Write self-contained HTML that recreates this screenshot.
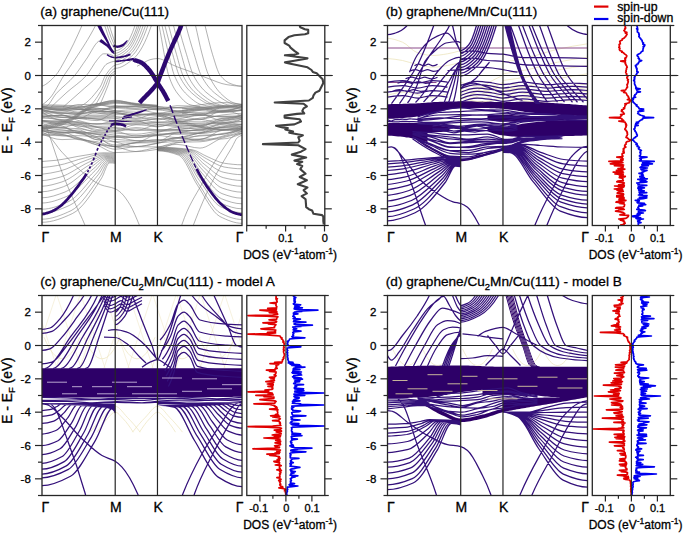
<!DOCTYPE html>
<html><head><meta charset="utf-8"><style>
html,body{margin:0;padding:0;background:#fff;width:685px;height:533px;overflow:hidden;}
svg{display:block;}
text{font-family:"Liberation Sans", sans-serif;fill:#000;stroke:#000;stroke-width:0.3px;}
</style></head><body>
<svg width="685" height="533" viewBox="0 0 685 533">
<g id="bands-a"><clipPath id="clipa"><rect x="42.0" y="25.5" width="200.0" height="200.0"/></clipPath><g clip-path="url(#clipa)"><path d="M42.0,86.2C46.5,84.7 51.0,80.3 55.5,75.5C58.8,72.0 62.0,65.6 65.3,59.8C70.9,49.9 76.4,38.3 82.0,25.5C84.0,20.9 86.0,15.7 88.0,10.5M42.0,104.8C44.7,103.3 47.3,100.9 50.0,98.0C54.6,93.0 59.3,82.6 63.9,75.5C67.5,70.0 71.1,65.4 74.7,59.8C81.6,49.2 88.6,39.1 95.5,25.5C97.0,22.6 98.5,19.0 100.0,15.5M42.0,107.2C43.3,107.2 44.7,106.9 46.0,106.5C49.3,105.6 52.7,97.6 56.0,93.8C62.2,86.9 68.5,82.8 74.7,75.5C78.4,71.1 82.2,64.9 85.9,59.8C90.8,53.2 95.8,40.5 100.7,40.5C103.1,40.5 105.6,44.4 108.0,46.3C110.4,48.3 112.8,50.2 115.2,52.2M51.0,107.2C56.3,102.0 61.7,97.0 67.0,92.2C73.5,86.4 79.9,82.7 86.4,75.5C90.0,71.5 93.6,63.9 97.2,59.8C99.3,57.4 101.5,53.8 103.6,53.8C107.5,53.8 111.3,53.8 115.2,57.8M63.0,107.2C68.7,102.3 74.3,97.3 80.0,92.2C86.0,86.7 92.1,82.2 98.1,75.5C101.1,72.2 104.0,65.3 107.0,63.8C109.7,62.5 112.5,61.3 115.2,61.3M77.5,106.3C85.0,106.3 92.5,97.2 100.0,87.2C101.8,84.8 103.6,78.1 105.4,75.5C108.7,70.7 111.9,66.3 115.2,65.2M90.0,105.5C94.0,102.5 98.0,96.0 102.0,88.8C103.9,85.4 105.8,78.1 107.7,75.5C110.2,72.1 112.7,68.8 115.2,68.5M95.0,105.5C98.3,100.5 101.7,94.1 105.0,87.2C106.7,83.7 108.3,77.5 110.0,75.5C111.7,73.4 113.5,71.4 115.2,71.3M100.0,104.7C102.7,98.7 105.3,92.2 108.0,85.5C109.3,82.3 110.5,76.5 111.8,75.5C112.9,74.6 114.1,73.8 115.2,73.8M100.0,12.2C101.6,16.6 103.1,21.1 104.7,25.5C106.5,30.5 108.2,36.7 110.0,40.5C111.7,44.3 113.5,47.5 115.2,49.7M102.0,12.2C103.7,16.4 105.3,20.8 107.0,25.5C108.3,29.2 109.7,33.8 111.0,37.2C112.4,40.7 113.8,43.8 115.2,46.3M104.0,12.2C105.8,15.9 107.5,20.5 109.3,25.5C110.2,28.0 111.1,31.2 112.0,33.8C113.1,37.0 114.1,40.1 115.2,43.0M115.2,50.8C118.5,50.8 121.8,48.2 125.1,45.3C128.4,42.4 131.7,35.2 135.0,25.5C136.7,20.6 138.3,11.4 140.0,2.2M115.2,53.2C118.9,53.2 122.6,50.2 126.3,47.1C130.0,43.9 133.7,36.2 137.4,25.5C139.1,20.7 140.7,11.4 142.4,2.2M115.2,55.5C119.2,55.5 123.2,52.3 127.2,48.9C131.1,45.5 135.1,37.1 139.1,25.5C140.8,20.6 142.4,11.3 144.1,2.2M115.2,57.8C119.5,57.8 123.8,54.4 128.1,50.7C132.3,47.0 136.6,38.1 140.9,25.5C142.6,20.6 144.2,11.2 145.9,2.2M115.2,60.2C119.9,60.2 124.5,56.5 129.2,52.5C133.9,48.6 138.5,39.1 143.2,25.5C144.9,20.6 146.5,11.1 148.2,2.2M115.2,62.3C120.2,62.3 125.3,58.4 130.3,54.2C135.4,50.0 140.4,40.2 145.5,25.5C147.2,20.7 148.8,11.1 150.5,2.2M115.2,64.8C120.7,64.8 126.1,60.7 131.6,56.2C137.0,51.7 142.4,41.3 147.9,25.5C149.6,20.7 151.2,11.0 152.9,2.2M115.2,68.3C121.2,68.3 127.3,63.8 133.3,58.9C139.3,54.0 145.4,42.9 151.4,25.5C153.1,20.7 154.7,11.0 156.4,2.2M137.0,66.3C139.5,64.9 141.9,63.6 144.4,62.3C146.3,61.4 148.1,60.1 150.0,59.7C152.5,59.1 155.0,58.5 157.5,58.5C159.7,58.5 161.8,59.4 164.0,60.2C166.8,61.1 169.6,63.5 172.4,64.8C178.9,67.8 185.5,69.7 192.0,72.2C197.0,74.1 202.0,76.2 207.0,78.0C213.7,80.4 220.3,83.7 227.0,84.7C232.0,85.4 237.0,86.2 242.0,86.2M200.0,5.5C201.7,12.3 203.3,19.0 205.0,25.5C207.5,35.4 210.1,46.6 212.6,54.7C215.2,62.8 217.7,72.3 220.3,75.5C223.9,79.9 227.4,82.6 231.0,83.8C234.7,85.1 238.3,86.2 242.0,86.2M190.5,5.5C192.2,11.9 193.8,18.6 195.5,25.5C197.7,34.5 199.8,45.8 202.0,53.8C204.3,62.2 206.5,70.8 208.8,75.5C213.2,84.6 217.6,90.6 222.0,94.7C226.0,98.4 230.0,101.7 234.0,103.0C236.7,103.9 239.3,104.7 242.0,104.8M181.9,8.8C183.2,14.7 184.6,20.4 185.9,25.5C188.7,36.2 191.5,45.6 194.3,54.7C196.6,62.1 198.9,71.1 201.2,75.5C205.7,84.0 210.2,89.3 214.7,93.0C221.4,98.5 228.1,103.0 234.9,104.7C238.2,105.5 241.5,106.2 244.9,106.3M174.2,8.8C175.5,14.7 176.9,20.4 178.2,25.5C181.0,36.2 183.8,45.6 186.6,54.7C188.9,62.1 191.2,71.1 193.5,75.5C198.0,84.0 202.5,89.3 207.0,93.0C213.7,98.5 220.4,103.0 227.2,104.7C230.5,105.5 233.8,106.2 237.2,106.3M169.5,8.8C170.8,14.6 172.2,20.2 173.5,25.5C176.1,35.9 178.7,45.6 181.4,54.7C183.5,62.1 185.7,71.1 187.8,75.5C192.0,84.0 196.2,89.3 200.4,93.0C206.7,98.5 213.0,103.1 219.3,104.7C222.6,105.5 225.9,106.3 229.3,106.3M164.7,8.8C166.0,14.6 167.4,20.2 168.7,25.5C171.3,35.9 173.9,45.6 176.6,54.7C178.7,62.1 180.9,71.1 183.0,75.5C187.2,84.0 191.4,89.3 195.6,93.0C201.9,98.5 208.2,103.1 214.5,104.7C217.8,105.5 221.1,106.3 224.5,106.3M160.9,8.8C162.2,14.6 163.6,20.2 164.9,25.5C167.5,35.9 170.1,45.6 172.8,54.7C174.9,62.1 177.1,71.1 179.2,75.5C183.4,84.0 187.6,89.3 191.8,93.0C198.1,98.5 204.4,103.1 210.7,104.7C214.0,105.5 217.3,106.3 220.7,106.3M158.0,8.8C159.3,14.3 160.7,19.9 162.0,25.5C164.3,35.1 166.5,45.6 168.8,54.7C170.7,62.1 172.5,71.1 174.4,75.5C178.0,84.0 181.7,89.3 185.3,93.0C190.8,98.5 196.2,103.3 201.7,104.7C205.0,105.5 208.3,106.3 211.7,106.3M155.0,8.8C156.3,13.6 157.7,19.2 159.0,25.5C160.8,33.9 162.6,45.6 164.3,54.7C165.8,62.1 167.2,71.1 168.7,75.5C171.5,84.0 174.4,89.3 177.2,93.0C181.5,98.5 185.8,103.5 190.0,104.7C193.4,105.6 196.7,106.3 200.0,106.3M42.0,106.4C48.7,108.4 55.3,109.5 62.0,109.5C67.3,109.5 72.7,108.4 78.0,107.7C84.3,106.8 90.7,105.2 97.0,103.9C103.1,102.7 109.1,100.2 115.2,100.2C122.1,100.2 129.1,103.4 136.0,104.4C143.2,105.4 150.3,106.1 157.5,106.6C164.0,107.0 170.5,107.6 177.0,107.6C184.7,107.6 192.3,105.7 200.0,104.8C207.3,104.0 214.7,102.6 222.0,102.6C228.7,102.6 235.3,103.1 242.0,104.3M42.0,107.8C48.7,109.2 55.3,109.2 62.0,109.2C67.3,109.2 72.7,104.5 78.0,104.5C84.3,104.5 90.7,104.7 97.0,105.0C103.1,105.2 109.1,106.7 115.2,106.7C122.1,106.7 129.1,105.5 136.0,105.5C143.2,105.5 150.3,108.5 157.5,108.5C164.0,108.5 170.5,107.9 177.0,107.9C184.7,107.9 192.3,107.9 200.0,107.9C207.3,107.8 214.7,107.8 222.0,107.8C228.7,107.8 235.3,105.9 242.0,104.2M42.0,106.0C48.7,107.9 55.3,109.0 62.0,109.0C67.3,109.0 72.7,108.1 78.0,107.4C84.3,106.7 90.7,104.5 97.0,104.5C103.1,104.5 109.1,107.3 115.2,107.3C122.1,107.3 129.1,106.6 136.0,106.6C143.2,106.6 150.3,108.8 157.5,108.8C164.0,108.8 170.5,107.6 177.0,107.6C184.7,107.6 192.3,110.1 200.0,110.1C207.3,110.1 214.7,107.4 222.0,106.9C228.7,106.4 235.3,105.9 242.0,105.9M42.0,107.0C48.7,109.0 55.3,110.5 62.0,110.5C67.3,110.5 72.7,109.9 78.0,109.7C84.3,109.4 90.7,109.3 97.0,109.1C103.1,108.8 109.1,108.1 115.2,107.7C122.1,107.2 129.1,106.4 136.0,106.4C143.2,106.4 150.3,109.8 157.5,109.8C164.0,109.8 170.5,105.7 177.0,105.7C184.7,105.7 192.3,106.1 200.0,106.7C207.3,107.3 214.7,111.5 222.0,111.5C228.7,111.5 235.3,109.3 242.0,105.8M42.0,109.2C48.7,108.9 55.3,108.9 62.0,108.9C67.3,108.9 72.7,109.2 78.0,109.4C84.3,109.7 90.7,111.6 97.0,111.6C103.1,111.6 109.1,106.3 115.2,106.3C122.1,106.3 129.1,108.3 136.0,108.3C143.2,108.3 150.3,106.5 157.5,106.5C164.0,106.5 170.5,111.1 177.0,111.1C184.7,111.1 192.3,107.4 200.0,107.4C207.3,107.4 214.7,110.3 222.0,110.3C228.7,110.3 235.3,109.3 242.0,107.5M42.0,109.2C48.7,107.4 55.3,106.7 62.0,106.7C67.3,106.7 72.7,109.0 78.0,109.0C84.3,109.0 90.7,103.6 97.0,103.6C103.1,103.6 109.1,105.0 115.2,105.5C122.1,106.1 129.1,106.7 136.0,106.9C143.2,107.2 150.3,107.2 157.5,107.5C164.0,107.8 170.5,110.7 177.0,110.7C184.7,110.7 192.3,110.2 200.0,109.7C207.3,109.1 214.7,106.1 222.0,106.1C228.7,106.1 235.3,106.6 242.0,108.2M42.0,107.8C48.7,109.2 55.3,110.2 62.0,110.2C67.3,110.2 72.7,109.6 78.0,109.6C84.3,109.6 90.7,110.0 97.0,110.0C103.1,110.0 109.1,108.0 115.2,108.0C122.1,108.0 129.1,108.7 136.0,109.0C143.2,109.3 150.3,109.4 157.5,109.8C164.0,110.2 170.5,112.0 177.0,112.0C184.7,112.0 192.3,108.4 200.0,108.4C207.3,108.4 214.7,112.0 222.0,112.0C228.7,112.0 235.3,111.7 242.0,110.4M42.0,111.4C48.7,109.3 55.3,108.9 62.0,108.9C67.3,108.9 72.7,112.2 78.0,112.2C84.3,112.2 90.7,112.2 97.0,112.1C103.1,112.0 109.1,111.4 115.2,111.0C122.1,110.5 129.1,109.6 136.0,109.6C143.2,109.6 150.3,112.6 157.5,113.0C164.0,113.3 170.5,113.6 177.0,113.6C184.7,113.6 192.3,109.7 200.0,109.7C207.3,109.7 214.7,112.5 222.0,112.5C228.7,112.5 235.3,111.2 242.0,109.2M42.0,109.4C48.7,111.0 55.3,112.3 62.0,112.3C67.3,112.3 72.7,112.3 78.0,112.3C84.3,112.2 90.7,108.3 97.0,108.3C103.1,108.3 109.1,109.9 115.2,110.7C122.1,111.7 129.1,113.2 136.0,113.9C143.2,114.6 150.3,115.4 157.5,115.4C164.0,115.4 170.5,112.3 177.0,112.3C184.7,112.3 192.3,112.4 200.0,112.4C207.3,112.4 214.7,110.3 222.0,110.2C228.7,110.1 235.3,110.1 242.0,110.1M42.0,111.0C48.7,112.2 55.3,113.3 62.0,113.5C67.3,113.7 72.7,113.9 78.0,113.9C84.3,113.9 90.7,111.6 97.0,111.5C103.1,111.5 109.1,111.4 115.2,111.4C122.1,111.4 129.1,112.1 136.0,112.1C143.2,112.1 150.3,108.8 157.5,108.8C164.0,108.8 170.5,110.7 177.0,111.7C184.7,112.9 192.3,115.6 200.0,115.6C207.3,115.6 214.7,107.9 222.0,107.9C228.7,107.9 235.3,107.9 242.0,109.1M42.0,112.6C48.7,111.1 55.3,110.9 62.0,110.9C67.3,110.9 72.7,113.3 78.0,113.5C84.3,113.8 90.7,114.0 97.0,114.0C103.1,114.0 109.1,112.9 115.2,112.9C122.1,112.9 129.1,115.2 136.0,115.2C143.2,115.2 150.3,114.0 157.5,113.4C164.0,112.8 170.5,111.3 177.0,111.3C184.7,111.3 192.3,113.8 200.0,113.8C207.3,113.8 214.7,112.4 222.0,111.2C228.7,110.2 235.3,108.5 242.0,106.6M42.0,113.8C48.7,112.9 55.3,112.9 62.0,112.9C67.3,112.9 72.7,114.5 78.0,114.9C84.3,115.3 90.7,115.7 97.0,115.7C103.1,115.7 109.1,115.0 115.2,114.7C122.1,114.5 129.1,114.4 136.0,114.2C143.2,114.0 150.3,113.5 157.5,113.5C164.0,113.5 170.5,115.4 177.0,115.4C184.7,115.4 192.3,114.5 200.0,113.8C207.3,113.2 214.7,111.8 222.0,111.3C228.7,110.9 235.3,110.5 242.0,110.4M42.0,110.3C48.7,111.6 55.3,112.6 62.0,113.1C67.3,113.5 72.7,114.0 78.0,114.0C84.3,114.0 90.7,110.9 97.0,110.9C103.1,110.9 109.1,111.9 115.2,112.5C122.1,113.2 129.1,114.9 136.0,114.9C143.2,114.9 150.3,113.8 157.5,113.8C164.0,113.8 170.5,117.0 177.0,117.0C184.7,117.0 192.3,116.1 200.0,115.4C207.3,114.7 214.7,112.6 222.0,111.9C228.7,111.2 235.3,110.6 242.0,110.3M42.0,109.6C48.7,111.3 55.3,113.0 62.0,114.7C67.3,116.0 72.7,118.6 78.0,118.6C84.3,118.6 90.7,111.5 97.0,111.5C103.1,111.5 109.1,112.0 115.2,112.6C122.1,113.2 129.1,118.2 136.0,118.2C143.2,118.2 150.3,113.4 157.5,113.4C164.0,113.4 170.5,115.0 177.0,115.9C184.7,116.9 192.3,119.1 200.0,119.1C207.3,119.1 214.7,115.8 222.0,115.0C228.7,114.2 235.3,113.5 242.0,113.3M42.0,110.1C48.7,113.7 55.3,117.0 62.0,117.0C67.3,117.0 72.7,116.9 78.0,116.9C84.3,116.9 90.7,116.9 97.0,116.9C103.1,116.8 109.1,116.5 115.2,116.5C122.1,116.5 129.1,118.9 136.0,118.9C143.2,118.9 150.3,117.3 157.5,116.6C164.0,115.9 170.5,114.7 177.0,114.7C184.7,114.7 192.3,114.8 200.0,115.0C207.3,115.2 214.7,116.7 222.0,116.7C228.7,116.7 235.3,116.2 242.0,115.2M42.0,113.8C48.7,115.5 55.3,116.9 62.0,117.5C67.3,117.9 72.7,118.0 78.0,118.4C84.3,118.9 90.7,120.6 97.0,120.6C103.1,120.6 109.1,112.9 115.2,112.9C122.1,112.9 129.1,115.1 136.0,116.2C143.2,117.4 150.3,119.9 157.5,119.9C164.0,119.9 170.5,116.5 177.0,115.8C184.7,115.1 192.3,114.4 200.0,114.4C207.3,114.4 214.7,120.3 222.0,120.3C228.7,120.3 235.3,118.3 242.0,114.6M42.0,115.4C48.7,115.4 55.3,115.4 62.0,115.5C67.3,115.5 72.7,117.8 78.0,118.1C84.3,118.4 90.7,118.6 97.0,118.6C103.1,118.6 109.1,118.3 115.2,118.0C122.1,117.7 129.1,115.8 136.0,115.4C143.2,114.9 150.3,114.5 157.5,114.5C164.0,114.5 170.5,119.5 177.0,119.6C184.7,119.6 192.3,119.7 200.0,119.7C207.3,119.7 214.7,110.9 222.0,110.9C228.7,110.9 235.3,112.3 242.0,116.1M42.0,116.5C48.7,116.9 55.3,117.2 62.0,117.4C67.3,117.5 72.7,117.6 78.0,117.6C84.3,117.6 90.7,117.0 97.0,117.0C103.1,117.0 109.1,117.6 115.2,118.2C122.1,118.8 129.1,121.8 136.0,121.8C143.2,121.8 150.3,118.8 157.5,118.8C164.0,118.8 170.5,118.9 177.0,118.9C184.7,118.9 192.3,114.9 200.0,114.9C207.3,114.9 214.7,116.8 222.0,117.0C228.7,117.2 235.3,117.4 242.0,117.4M42.0,118.1C48.7,115.4 55.3,115.2 62.0,115.2C67.3,115.2 72.7,119.1 78.0,120.4C84.3,122.0 90.7,124.2 97.0,124.2C103.1,124.2 109.1,121.2 115.2,121.2C122.1,121.1 129.1,121.1 136.0,121.1C143.2,121.0 150.3,118.3 157.5,118.3C164.0,118.3 170.5,122.3 177.0,122.3C184.7,122.3 192.3,119.0 200.0,118.1C207.3,117.2 214.7,116.1 222.0,116.1C228.7,116.1 235.3,116.2 242.0,116.8M42.0,117.1C48.7,115.8 55.3,115.3 62.0,115.3C67.3,115.3 72.7,116.1 78.0,116.6C84.3,117.3 90.7,118.6 97.0,119.2C103.1,119.8 109.1,120.4 115.2,120.4C122.1,120.4 129.1,119.8 136.0,119.8C143.2,119.8 150.3,121.9 157.5,121.9C164.0,121.9 170.5,121.3 177.0,121.3C184.7,121.3 192.3,121.9 200.0,121.9C207.3,121.9 214.7,119.4 222.0,118.4C228.7,117.6 235.3,116.8 242.0,116.2M42.0,111.9C48.7,116.4 55.3,119.9 62.0,119.9C67.3,119.9 72.7,118.3 78.0,118.3C84.3,118.3 90.7,118.7 97.0,119.2C103.1,119.7 109.1,122.5 115.2,122.5C122.1,122.5 129.1,120.8 136.0,120.8C143.2,120.8 150.3,126.9 157.5,126.9C164.0,126.9 170.5,122.8 177.0,121.8C184.7,120.6 192.3,119.3 200.0,119.3C207.3,119.3 214.7,123.9 222.0,123.9C228.7,123.9 235.3,122.1 242.0,119.0M42.0,116.0C48.7,117.7 55.3,119.3 62.0,120.7C67.3,121.9 72.7,123.8 78.0,123.8C84.3,123.8 90.7,123.6 97.0,123.6C103.1,123.6 109.1,124.3 115.2,124.3C122.1,124.3 129.1,122.7 136.0,122.7C143.2,122.6 150.3,122.6 157.5,122.6C164.0,122.6 170.5,123.4 177.0,123.4C184.7,123.4 192.3,123.3 200.0,123.2C207.3,123.0 214.7,121.4 222.0,120.0C228.7,118.7 235.3,116.9 242.0,114.7M42.0,118.1C48.7,118.2 55.3,118.9 62.0,119.6C67.3,120.2 72.7,121.6 78.0,122.6C84.3,123.8 90.7,126.3 97.0,126.3C103.1,126.3 109.1,126.0 115.2,125.8C122.1,125.4 129.1,123.8 136.0,123.8C143.2,123.8 150.3,124.0 157.5,124.3C164.0,124.5 170.5,125.4 177.0,125.6C184.7,125.7 192.3,125.9 200.0,125.9C207.3,125.9 214.7,121.3 222.0,120.4C228.7,119.6 235.3,118.8 242.0,118.7M42.0,120.2C48.7,121.2 55.3,122.1 62.0,122.3C67.3,122.4 72.7,122.4 78.0,122.5C84.3,122.7 90.7,124.1 97.0,124.1C103.1,124.1 109.1,123.5 115.2,123.5C122.1,123.5 129.1,124.3 136.0,124.3C143.2,124.3 150.3,122.7 157.5,122.7C164.0,122.7 170.5,122.9 177.0,123.0C184.7,123.2 192.3,124.1 200.0,124.1C207.3,124.1 214.7,122.6 222.0,121.5C228.7,120.5 235.3,119.2 242.0,117.7M42.0,120.8C48.7,121.0 55.3,121.1 62.0,121.2C67.3,121.3 72.7,121.4 78.0,121.6C84.3,121.8 90.7,126.0 97.0,127.3C103.1,128.5 109.1,130.1 115.2,130.1C122.1,130.1 129.1,124.8 136.0,124.8C143.2,124.8 150.3,126.3 157.5,126.3C164.0,126.3 170.5,124.1 177.0,124.1C184.7,124.1 192.3,126.9 200.0,126.9C207.3,126.9 214.7,119.1 222.0,118.6C228.7,118.2 235.3,117.9 242.0,117.9M42.0,121.1C48.7,122.4 55.3,123.4 62.0,123.8C67.3,124.1 72.7,124.1 78.0,124.4C84.3,124.8 90.7,126.4 97.0,127.0C103.1,127.5 109.1,127.7 115.2,128.2C122.1,128.8 129.1,130.5 136.0,130.5C143.2,130.5 150.3,124.8 157.5,124.8C164.0,124.8 170.5,126.5 177.0,126.5C184.7,126.5 192.3,125.6 200.0,125.0C207.3,124.3 214.7,122.7 222.0,122.7C228.7,122.7 235.3,123.4 242.0,124.7M42.0,120.6C48.7,122.2 55.3,123.6 62.0,124.4C67.3,125.1 72.7,125.5 78.0,126.0C84.3,126.5 90.7,126.8 97.0,127.4C103.1,128.1 109.1,130.7 115.2,130.7C122.1,130.7 129.1,127.6 136.0,127.6C143.2,127.6 150.3,129.7 157.5,129.7C164.0,129.7 170.5,129.4 177.0,129.2C184.7,128.9 192.3,128.4 200.0,127.7C207.3,126.9 214.7,124.8 222.0,123.3C228.7,121.9 235.3,120.6 242.0,119.2M42.0,123.5C48.7,126.4 55.3,127.5 62.0,127.5C67.3,127.5 72.7,124.0 78.0,124.0C84.3,124.0 90.7,130.7 97.0,130.7C103.1,130.7 109.1,127.5 115.2,127.5C122.1,127.5 129.1,130.3 136.0,130.4C143.2,130.6 150.3,130.7 157.5,130.7C164.0,130.7 170.5,130.1 177.0,129.5C184.7,128.9 192.3,127.0 200.0,125.8C207.3,124.7 214.7,123.0 222.0,122.6C228.7,122.1 235.3,121.8 242.0,121.8M42.0,121.1C48.7,121.0 55.3,121.0 62.0,121.0C67.3,121.0 72.7,125.8 78.0,127.4C84.3,129.2 90.7,131.1 97.0,131.8C103.1,132.5 109.1,132.7 115.2,133.1C122.1,133.5 129.1,134.2 136.0,134.2C143.2,134.2 150.3,132.0 157.5,131.5C164.0,131.1 170.5,130.8 177.0,130.6C184.7,130.4 192.3,130.5 200.0,130.2C207.3,130.0 214.7,124.0 222.0,124.0C228.7,124.0 235.3,124.8 242.0,127.3M42.0,126.4C48.7,123.2 55.3,121.9 62.0,121.9C67.3,121.9 72.7,124.5 78.0,125.6C84.3,127.0 90.7,128.6 97.0,129.5C103.1,130.2 109.1,131.2 115.2,131.2C122.1,131.2 129.1,128.9 136.0,128.9C143.2,128.9 150.3,130.1 157.5,130.1C164.0,130.1 170.5,129.9 177.0,129.9C184.7,129.9 192.3,130.9 200.0,130.9C207.3,130.9 214.7,126.9 222.0,126.0C228.7,125.2 235.3,124.4 242.0,124.2M42.0,125.9C48.7,126.9 55.3,127.8 62.0,128.1C67.3,128.3 72.7,128.3 78.0,128.6C84.3,128.9 90.7,132.1 97.0,132.1C103.1,132.1 109.1,131.5 115.2,131.5C122.1,131.5 129.1,136.1 136.0,136.1C143.2,136.1 150.3,134.0 157.5,132.5C164.0,131.2 170.5,127.3 177.0,127.3C184.7,127.3 192.3,129.2 200.0,129.2C207.3,129.2 214.7,125.6 222.0,124.2C228.7,123.0 235.3,121.9 242.0,121.1M42.0,122.6C48.7,122.9 55.3,124.3 62.0,125.9C67.3,127.2 72.7,131.6 78.0,132.1C84.3,132.6 90.7,132.5 97.0,133.0C103.1,133.4 109.1,134.4 115.2,135.1C122.1,135.9 129.1,137.6 136.0,137.6C143.2,137.6 150.3,134.1 157.5,134.1C164.0,134.1 170.5,134.4 177.0,134.4C184.7,134.4 192.3,134.0 200.0,133.4C207.3,132.9 214.7,128.3 222.0,127.0C228.7,125.7 235.3,124.6 242.0,124.2M42.0,127.3C48.7,128.4 55.3,129.4 62.0,130.0C67.3,130.5 72.7,130.6 78.0,131.2C84.3,131.8 90.7,133.4 97.0,134.2C103.1,135.0 109.1,136.3 115.2,136.3C122.1,136.3 129.1,135.9 136.0,135.7C143.2,135.5 150.3,135.4 157.5,135.0C164.0,134.7 170.5,132.8 177.0,132.0C184.7,131.2 192.3,130.7 200.0,129.9C207.3,129.2 214.7,128.0 222.0,127.4C228.7,126.9 235.3,126.4 242.0,126.1M42.0,127.9C48.7,127.9 55.3,127.9 62.0,128.0C67.3,128.0 72.7,130.3 78.0,131.3C84.3,132.4 90.7,133.0 97.0,134.5C103.1,136.0 109.1,141.3 115.2,141.6C122.1,141.9 129.1,142.1 136.0,142.1C143.2,142.1 150.3,135.3 157.5,134.4C164.0,133.7 170.5,133.7 177.0,133.1C184.7,132.3 192.3,129.8 200.0,129.0C207.3,128.3 214.7,128.1 222.0,127.5C228.7,126.9 235.3,126.0 242.0,125.0M42.0,127.3C48.7,130.6 55.3,132.4 62.0,132.4C67.3,132.4 72.7,129.9 78.0,129.9C84.3,129.9 90.7,136.5 97.0,136.6C103.1,136.7 109.1,136.7 115.2,136.8C122.1,136.8 129.1,137.4 136.0,137.4C143.2,137.4 150.3,136.3 157.5,135.6C164.0,134.9 170.5,132.9 177.0,132.9C184.7,132.9 192.3,133.6 200.0,133.6C207.3,133.6 214.7,131.5 222.0,130.5C228.7,129.5 235.3,128.7 242.0,127.9M42.0,128.8C48.7,127.0 55.3,127.0 62.0,127.0C67.3,127.0 72.7,132.7 78.0,133.2C84.3,133.7 90.7,133.6 97.0,134.0C103.1,134.5 109.1,137.2 115.2,137.3C122.1,137.3 129.1,137.4 136.0,137.4C143.2,137.4 150.3,135.5 157.5,135.5C164.0,135.5 170.5,137.6 177.0,137.6C184.7,137.6 192.3,134.5 200.0,132.8C207.3,131.1 214.7,127.3 222.0,127.3C228.7,127.3 235.3,127.3 242.0,128.2M42.0,128.9C48.7,130.7 55.3,132.3 62.0,132.4C67.3,132.5 72.7,132.5 78.0,132.6C84.3,132.7 90.7,139.6 97.0,139.6C103.1,139.6 109.1,136.8 115.2,136.8C122.1,136.8 129.1,140.4 136.0,140.7C143.2,141.0 150.3,141.2 157.5,141.2C164.0,141.2 170.5,133.2 177.0,132.9C184.7,132.6 192.3,132.7 200.0,132.4C207.3,132.2 214.7,131.2 222.0,130.2C228.7,129.3 235.3,128.0 242.0,126.5M42.0,130.3C48.7,131.2 55.3,132.0 62.0,132.3C67.3,132.4 72.7,132.4 78.0,132.6C84.3,132.8 90.7,135.5 97.0,136.6C103.1,137.6 109.1,138.8 115.2,139.3C122.1,139.9 129.1,140.6 136.0,140.6C143.2,140.6 150.3,140.3 157.5,140.0C164.0,139.8 170.5,138.8 177.0,137.8C184.7,136.7 192.3,134.5 200.0,133.0C207.3,131.6 214.7,129.3 222.0,129.1C228.7,129.0 235.3,128.9 242.0,128.9M42.0,131.3C48.7,130.1 55.3,130.1 62.0,130.1C67.3,130.1 72.7,132.2 78.0,133.4C84.3,134.8 90.7,136.1 97.0,138.0C103.1,139.8 109.1,145.0 115.2,145.0C122.1,145.0 129.1,143.4 136.0,142.8C143.2,142.2 150.3,141.9 157.5,141.1C164.0,140.4 170.5,138.0 177.0,138.0C184.7,138.0 192.3,139.5 200.0,139.5C207.3,139.5 214.7,131.4 222.0,130.2C228.7,129.2 235.3,128.3 242.0,128.3M42.0,130.2C48.7,133.0 55.3,135.6 62.0,135.7C67.3,135.7 72.7,135.7 78.0,135.7C84.3,135.7 90.7,136.6 97.0,137.7C103.1,138.8 109.1,146.6 115.2,146.6C122.1,146.6 129.1,143.6 136.0,142.5C143.2,141.4 150.3,139.7 157.5,139.7C164.0,139.7 170.5,140.7 177.0,140.7C184.7,140.7 192.3,135.9 200.0,135.3C207.3,134.7 214.7,134.9 222.0,134.2C228.7,133.6 235.3,130.5 242.0,127.2M42.0,130.7C48.7,132.5 55.3,133.6 62.0,133.6C67.3,133.6 72.7,132.4 78.0,132.4C84.3,132.4 90.7,138.6 97.0,139.8C103.1,140.9 109.1,141.1 115.2,142.0C122.1,143.2 129.1,146.6 136.0,146.6C143.2,146.6 150.3,144.7 157.5,143.4C164.0,142.2 170.5,139.6 177.0,138.6C184.7,137.4 192.3,136.7 200.0,136.0C207.3,135.4 214.7,135.3 222.0,134.4C228.7,133.7 235.3,131.3 242.0,128.7M42.0,134.6C48.7,134.4 55.3,134.4 62.0,134.4C67.3,134.4 72.7,138.6 78.0,139.6C84.3,140.6 90.7,140.7 97.0,141.7C103.1,142.7 109.1,146.8 115.2,146.8C122.1,146.8 129.1,146.7 136.0,146.6C143.2,146.5 150.3,144.5 157.5,143.0C164.0,141.6 170.5,137.6 177.0,137.6C184.7,137.6 192.3,140.7 200.0,140.7C207.3,140.7 214.7,138.2 222.0,136.3C228.7,134.6 235.3,131.9 242.0,128.9M42.0,134.1C48.7,132.0 55.3,132.0 62.0,132.0C67.3,132.0 72.7,135.9 78.0,137.6C84.3,139.7 90.7,141.9 97.0,143.3C103.1,144.5 109.1,146.3 115.2,146.3C122.1,146.3 129.1,143.0 136.0,142.9C143.2,142.9 150.3,142.9 157.5,142.8C164.0,142.7 170.5,141.7 177.0,141.1C184.7,140.4 192.3,139.1 200.0,139.0C207.3,139.0 214.7,139.0 222.0,139.0C228.7,139.0 235.3,136.2 242.0,133.5M42.0,131.0C48.7,132.2 55.3,133.4 62.0,134.7C67.3,135.7 72.7,136.6 78.0,137.9C84.3,139.3 90.7,141.3 97.0,143.2C103.1,145.0 109.1,149.2 115.2,149.2C122.1,149.2 129.1,146.8 136.0,146.8C143.2,146.8 150.3,146.9 157.5,146.9C164.0,146.9 170.5,142.6 177.0,142.3C184.7,142.0 192.3,142.1 200.0,141.8C207.3,141.6 214.7,138.9 222.0,137.1C228.7,135.5 235.3,133.6 242.0,131.5M42.0,135.4C48.7,135.4 55.3,135.5 62.0,135.8C67.3,135.9 72.7,137.5 78.0,138.8C84.3,140.3 90.7,143.8 97.0,144.8C103.1,145.7 109.1,145.8 115.2,146.7C122.1,147.7 129.1,151.6 136.0,151.6C143.2,151.6 150.3,150.5 157.5,149.3C164.0,148.3 170.5,144.2 177.0,142.8C184.7,141.2 192.3,140.9 200.0,139.4C207.3,138.0 214.7,134.5 222.0,133.5C228.7,132.5 235.3,131.7 242.0,131.6M42.0,133.8C48.7,136.9 55.3,139.6 62.0,139.6C67.3,139.6 72.7,139.0 78.0,139.0C84.3,139.0 90.7,142.9 97.0,145.1C103.1,147.3 109.1,152.6 115.2,152.6C122.1,152.6 129.1,152.1 136.0,151.5C143.2,150.9 150.3,148.6 157.5,147.4C164.0,146.3 170.5,144.4 177.0,144.4C184.7,144.4 192.3,148.1 200.0,148.1C207.3,148.1 214.7,140.4 222.0,138.1C228.7,136.1 235.3,134.3 242.0,133.4M42.0,104.8C52.0,104.8 62.0,105.1 72.0,105.5C82.0,105.9 92.0,107.6 102.0,108.8C106.4,109.4 110.8,109.9 115.2,110.5M182.0,108.8C192.0,107.8 202.0,107.0 212.0,106.3C222.0,105.7 232.0,105.2 242.0,104.8M42.0,105.7C52.0,105.7 62.0,106.0 72.0,106.3C82.0,106.7 92.0,109.2 102.0,110.5C106.4,111.1 110.8,111.6 115.2,112.2M182.0,110.5C192.0,109.1 202.0,107.9 212.0,107.2C222.0,106.5 232.0,105.9 242.0,105.7M42.0,106.5C52.0,106.5 62.0,106.8 72.0,107.2C82.0,107.6 92.0,110.8 102.0,112.2C106.4,112.8 110.8,113.3 115.2,113.8M182.0,112.2C192.0,110.3 202.0,108.7 212.0,108.0C222.0,107.3 232.0,106.6 242.0,106.5M42.0,107.3C52.0,107.3 62.0,107.6 72.0,108.0C82.0,108.4 92.0,112.3 102.0,113.8C106.4,114.5 110.8,115.0 115.2,115.5M182.0,113.8C192.0,111.6 202.0,109.6 212.0,108.8C222.0,108.1 232.0,107.3 242.0,107.3M42.0,129.7C50.3,128.8 58.7,126.1 67.0,123.0C75.5,119.9 84.1,110.2 92.6,107.7C100.1,105.4 107.7,103.2 115.2,103.2C122.5,103.2 129.7,104.5 137.0,105.2C143.8,105.8 150.7,106.3 157.5,106.8M42.0,129.0C50.3,128.1 58.7,125.4 67.0,122.3C75.5,119.2 84.1,109.7 92.6,107.2C100.1,104.9 107.7,102.7 115.2,102.7C122.5,102.7 129.7,104.2 137.0,104.8C143.8,105.4 150.7,106.0 157.5,106.5M42.0,128.3C50.3,127.4 58.7,124.7 67.0,121.7C75.5,118.5 84.1,109.2 92.6,106.7C100.1,104.5 107.7,102.2 115.2,102.2C122.5,102.2 129.7,103.8 137.0,104.5C143.8,105.1 150.7,105.7 157.5,106.2M42.0,127.7C50.3,126.7 58.7,124.0 67.0,121.0C75.5,117.9 84.1,108.7 92.6,106.2C100.1,104.0 107.7,101.7 115.2,101.7C122.5,101.7 129.7,103.5 137.0,104.2C143.8,104.8 150.7,105.4 157.5,105.8M42.0,127.0C50.3,126.0 58.7,123.4 67.0,120.3C75.5,117.2 84.1,108.2 92.6,105.7C100.1,103.5 107.7,101.2 115.2,101.2C122.5,101.2 129.7,103.1 137.0,103.8C143.8,104.5 150.7,105.1 157.5,105.5M42.0,126.3C50.3,125.3 58.7,122.7 67.0,119.7C75.5,116.6 84.1,107.7 92.6,105.2C100.1,103.0 107.7,100.7 115.2,100.7C122.5,100.7 129.7,102.8 137.0,103.5C143.8,104.2 150.7,104.8 157.5,105.2M157.5,113.8C169.0,117.8 180.5,121.1 192.0,123.8C200.3,125.8 208.7,128.4 217.0,128.8C225.3,129.3 233.7,129.7 242.0,129.7M157.5,114.7C169.0,118.7 180.5,122.1 192.0,124.7C200.3,126.5 208.7,128.8 217.0,129.3C225.3,129.9 233.7,130.3 242.0,130.3M157.5,115.5C169.0,119.6 180.5,123.0 192.0,125.5C200.3,127.3 208.7,129.2 217.0,129.8C225.3,130.4 233.7,131.0 242.0,131.0M42.0,161.5C46.7,161.2 51.3,160.8 56.0,160.3C65.3,159.2 74.7,156.7 84.0,155.4C90.7,154.4 97.3,152.8 104.0,152.8C107.7,152.8 111.5,152.9 115.2,153.3M42.0,167.5C47.2,167.1 52.3,166.4 57.5,165.5C66.9,163.9 76.2,159.7 85.6,157.6C91.9,156.1 98.2,153.7 104.5,153.7C108.1,153.7 111.6,153.8 115.2,154.2M42.0,174.2C47.7,173.7 53.3,172.6 59.0,171.3C68.4,169.2 77.8,163.1 87.2,159.9C93.1,157.9 99.1,154.7 105.0,154.7C108.4,154.7 111.8,154.7 115.2,155.2M42.0,180.7C48.2,180.2 54.3,178.7 60.5,177.0C69.9,174.3 79.4,166.4 88.8,162.2C94.4,159.7 99.9,155.6 105.5,155.6C108.7,155.6 112.0,155.6 115.2,156.1M42.0,186.3C48.7,186.0 55.3,184.0 62.0,181.9C71.5,178.9 80.9,169.5 90.4,164.3C95.6,161.5 100.8,156.5 106.0,156.5C109.1,156.5 112.1,156.5 115.2,157.0M42.0,191.8C49.2,191.6 56.3,189.2 63.5,186.7C73.0,183.4 82.5,172.6 92.0,166.4C96.8,163.2 101.7,157.4 106.5,157.4C109.4,157.4 112.3,157.4 115.2,157.9M42.0,197.8C49.7,197.8 57.3,194.9 65.0,192.0C74.5,188.4 84.1,176.1 93.6,168.6C98.1,165.1 102.5,158.3 107.0,158.3C109.7,158.3 112.5,158.3 115.2,158.8M42.0,203.0C50.2,203.0 58.3,199.8 66.5,196.5C76.1,192.6 85.6,179.3 95.2,170.6C99.3,166.8 103.4,159.2 107.5,159.2C110.1,159.2 112.6,159.2 115.2,159.8M42.0,209.2C50.7,209.2 59.3,205.7 68.0,201.9C77.6,197.7 87.2,183.1 96.8,172.8C100.5,168.8 104.3,160.2 108.0,160.2C110.4,160.2 112.8,160.2 115.2,160.7M42.0,213.2C51.2,213.2 60.3,209.5 69.5,205.4C79.1,201.2 88.8,186.1 98.4,174.5C101.8,170.4 105.1,161.1 108.5,161.1C110.7,161.1 113.0,161.1 115.2,161.6M42.0,219.2C51.7,219.2 61.3,215.2 71.0,210.7C80.7,206.1 90.3,190.2 100.0,176.7C103.0,172.5 106.0,162.0 109.0,162.0C111.1,162.0 113.1,162.0 115.2,162.5M42.0,222.3C52.2,222.3 62.3,218.3 72.5,213.5C82.2,208.9 91.9,193.3 101.6,178.1C104.2,174.0 106.9,162.9 109.5,162.9C111.4,162.9 113.3,162.9 115.2,163.4M157.5,147.2C169.0,147.2 180.5,148.1 192.0,149.7C197.0,150.4 202.0,154.4 207.0,156.5C212.8,158.9 218.7,162.5 224.5,163.3C230.3,164.1 236.2,164.8 242.0,164.8M157.5,147.5C168.6,147.5 179.7,148.5 190.8,150.2C195.9,151.0 201.0,156.0 206.2,158.6C212.1,161.6 218.1,165.9 224.1,167.0C230.1,168.0 236.0,168.8 242.0,168.8M157.5,147.8C168.2,147.8 178.9,148.8 189.6,150.7C194.8,151.6 200.1,158.1 205.3,161.5C211.4,165.4 217.5,171.0 223.7,172.3C229.8,173.6 235.9,174.7 242.0,174.7M157.5,148.2C167.8,148.2 178.1,149.2 188.4,151.2C193.8,152.2 199.1,160.3 204.5,164.4C210.7,169.1 217.0,176.0 223.2,177.6C229.5,179.2 235.7,180.5 242.0,180.5M157.5,148.5C167.4,148.5 177.3,149.6 187.2,151.7C192.7,152.8 198.2,162.5 203.6,167.3C210.0,172.9 216.4,181.0 222.8,182.9C229.2,184.8 235.6,186.3 242.0,186.3M157.5,148.8C167.0,148.8 176.5,150.0 186.0,152.2C191.6,153.4 197.2,164.6 202.8,170.2C209.3,176.6 215.9,186.0 222.4,188.2C228.9,190.3 235.5,192.2 242.0,192.2M157.5,149.2C166.6,149.2 175.7,150.4 184.8,152.7C190.5,154.1 196.2,166.8 202.0,173.1C208.6,180.5 215.3,191.1 222.0,193.6C228.7,196.1 235.3,198.2 242.0,198.2M157.5,149.5C166.2,149.5 174.9,150.8 183.6,153.2C189.4,154.7 195.3,168.9 201.1,176.0C207.9,184.2 214.7,196.0 221.6,198.8C228.4,201.5 235.2,203.8 242.0,203.8M157.5,149.8C165.8,149.8 174.1,151.3 182.4,153.7C188.4,155.4 194.3,170.8 200.3,178.5C207.2,187.4 214.2,200.3 221.1,203.3C228.1,206.3 235.0,208.8 242.0,208.8M157.5,150.2C165.4,150.2 173.3,151.7 181.2,154.2C187.3,156.1 193.4,172.4 199.4,180.5C206.5,190.0 213.6,203.6 220.7,206.8C227.8,210.0 234.9,212.7 242.0,212.7M157.5,150.5C165.0,150.5 172.5,152.1 180.0,154.7C186.2,156.8 192.4,174.8 198.6,183.8C205.8,194.3 213.1,209.5 220.3,213.0C227.5,216.6 234.8,219.5 242.0,219.5M157.5,150.8C164.6,150.8 171.7,152.6 178.8,155.2C185.1,157.5 191.4,176.4 197.8,185.8C205.1,196.9 212.5,212.8 219.9,216.5C227.3,220.2 234.6,223.3 242.0,223.3M46.0,125.5C47.3,129.4 48.7,133.3 50.0,137.2C54.0,148.8 58.0,161.7 62.0,172.2C66.7,184.4 71.3,194.9 76.0,205.5C78.9,212.0 81.7,217.2 84.6,224.3C85.7,227.2 86.9,230.5 88.0,233.8M42.0,132.2C43.3,132.5 44.7,133.1 46.0,133.8C51.3,136.8 56.7,146.5 62.0,152.2C68.2,158.7 74.3,165.4 80.5,170.5C87.3,176.1 94.0,182.2 100.8,184.8C105.6,186.7 110.4,186.8 115.2,188.8C117.1,189.6 119.1,191.1 121.0,192.8C124.0,195.5 127.0,199.9 130.0,204.8C133.2,210.1 136.3,217.8 139.5,225.5C140.3,227.5 141.2,229.9 142.0,232.2M180.0,232.2C180.7,229.4 181.3,226.3 182.0,224.3C188.7,204.8 195.3,196.0 202.0,183.8C208.7,171.6 215.3,160.3 222.0,150.5C225.2,145.8 228.5,140.1 231.7,137.5C233.8,135.8 235.9,134.5 238.0,133.8C239.3,133.4 240.7,133.1 242.0,133.0M191.0,232.2C191.9,229.5 192.8,226.7 193.7,224.3C199.8,208.2 205.9,194.3 212.0,182.2C218.7,168.9 225.3,158.7 232.0,147.2C233.9,143.9 235.7,138.8 237.6,137.5C239.1,136.5 240.5,135.5 242.0,135.5" fill="none" stroke="#7e7e7e" stroke-width="0.6"/>
<path d="M42.2,215.5 42.9,215.4 43.6,215.3 44.3,215.2 45.1,215.0 45.8,214.8 46.5,214.6 47.2,214.4 47.9,214.2 48.6,214.0 49.3,213.7 50.0,213.5 50.7,213.2 51.4,212.9 52.1,212.7 52.8,212.4 53.5,212.1 54.3,211.7 55.0,211.3 55.7,210.9 56.4,210.5 57.1,210.1 57.8,209.6 58.6,209.1 59.3,208.6 60.0,208.1 60.7,207.6 61.4,207.1 62.1,206.5 62.8,205.9 63.5,205.2 64.2,204.6 64.9,203.9 65.6,203.2 66.3,202.4 67.0,201.7 67.7,200.9 68.4,200.2 69.1,199.4 69.8,198.6 70.5,197.8 71.2,197.0 71.8,196.2 72.5,195.4 73.2,194.6 73.9,193.7 74.6,192.8 75.3,192.0 76.0,191.1 76.7,190.1 77.4,189.2 78.1,188.3 78.8,187.4 79.5,186.4 80.1,185.5 80.8,184.5 81.5,183.6 82.2,182.6 82.9,181.7 83.6,180.7 84.3,179.7 85.0,178.7 85.7,177.7 86.4,176.6 87.1,175.5 87.8,174.4 85.4,173.0 84.8,174.1 84.1,175.2 83.4,176.2 82.7,177.2 82.1,178.2 81.4,179.1 80.7,180.1 80.0,181.0 79.3,182.0 78.6,182.9 78.0,183.9 77.3,184.8 76.6,185.8 75.9,186.7 75.2,187.6 74.5,188.5 73.9,189.4 73.2,190.3 72.5,191.2 71.8,192.0 71.1,192.9 70.5,193.7 69.8,194.5 69.1,195.3 68.4,196.0 67.7,196.8 67.1,197.6 66.4,198.4 65.7,199.1 65.0,199.9 64.3,200.6 63.7,201.3 63.0,202.0 62.3,202.6 61.7,203.2 61.0,203.8 60.3,204.4 59.7,204.9 59.0,205.4 58.4,205.9 57.7,206.4 57.0,206.9 56.3,207.4 55.7,207.8 55.0,208.2 54.4,208.6 53.7,209.0 53.1,209.3 52.4,209.6 51.8,209.9 51.1,210.2 50.4,210.4 49.8,210.7 49.1,210.9 48.4,211.2 47.7,211.4 47.1,211.6 46.4,211.8 45.8,212.0 45.1,212.2 44.4,212.4 43.8,212.5 43.1,212.6 42.5,212.7 41.8,212.8ZM88.2,172.5 88.5,172.1 88.7,171.7 88.9,171.3 89.1,170.9 89.3,170.5 87.8,169.8 87.6,170.1 87.4,170.5 87.2,170.9 87.0,171.3 86.8,171.7ZM90.2,168.9 90.4,168.4 90.6,168.0 90.8,167.6 91.0,167.2 91.2,166.7 89.7,166.0 89.5,166.4 89.3,166.8 89.1,167.3 88.8,167.7 88.6,168.1ZM92.1,164.9 92.3,164.5 92.5,164.0 92.7,163.6 92.9,163.1 93.1,162.6 91.6,161.9 91.4,162.4 91.2,162.8 90.9,163.3 90.7,163.7 90.5,164.2ZM94.0,160.7 94.2,160.2 94.4,159.7 94.6,159.2 94.8,158.6 95.0,158.1 93.5,157.5 93.2,158.0 93.0,158.5 92.8,159.0 92.6,159.5 92.4,160.0ZM95.9,155.9 96.1,155.3 96.3,154.8 96.5,154.2 96.7,153.6 96.9,153.1 95.4,152.5 95.1,153.0 94.9,153.6 94.7,154.2 94.5,154.7 94.3,155.3ZM97.8,150.9 98.0,150.4 98.2,149.8 98.4,149.3 98.6,148.8 98.8,148.3 97.3,147.7 97.1,148.2 96.8,148.7 96.6,149.2 96.4,149.7 96.2,150.3ZM99.7,146.5 99.9,146.1 100.1,145.6 100.3,145.2 100.5,144.8 100.7,144.4 99.2,143.6 99.0,144.0 98.8,144.5 98.6,144.9 98.3,145.3 98.1,145.8ZM101.5,142.8 101.8,142.4 102.0,142.0 102.2,141.6 102.4,141.2 102.6,140.9 101.1,140.0 100.9,140.4 100.7,140.8 100.5,141.2 100.3,141.6 100.1,142.0ZM103.4,139.4 103.6,139.0 103.9,138.6 104.1,138.3 104.3,137.9 104.5,137.6 103.0,136.7 102.8,137.1 102.6,137.4 102.4,137.8 102.2,138.2 102.0,138.5ZM105.3,136.1 105.5,135.8 105.8,135.4 106.0,135.0 106.2,134.6 106.4,134.3 104.9,133.4 104.7,133.8 104.5,134.2 104.3,134.5 104.1,134.9 103.9,135.2ZM107.2,132.7 107.5,132.3 107.7,131.9 107.9,131.5 108.1,131.2 108.3,130.8 106.8,130.0 106.6,130.3 106.4,130.7 106.2,131.1 106.0,131.5 105.8,131.9ZM109.1,129.5 109.3,129.1 109.5,128.9 109.7,128.6 109.9,128.4 110.1,128.1 108.8,127.0 108.6,127.3 108.3,127.6 108.1,127.9 107.9,128.2 107.7,128.5ZM110.9,127.4 111.1,127.2 111.3,127.0 111.5,126.8 111.7,126.7 111.9,126.5 110.8,125.2 110.6,125.4 110.4,125.5 110.2,125.7 110.0,125.9 109.7,126.1ZM111.5,126.2 112.2,125.9 112.9,125.6 113.5,125.4 114.1,125.3 114.7,125.2 115.3,125.1 116.0,125.1 116.6,125.2 117.3,125.2 118.0,125.3 118.7,125.4 119.4,125.5 120.1,125.6 120.8,125.8 121.5,125.9 122.1,126.0 122.7,126.2 123.3,126.5 124.0,126.8 124.7,127.1 125.4,127.5 126.6,125.2 125.9,124.8 125.1,124.4 124.4,124.1 123.6,123.8 122.8,123.5 122.0,123.3 121.2,123.2 120.5,123.1 119.8,122.9 119.0,122.8 118.3,122.7 117.6,122.7 116.8,122.6 116.0,122.5 115.3,122.5 114.4,122.6 113.6,122.7 112.8,122.9 112.0,123.2 111.2,123.5 110.5,123.8ZM109.0,121.5 109.7,121.5 110.4,121.5 111.1,121.5 111.8,121.5 112.5,121.5 113.2,121.5 113.9,121.5 114.6,121.5 115.3,121.5 116.0,121.5 116.7,121.5 117.4,121.6 118.1,121.6 118.8,121.7 119.5,121.8 120.2,121.8 120.9,121.9 121.6,122.0 122.3,122.0 123.0,122.0 123.7,122.1 124.4,122.1 125.1,122.1 125.8,122.1 126.6,122.1 127.3,122.1 128.0,122.1 128.7,122.1 129.4,122.1 130.1,122.1 130.8,122.0 131.5,122.0 131.5,121.6 130.8,121.6 130.1,121.5 129.4,121.4 128.7,121.3 128.0,121.3 127.3,121.2 126.6,121.1 125.9,121.0 125.2,120.9 124.5,120.9 123.8,120.8 123.1,120.7 122.4,120.7 121.7,120.7 121.0,120.6 120.3,120.5 119.6,120.5 118.9,120.4 118.2,120.3 117.5,120.3 116.8,120.2 116.1,120.2 115.3,120.2 114.6,120.2 113.9,120.2 113.2,120.2 112.5,120.2 111.8,120.2 111.1,120.2 110.4,120.2 109.7,120.2 109.0,120.2ZM123.5,117.2 124.2,117.0 125.0,116.9 125.7,116.7 126.4,116.6 127.1,116.5 127.8,116.3 128.5,116.2 129.3,116.0 130.0,115.9 130.7,115.7 131.4,115.5 132.1,115.4 132.8,115.2 133.5,115.0 134.3,114.7 135.0,114.5 135.7,114.3 136.4,114.1 137.1,113.9 137.8,113.7 138.5,113.4 139.2,113.2 139.9,113.0 140.6,112.7 141.3,112.5 142.0,112.2 142.7,111.9 143.4,111.6 144.1,111.3 144.8,111.0 145.5,110.7 146.2,110.4 146.9,110.1 146.5,109.2 145.8,109.4 145.1,109.6 144.4,109.8 143.6,110.0 142.9,110.2 142.2,110.4 141.5,110.6 140.8,110.8 140.1,111.0 139.3,111.2 138.6,111.4 137.9,111.6 137.2,111.9 136.5,112.1 135.8,112.3 135.1,112.5 134.4,112.7 133.7,112.9 133.0,113.1 132.3,113.3 131.6,113.5 130.9,113.7 130.2,114.0 129.5,114.2 128.8,114.4 128.1,114.7 127.4,114.9 126.8,115.1 126.1,115.3 125.4,115.5 124.7,115.8 124.0,116.0 123.3,116.2ZM122.1,119.1 122.8,119.0 123.5,118.9 124.2,118.7 125.0,118.6 125.7,118.5 126.4,118.4 127.1,118.3 127.8,118.1 128.5,118.0 129.2,117.9 130.0,117.8 130.7,117.7 131.4,117.5 132.1,117.4 131.9,116.2 131.2,116.4 130.5,116.5 129.8,116.6 129.0,116.7 128.3,116.8 127.6,117.0 126.9,117.1 126.2,117.2 125.5,117.3 124.8,117.4 124.0,117.6 123.3,117.7 122.6,117.8 121.9,117.9ZM141.2,104.2 141.8,103.4 142.5,102.7 143.2,102.0 143.8,101.3 144.5,100.6 145.2,99.9 145.9,99.2 146.6,98.5 147.3,97.8 148.0,97.1 148.7,96.4 149.4,95.7 150.1,94.9 150.8,94.2 151.5,93.5 152.2,92.7 152.9,92.0 153.6,91.2 154.3,90.4 155.0,89.6 155.7,88.8 156.4,87.9 157.1,87.1 157.8,86.3 158.5,85.4 159.2,84.6 155.8,81.8 155.1,82.6 154.4,83.5 153.7,84.3 153.1,85.1 152.4,85.9 151.7,86.7 151.0,87.5 150.3,88.2 149.6,89.0 149.0,89.7 148.3,90.5 147.6,91.2 146.9,91.9 146.2,92.6 145.5,93.3 144.8,94.1 144.2,94.8 143.5,95.4 142.8,96.1 142.1,96.8 141.4,97.5 140.7,98.2 140.0,98.9 139.3,99.7 138.6,100.5 137.8,101.3ZM155.8,84.5 156.5,85.4 157.1,86.4 157.8,87.3 158.5,88.4 159.2,89.4 159.9,90.5 160.6,91.6 161.3,92.8 162.0,94.0 162.7,95.2 163.4,96.5 164.1,97.8 164.8,99.2 165.5,100.6 166.2,102.0 170.2,100.1 169.5,98.6 168.7,97.2 168.0,95.8 167.3,94.4 166.6,93.1 165.8,91.8 165.1,90.6 164.4,89.3 163.6,88.2 162.9,87.0 162.2,85.9 161.4,84.8 160.7,83.8 160.0,82.8 159.2,81.8ZM169.4,105.4 169.9,106.9 170.5,108.5 171.1,110.1 171.7,111.7 172.3,113.3 173.7,112.8 173.1,111.2 172.5,109.6 171.9,108.0 171.3,106.4 170.6,104.9ZM173.3,116.1 173.9,117.7 174.5,119.4 175.1,121.0 175.7,122.6 176.3,124.1 177.7,123.6 177.1,122.1 176.5,120.5 175.9,118.9 175.3,117.3 174.7,115.6ZM177.4,126.6 178.0,128.1 178.6,129.5 179.2,131.0 179.8,132.4 180.4,133.9 181.6,133.3 181.0,131.9 180.4,130.4 179.8,129.0 179.2,127.5 178.6,126.0ZM181.4,136.3 182.0,137.7 182.6,139.1 183.2,140.5 183.8,141.9 184.4,143.3 185.6,142.7 185.0,141.3 184.4,139.9 183.8,138.5 183.2,137.1 182.6,135.7ZM185.4,145.6 186.0,147.0 186.6,148.4 187.2,149.7 187.8,151.1 188.4,152.5 189.6,152.0 189.0,150.6 188.4,149.2 187.8,147.8 187.2,146.4 186.6,145.0ZM189.4,154.9 190.0,156.2 190.6,157.6 191.2,159.0 191.8,160.3 192.4,161.7 193.6,161.1 193.0,159.8 192.4,158.4 191.8,157.1 191.2,155.7 190.6,154.3ZM193.4,163.8 193.8,164.7 194.2,165.5 194.6,166.4 195.0,167.2 195.4,168.0 196.6,167.4 196.2,166.6 195.8,165.8 195.4,164.9 195.0,164.1 194.6,163.3ZM195.4,169.5 196.1,170.8 196.8,172.0 197.4,173.3 198.1,174.5 198.8,175.7 199.5,176.9 200.2,178.1 200.9,179.3 201.5,180.4 202.2,181.6 202.9,182.7 203.6,183.7 204.3,184.8 205.0,185.9 205.6,186.9 206.3,187.9 207.0,188.9 207.7,189.8 208.4,190.8 209.1,191.7 209.7,192.6 210.4,193.6 211.1,194.5 211.8,195.4 212.5,196.3 213.2,197.2 213.8,198.1 214.5,198.9 215.2,199.7 215.9,200.5 216.6,201.3 217.3,202.1 218.0,202.9 218.7,203.6 219.4,204.3 220.1,204.9 220.8,205.6 221.5,206.2 222.2,206.7 222.8,207.3 223.5,207.9 224.2,208.4 224.9,209.0 225.6,209.5 226.3,210.0 227.0,210.5 227.7,211.0 228.4,211.5 229.1,211.9 229.8,212.4 230.5,212.7 231.2,213.1 232.0,213.4 232.7,213.7 233.4,214.0 234.1,214.2 234.8,214.5 235.5,214.7 236.2,214.9 236.9,215.1 237.6,215.3 238.3,215.5 239.0,215.6 239.7,215.8 240.5,215.9 241.2,216.0 241.9,216.0 242.1,213.3 241.5,213.3 240.8,213.2 240.2,213.1 239.6,213.0 238.9,212.8 238.3,212.7 237.6,212.5 237.0,212.3 236.3,212.1 235.6,211.9 235.0,211.7 234.3,211.5 233.7,211.2 233.1,211.0 232.4,210.7 231.8,210.4 231.1,210.0 230.5,209.6 229.9,209.2 229.2,208.8 228.5,208.3 227.9,207.9 227.2,207.4 226.6,206.9 225.9,206.3 225.2,205.8 224.6,205.2 223.9,204.7 223.2,204.1 222.6,203.5 221.9,202.9 221.3,202.3 220.6,201.7 219.9,201.0 219.3,200.3 218.6,199.5 218.0,198.8 217.3,198.0 216.6,197.2 216.0,196.4 215.3,195.5 214.6,194.7 213.9,193.8 213.3,192.9 212.6,192.0 211.9,191.1 211.2,190.1 210.6,189.2 209.9,188.2 209.2,187.3 208.6,186.3 207.9,185.4 207.2,184.4 206.5,183.3 205.9,182.3 205.2,181.2 204.5,180.1 203.9,179.0 203.2,177.9 202.5,176.8 201.8,175.6 201.2,174.4 200.5,173.2 199.8,172.0 199.1,170.7 198.5,169.5 197.8,168.2ZM132.7,61.4 133.3,61.7 133.9,62.0 134.4,62.4 135.0,62.6 135.6,62.8 136.2,62.9 136.8,63.1 137.5,63.4 138.1,63.6 138.8,63.8 139.5,64.1 140.1,64.4 140.6,64.6 141.1,65.0 141.7,65.4 142.3,65.9 142.9,66.5 143.6,67.1 144.2,67.8 144.9,68.5 145.6,69.2 146.2,69.9 146.9,70.6 147.5,71.4 148.2,72.2 148.8,73.1 149.5,74.0 150.2,74.9 150.8,75.9 151.5,76.9 152.2,78.0 152.8,79.2 153.5,80.4 154.2,81.6 154.9,82.8 155.5,84.2 159.5,82.2 158.8,80.8 158.1,79.5 157.4,78.2 156.6,77.0 155.9,75.8 155.2,74.6 154.5,73.5 153.8,72.4 153.1,71.4 152.4,70.4 151.7,69.5 150.9,68.6 150.2,67.7 149.5,66.9 148.8,66.1 148.0,65.4 147.3,64.7 146.6,64.0 145.9,63.3 145.2,62.6 144.4,62.0 143.6,61.4 142.8,60.8 141.9,60.4 141.1,60.0 140.4,59.8 139.7,59.5 138.9,59.2 138.2,59.0 137.5,58.7 136.7,58.5 135.9,58.3 135.1,58.3 134.3,58.5 133.5,58.7 132.7,58.9ZM159.6,83.9 160.3,82.0 160.9,80.1 161.6,78.2 162.3,76.4 163.0,74.5 163.7,72.7 164.4,70.9 165.1,69.1 165.8,67.3 166.4,65.5 167.1,63.8 167.8,62.0 168.5,60.3 169.2,58.6 169.9,56.9 170.6,55.2 171.2,53.5 171.9,51.9 172.6,50.3 173.3,48.8 174.0,47.3 174.7,45.8 175.3,44.3 176.0,42.9 176.7,41.4 177.4,40.0 178.1,38.5 178.8,37.0 179.5,35.5 180.2,33.9 180.9,32.3 181.6,30.6 182.3,28.9 183.0,27.0 183.7,25.1 184.4,23.2 185.1,21.2 180.9,19.8 180.2,21.7 179.6,23.6 178.9,25.5 178.2,27.3 177.5,28.9 176.8,30.5 176.2,32.1 175.5,33.7 174.8,35.2 174.1,36.6 173.4,38.1 172.7,39.5 172.1,41.0 171.4,42.5 170.7,43.9 170.0,45.5 169.3,47.0 168.6,48.6 167.9,50.2 167.2,51.9 166.5,53.5 165.8,55.2 165.1,56.9 164.4,58.7 163.7,60.4 163.0,62.2 162.3,63.9 161.7,65.7 161.0,67.5 160.3,69.3 159.6,71.1 158.9,73.0 158.2,74.8 157.5,76.7 156.8,78.6 156.1,80.5 155.4,82.4ZM95.2,21.3 95.9,22.9 96.7,24.6 97.5,26.2 98.3,27.7 99.0,29.2 99.8,30.6 100.6,32.0 101.3,33.3 102.1,34.7 102.9,36.0 103.7,37.2 104.4,38.5 105.2,39.8 105.9,41.1 106.7,42.5 107.5,43.8 108.2,45.2 109.0,46.6 109.8,47.9 110.6,49.0 111.3,50.1 112.1,51.0 112.9,51.7 113.7,52.2 114.3,51.4 113.6,50.9 113.0,50.2 112.4,49.3 111.8,48.3 111.1,47.1 110.5,45.8 109.9,44.4 109.2,43.0 108.6,41.5 107.9,40.1 107.2,38.7 106.6,37.3 105.9,36.0 105.3,34.7 104.6,33.3 104.0,32.0 103.3,30.6 102.7,29.2 102.1,27.7 101.4,26.2 100.8,24.7 100.1,23.1 99.5,21.4 98.8,19.7ZM99.3,41.8 100.0,42.2 100.7,42.6 101.4,43.1 102.2,43.5 102.9,44.0 103.6,44.5 104.4,45.0 105.1,45.5 105.8,46.0 106.6,46.6 107.3,47.2 108.0,47.9 108.7,48.8 109.4,49.8 110.2,50.8 111.0,51.8 111.8,52.7 112.7,53.3 113.5,53.7 114.2,54.1 114.8,53.0 114.1,52.6 113.5,52.1 112.9,51.6 112.3,50.8 111.6,49.8 111.0,48.8 110.3,47.7 109.6,46.6 108.9,45.6 108.1,44.9 107.4,44.1 106.7,43.5 106.0,42.9 105.3,42.3 104.6,41.7 103.9,41.1 103.3,40.5 102.5,39.9 101.8,39.4 101.1,38.9ZM106.6,55.2 107.4,55.8 108.2,56.3 109.0,56.7 109.8,57.1 110.6,57.4 111.4,57.7 112.1,57.9 112.9,58.1 113.7,58.3 114.5,58.4 114.7,57.0 114.0,56.9 113.2,56.7 112.5,56.6 111.8,56.3 111.0,56.1 110.3,55.8 109.6,55.5 108.9,55.1 108.1,54.6 107.4,54.1ZM112.9,46.6 113.6,46.9 114.4,47.3 115.2,47.5 116.0,47.7 116.8,47.8 117.6,47.9 118.4,47.8 119.2,47.7 120.0,47.5 120.8,47.2 121.5,47.0 122.3,46.7 123.1,46.3 123.9,45.8 124.6,45.1 125.3,44.3 125.9,43.5 126.6,42.6 127.2,41.6 127.8,40.7 127.0,40.0 126.2,40.9 125.4,41.6 124.7,42.3 123.9,43.0 123.2,43.5 122.5,43.9 121.9,44.2 121.3,44.5 120.7,44.7 120.0,45.0 119.4,45.2 118.8,45.3 118.2,45.4 117.6,45.5 117.0,45.4 116.4,45.4 115.8,45.2 115.2,45.0 114.6,44.8 113.9,44.4ZM115.0,58.6 115.8,58.5 116.5,58.5 117.2,58.4 117.9,58.3 118.6,58.3 119.3,58.2 120.0,58.1 120.7,58.0 121.4,57.8 122.2,57.7 122.9,57.6 123.6,57.4 124.3,57.3 125.0,57.1 125.7,56.9 126.5,56.7 127.2,56.5 127.9,56.2 128.6,56.0 129.3,55.7 130.0,55.4 130.7,55.2 130.1,53.5 129.4,53.8 128.7,54.0 128.0,54.3 127.3,54.5 126.6,54.7 125.9,55.0 125.3,55.2 124.6,55.4 123.9,55.5 123.2,55.7 122.5,55.8 121.8,55.9 121.2,56.1 120.5,56.2 119.8,56.3 119.1,56.4 118.4,56.5 117.7,56.6 117.0,56.6 116.3,56.7 115.6,56.7 115.0,56.8ZM115.0,62.1 115.8,62.1 116.5,62.0 117.2,62.0 117.9,61.9 118.6,61.9 119.3,61.8 120.0,61.7 120.7,61.7 121.4,61.6 122.1,61.5 122.8,61.4 123.5,61.4 124.2,61.3 124.9,61.2 125.6,61.1 126.3,61.0 127.0,60.9 127.8,61.1 128.5,61.0 129.2,60.9 129.9,60.7 130.6,60.6 131.3,60.5 132.0,60.3 132.7,60.2 133.4,60.1 134.1,59.9 133.7,57.8 133.0,57.9 132.3,58.0 131.6,58.2 130.9,58.3 130.2,58.4 129.5,58.6 128.8,58.7 128.1,58.8 127.4,58.9 126.8,59.3 126.1,59.4 125.4,59.5 124.7,59.6 124.0,59.7 123.3,59.8 122.6,59.9 121.9,59.9 121.2,60.0 120.5,60.1 119.8,60.2 119.1,60.2 118.4,60.3 117.7,60.3 117.0,60.4 116.3,60.4 115.6,60.5 115.0,60.5Z" fill="#2d0870"/></g></g>
<clipPath id="dclipa"><rect x="246.8" y="25.5" width="78.0" height="200.0"/></clipPath><g clip-path="url(#dclipa)"><polyline points="299.7,25.6 300.3,27.3 304.9,29.3 308.2,29.9 308.2,33.2 304.9,34.2 294.4,35.2 288.5,37.1 284.6,40.4 284.6,43.0 289.2,45.7 290.5,47.6 294.4,50.9 298.3,53.6 294.4,54.5 284.9,55.3 289.2,55.8 307.5,58.4 294.4,60.8 284.9,62.4 289.2,63.4 307.5,67.3 311.5,70.0 312.8,71.9 316.7,73.3 319.4,75.9 322.6,79.2 323.3,83.1 321.3,87.0 319.4,90.7 315.4,92.6 313.5,95.3 312.8,97.9 308.9,100.5 274.7,102.5 303.6,103.8 306.9,106.4 303.6,108.4 302.3,111.0 304.3,113.4 297.0,113.9 284.6,115.6 284.6,117.6 299.7,119.2 301.0,121.5 294.4,124.4 276.0,125.7 282.6,127.4 287.8,128.1 285.2,129.4 293.1,131.4 289.2,132.7 302.9,135.3 298.3,137.3 299.7,140.6 298.3,142.5 262.9,144.1 298.3,145.2 305.6,149.1 301.0,151.7 291.8,154.6 306.2,157.6 294.4,160.6 302.3,161.9 297.0,164.1 302.3,165.9 300.3,169.1 305.6,173.7 299.7,177.0 306.9,180.3 297.7,184.2 307.5,187.5 303.6,190.2 306.9,193.4 301.6,196.1 305.6,199.3 306.2,207.2 308.9,209.2 312.1,210.5 313.5,213.8 322.0,215.1 323.3,216.4 323.3,221.0 323.8,224.5" fill="none" stroke="#404040" stroke-width="2.1" stroke-linejoin="round"/></g>
<g id="bands-b"><clipPath id="clipb"><rect x="387.5" y="25.5" width="200.0" height="200.0"/></clipPath><g clip-path="url(#clipb)"><path d="M387.5,104.2 389.5,104.2 391.5,104.1 393.6,104.1 395.6,104.1 397.6,104.0 399.6,104.0 401.6,103.9 403.7,103.8 405.7,103.8 407.7,103.7 409.7,103.6 411.7,103.6 413.8,103.5 415.8,103.4 417.8,103.3 419.8,103.2 421.8,103.1 423.9,102.9 425.9,102.8 427.9,102.6 429.9,102.5 431.9,102.3 434.0,102.1 436.0,102.0 438.0,101.9 440.0,101.8 442.0,101.7 444.1,101.7 446.1,101.6 448.1,101.5 450.1,101.5 452.1,101.4 454.2,101.4 456.2,101.4 458.2,101.3 460.2,101.3 462.2,101.3 464.3,101.3 466.3,101.3 468.3,101.3 470.3,101.3 472.3,101.3 474.4,101.3 476.4,101.3 478.4,101.3 480.4,101.3 482.4,101.3 484.5,101.4 486.5,101.4 488.5,101.5 490.5,101.6 492.6,101.7 494.6,101.9 496.6,102.0 498.6,102.1 500.6,102.1 502.7,102.2 504.7,102.2 506.7,102.1 508.7,102.1 510.7,102.0 512.8,101.9 514.8,101.9 516.8,101.8 518.8,101.7 520.8,101.6 522.9,101.6 524.9,101.5 526.9,101.5 528.9,101.5 530.9,101.5 533.0,101.6 535.0,101.7 537.0,101.8 539.0,101.9 541.0,102.1 543.1,102.2 545.1,102.4 547.1,102.5 549.1,102.7 551.1,102.9 553.2,103.0 555.2,103.2 557.2,103.3 559.2,103.4 561.2,103.6 563.3,103.7 565.3,103.9 567.3,104.0 569.3,104.1 571.3,104.3 573.4,104.4 575.4,104.6 577.4,104.7 579.4,104.9 581.4,105.0 583.5,105.2 585.5,105.3 587.5,105.5 587.5,116.3 585.5,116.2 583.5,116.2 581.4,116.1 579.4,116.0 577.4,115.9 575.4,115.8 573.4,115.6 571.3,115.5 569.3,115.4 567.3,115.3 565.3,115.2 563.3,115.0 561.2,114.9 559.2,114.8 557.2,114.6 555.2,114.5 553.2,114.4 551.1,114.2 549.1,114.1 547.1,113.9 545.1,113.8 543.1,113.6 541.0,113.4 539.0,113.3 537.0,113.1 535.0,112.9 533.0,112.7 530.9,112.5 528.9,112.3 526.9,112.1 524.9,111.9 522.9,111.6 520.8,111.3 518.8,111.0 516.8,110.6 514.8,110.3 512.8,110.0 510.7,109.7 508.7,109.4 506.7,109.2 504.7,109.0 502.7,108.8 500.6,108.7 498.6,108.6 496.6,108.5 494.6,108.3 492.6,108.2 490.5,108.2 488.5,108.1 486.5,108.0 484.5,108.0 482.4,108.0 480.4,108.0 478.4,108.0 476.4,108.0 474.4,108.0 472.3,108.0 470.3,108.0 468.3,108.0 466.3,108.0 464.3,108.0 462.2,108.0 460.2,108.0 458.2,108.1 456.2,108.2 454.2,108.5 452.1,108.8 450.1,109.1 448.1,109.5 446.1,109.9 444.1,110.4 442.0,110.9 440.0,111.3 438.0,111.8 436.0,112.3 434.0,112.7 431.9,113.1 429.9,113.5 427.9,114.0 425.9,114.5 423.9,115.0 421.8,115.5 419.8,115.9 417.8,116.3 415.8,116.7 413.8,117.0 411.7,117.2 409.7,117.4 407.7,117.6 405.7,117.8 403.7,118.0 401.6,118.2 399.6,118.3 397.6,118.5 395.6,118.6 393.6,118.7 391.5,118.8 389.5,118.8 387.5,118.8ZM387.5,123.2 389.6,123.1 391.7,123.0 393.8,122.9 395.9,122.9 398.0,122.9 400.1,122.9 402.2,122.8 404.3,122.8 406.4,122.8 408.6,122.8 410.7,122.9 412.8,122.9 414.9,123.0 417.0,123.1 419.1,123.2 421.2,123.4 423.3,123.5 425.4,123.7 427.5,123.8 427.5,142.2 425.4,141.5 423.3,140.9 421.2,140.3 419.1,139.8 417.0,139.3 414.9,138.8 412.8,138.4 410.7,138.0 408.6,137.6 406.4,137.4 404.3,137.1 402.2,136.8 400.1,136.6 398.0,136.4 395.9,136.2 393.8,136.0 391.7,135.8 389.6,135.7 387.5,135.7ZM402.5,123.0 404.6,123.1 406.8,123.2 408.9,123.3 411.0,123.4 413.2,123.6 415.3,123.7 417.5,123.9 419.6,124.0 421.7,124.2 423.9,124.4 426.0,124.5 428.1,124.7 430.3,124.9 432.4,125.1 434.5,125.3 436.7,125.6 438.8,125.8 441.0,126.1 443.1,126.3 445.2,126.6 447.4,126.9 449.5,127.2 449.5,131.3 447.4,131.5 445.2,131.7 443.1,131.8 441.0,131.9 438.8,132.0 436.7,132.0 434.5,132.1 432.4,132.1 430.3,132.2 428.1,132.2 426.0,132.2 423.9,132.1 421.7,132.1 419.6,132.0 417.5,131.9 415.3,131.7 413.2,131.6 411.0,131.4 408.9,131.2 406.8,131.0 404.6,130.8 402.5,130.5ZM487.5,127.5 489.5,127.5 491.6,127.5 493.6,127.4 495.7,127.4 497.7,127.3 499.7,127.3 501.8,127.2 503.8,127.1 505.9,127.0 507.9,126.7 509.9,126.4 512.0,126.0 514.0,125.6 516.1,125.1 518.1,124.7 520.2,124.3 522.2,123.8 524.2,123.5 526.3,123.2 528.3,122.9 530.4,122.7 532.4,122.5 534.4,122.2 536.5,122.0 538.5,121.8 540.6,121.7 542.6,121.5 544.6,121.3 546.7,121.1 548.7,121.0 550.8,120.9 552.8,120.7 554.8,120.6 556.9,120.5 558.9,120.4 561.0,120.4 563.0,120.3 565.1,120.2 567.1,120.1 569.1,120.0 571.2,120.0 573.2,119.9 575.3,119.8 577.3,119.8 579.3,119.8 581.4,119.7 583.4,119.7 585.5,119.7 587.5,119.7 587.5,135.5 585.5,135.6 583.4,135.6 581.4,135.7 579.3,135.7 577.3,135.8 575.3,135.8 573.2,135.9 571.2,136.0 569.1,136.0 567.1,136.1 565.1,136.1 563.0,136.2 561.0,136.2 558.9,136.3 556.9,136.4 554.8,136.4 552.8,136.5 550.8,136.6 548.7,136.6 546.7,136.7 544.6,136.8 542.6,136.9 540.6,136.9 538.5,137.0 536.5,137.0 534.4,137.1 532.4,137.1 530.4,137.2 528.3,137.2 526.3,137.2 524.2,137.1 522.2,137.1 520.2,137.0 518.1,136.9 516.1,136.7 514.0,136.6 512.0,136.4 509.9,136.2 507.9,136.0 505.9,135.8 503.8,135.6 501.8,135.3 499.7,135.0 497.7,134.5 495.7,134.0 493.6,133.4 491.6,132.7 489.5,132.0 487.5,131.3ZM487.5,115.5 489.5,115.3 491.6,115.1 493.6,115.0 495.7,114.9 497.7,114.8 499.7,114.7 501.8,114.7 503.8,114.7 505.9,114.7 507.9,114.8 509.9,115.0 512.0,115.1 514.0,115.3 516.1,115.5 518.1,115.7 520.2,115.9 522.2,116.0 524.2,116.2 526.3,116.3 528.3,116.4 530.4,116.4 532.4,116.5 534.4,116.5 536.5,116.5 538.5,116.6 540.6,116.6 542.6,116.7 544.6,116.7 546.7,116.8 548.7,116.8 550.8,116.8 552.8,116.9 554.8,116.9 556.9,116.9 558.9,117.0 561.0,117.0 563.0,117.0 565.1,117.0 567.1,117.1 569.1,117.1 571.2,117.1 573.2,117.1 575.3,117.1 577.3,117.1 579.3,117.1 581.4,117.2 583.4,117.2 585.5,117.2 587.5,117.2 587.5,118.5 585.5,118.6 583.4,118.8 581.4,118.9 579.3,119.0 577.3,119.1 575.3,119.3 573.2,119.4 571.2,119.5 569.1,119.6 567.1,119.7 565.1,119.8 563.0,119.9 561.0,120.0 558.9,120.1 556.9,120.2 554.8,120.3 552.8,120.4 550.8,120.5 548.7,120.6 546.7,120.7 544.6,120.8 542.6,120.8 540.6,120.9 538.5,121.0 536.5,121.1 534.4,121.1 532.4,121.2 530.4,121.3 528.3,121.3 526.3,121.4 524.2,121.4 522.2,121.5 520.2,121.5 518.1,121.6 516.1,121.6 514.0,121.7 512.0,121.7 509.9,121.8 507.9,121.8 505.9,121.8 503.8,121.8 501.8,121.8 499.7,121.7 497.7,121.5 495.7,121.2 493.6,120.9 491.6,120.5 489.5,120.1 487.5,119.7ZM417.5,139.7 419.5,140.9 421.6,142.2 423.6,143.4 425.6,144.5 427.6,145.6 429.7,146.6 431.7,147.7 433.7,148.8 435.8,149.9 437.8,151.0 439.8,152.0 441.8,153.1 443.9,154.1 445.9,155.0 447.9,155.9 450.0,156.7 452.0,157.4 454.0,158.0 456.1,158.4 458.1,158.7 460.1,158.8 462.1,158.8 464.2,158.6 466.2,158.3 468.2,158.0 470.3,157.5 472.3,157.0 474.3,156.4 476.3,155.9 478.4,155.3 480.4,154.7 482.4,154.2 484.5,153.7 486.5,153.1 488.5,152.6 490.5,152.0 492.6,151.4 494.6,150.8 496.6,150.2 498.7,149.5 500.7,148.9 502.7,148.3 504.7,147.6 506.8,146.8 508.8,146.0 510.8,145.2 512.9,144.4 514.9,143.5 516.9,142.7 518.9,141.9 521.0,141.2 523.0,140.6 525.0,140.1 527.1,139.7 529.1,139.5 531.1,139.2 533.2,138.9 535.2,138.7 537.2,138.4 539.2,138.2 541.3,138.0 543.3,137.8 545.3,137.7 547.4,137.5 549.4,137.4 551.4,137.3 553.4,137.2 555.5,137.2 557.5,137.2 557.5,138.5 555.5,138.7 553.4,138.9 551.4,139.0 549.4,139.2 547.4,139.3 545.3,139.5 543.3,139.6 541.3,139.8 539.2,140.0 537.2,140.2 535.2,140.4 533.2,140.6 531.1,140.8 529.1,141.1 527.1,141.4 525.0,141.8 523.0,142.4 521.0,143.0 518.9,143.7 516.9,144.5 514.9,145.4 512.9,146.2 510.8,147.1 508.8,148.0 506.8,148.8 504.7,149.6 502.7,150.3 500.7,150.9 498.7,151.6 496.6,152.2 494.6,152.9 492.6,153.5 490.5,154.1 488.5,154.7 486.5,155.3 484.5,155.8 482.4,156.4 480.4,156.9 478.4,157.5 476.3,158.1 474.3,158.8 472.3,159.4 470.3,159.9 468.2,160.4 466.2,160.8 464.2,161.1 462.1,161.3 460.1,161.3 458.1,161.2 456.1,160.9 454.0,160.4 452.0,159.8 450.0,159.1 447.9,158.3 445.9,157.3 443.9,156.4 441.8,155.3 439.8,154.2 437.8,153.1 435.8,151.9 433.7,150.8 431.7,149.7 429.7,148.6 427.6,147.6 425.6,146.5 423.6,145.1 421.6,143.7 419.5,142.3 417.5,141.0Z" fill="#2d0068"/>
<path d="M503.0,73.8C511.2,72.7 519.3,71.3 527.5,69.7C537.5,67.7 547.5,64.2 557.5,62.2C567.5,60.2 577.5,58.4 587.5,57.2M503.0,80.5C511.2,79.5 519.3,78.2 527.5,76.8C537.5,74.9 547.5,71.8 557.5,70.0C567.5,68.2 577.5,66.6 587.5,65.5M503.0,62.2C511.2,61.0 519.3,59.4 527.5,57.6C537.5,55.4 547.5,51.5 557.5,49.3C567.5,47.1 577.5,45.2 587.5,43.8M503.0,90.5C511.2,89.4 519.3,88.0 527.5,86.3C537.5,84.3 547.5,80.8 557.5,78.8C567.5,76.8 577.5,75.1 587.5,73.8M460.7,82.2C468.0,85.3 475.2,87.2 482.5,87.2C489.3,87.2 496.2,83.8 503.0,83.8C514.5,83.8 526.0,87.2 537.5,87.2C554.2,87.2 570.8,86.6 587.5,83.8M460.7,85.8C468.0,89.0 475.2,90.8 482.5,90.8C489.3,90.8 496.2,87.5 503.0,87.5C514.5,87.5 526.0,90.8 537.5,90.8C554.2,90.8 570.8,90.2 587.5,87.5M460.7,89.5C468.0,92.6 475.2,94.5 482.5,94.5C489.3,94.5 496.2,91.2 503.0,91.2C514.5,91.2 526.0,94.5 537.5,94.5C554.2,94.5 570.8,93.9 587.5,91.2M460.7,93.2C468.0,96.3 475.2,98.2 482.5,98.2C489.3,98.2 496.2,94.8 503.0,94.8C514.5,94.8 526.0,98.2 537.5,98.2C554.2,98.2 570.8,97.6 587.5,94.8M460.7,96.8C468.0,100.0 475.2,101.8 482.5,101.8C489.3,101.8 496.2,98.5 503.0,98.5C514.5,98.5 526.0,101.8 537.5,101.8C554.2,101.8 570.8,101.2 587.5,98.5M387.5,38.3C392.5,38.4 397.5,40.3 402.5,42.2C407.3,44.0 412.2,51.0 417.0,52.5C422.2,54.1 427.3,55.5 432.5,55.5C437.5,55.5 442.5,54.6 447.5,53.8C451.9,53.1 456.3,51.9 460.7,50.5M387.5,58.5C392.5,58.8 397.5,59.6 402.5,60.5C407.3,61.4 412.2,63.5 417.0,64.5C422.2,65.6 427.3,67.2 432.5,67.2C437.5,67.2 442.5,66.3 447.5,65.5C451.9,64.8 456.3,63.6 460.7,62.2M462.5,98.8C467.5,96.3 472.5,93.5 477.5,90.5C482.5,87.5 487.5,83.3 492.5,80.5C496.0,78.6 499.5,76.9 503.0,75.5M467.5,100.5C472.5,98.6 477.5,96.3 482.5,93.8C487.5,91.4 492.5,88.4 497.5,85.5C499.3,84.4 501.2,83.3 503.0,82.2M387.5,95.5C394.2,93.0 400.8,92.2 407.5,92.2C414.2,92.2 420.8,97.2 427.5,97.2C434.2,97.2 440.8,96.3 447.5,93.8" fill="none" stroke="#ece4bc" stroke-width="0.8"/>
<path d="M387.5,48.0C420.8,48.0 454.2,48.0 487.5,48.0C520.8,48.0 554.2,48.0 587.5,48.0M387.5,82.5C397.5,82.5 407.5,82.5 417.5,82.5C423.8,82.5 430.2,82.5 436.5,82.5" fill="none" stroke="#8c4c8c" stroke-width="1.1"/>
<path d="M417.5,116.8C424.6,114.5 431.7,112.5 438.8,111.1C445.8,109.7 452.9,107.9 460.0,107.9C467.1,107.9 474.2,109.4 481.2,109.6C488.3,109.9 495.4,109.8 502.5,110.1C509.6,110.4 516.7,112.5 523.8,112.9C530.8,113.3 537.9,113.3 545.0,113.6C552.1,114.0 559.2,115.4 566.2,115.6C573.3,115.7 580.4,115.8 587.5,115.8M417.5,119.5C424.6,116.2 431.7,113.1 438.8,112.5C445.8,112.0 452.9,111.9 460.0,111.6C467.1,111.3 474.2,110.7 481.2,110.7C488.3,110.7 495.4,111.5 502.5,112.0C509.6,112.5 516.7,113.8 523.8,114.1C530.8,114.3 537.9,114.4 545.0,114.5C552.1,114.7 559.2,114.9 566.2,115.2C573.3,115.6 580.4,116.3 587.5,117.1M417.5,118.7C424.6,116.9 431.7,115.2 438.8,115.0C445.8,114.8 452.9,114.7 460.0,114.7C467.1,114.7 474.2,115.1 481.2,115.1C488.3,115.1 495.4,113.5 502.5,113.5C509.6,113.5 516.7,115.0 523.8,115.7C530.8,116.4 537.9,117.8 545.0,117.8C552.1,117.8 559.2,117.4 566.2,117.4C573.3,117.4 580.4,117.5 587.5,117.7M417.5,120.6C424.6,120.2 431.7,119.6 438.8,118.8C445.8,118.1 452.9,116.6 460.0,116.1C467.1,115.5 474.2,114.9 481.2,114.9C488.3,114.9 495.4,115.8 502.5,116.2C509.6,116.5 516.7,117.1 523.8,117.1C530.8,117.1 537.9,116.3 545.0,116.3C552.1,116.3 559.2,116.3 566.2,116.4C573.3,116.5 580.4,117.2 587.5,117.9M417.5,119.7C424.6,118.7 431.7,117.9 438.8,117.9C445.8,117.9 452.9,118.5 460.0,118.6C467.1,118.7 474.2,118.8 481.2,118.8C488.3,118.8 495.4,117.8 502.5,117.7C509.6,117.5 516.7,117.5 523.8,117.4C530.8,117.2 537.9,116.4 545.0,116.4C552.1,116.4 559.2,119.0 566.2,119.0C573.3,119.0 580.4,119.0 587.5,118.7M417.5,122.0C424.6,122.3 431.7,122.3 438.8,122.3C445.8,122.3 452.9,121.0 460.0,120.6C467.1,120.2 474.2,119.7 481.2,119.7C488.3,119.7 495.4,120.8 502.5,120.8C509.6,120.8 516.7,117.6 523.8,117.5C530.8,117.5 537.9,117.5 545.0,117.5C552.1,117.5 559.2,117.6 566.2,117.6C573.3,117.6 580.4,117.8 587.5,118.0M417.5,121.0C424.6,122.5 431.7,123.6 438.8,123.6C445.8,123.6 452.9,122.7 460.0,122.4C467.1,122.2 474.2,121.9 481.2,121.9C488.3,121.9 495.4,123.9 502.5,123.9C509.6,123.9 516.7,120.2 523.8,119.9C530.8,119.6 537.9,119.7 545.0,119.4C552.1,119.2 559.2,118.0 566.2,118.0C573.3,118.0 580.4,118.3 587.5,119.2M417.5,122.9C424.6,122.9 431.7,123.2 438.8,123.5C445.8,123.9 452.9,126.2 460.0,126.2C467.1,126.2 474.2,124.1 481.2,124.1C488.3,124.1 495.4,124.2 502.5,124.2C509.6,124.2 516.7,121.4 523.8,121.1C530.8,120.8 537.9,120.8 545.0,120.5C552.1,120.3 559.2,118.2 566.2,118.2C573.3,118.2 580.4,118.2 587.5,118.5M417.5,123.9C424.6,124.1 431.7,124.4 438.8,124.8C445.8,125.2 452.9,126.4 460.0,126.4C467.1,126.4 474.2,125.1 481.2,125.1C488.3,125.1 495.4,127.7 502.5,127.7C509.6,127.7 516.7,122.8 523.8,122.0C530.8,121.2 537.9,120.6 545.0,120.4C552.1,120.2 559.2,120.0 566.2,120.0C573.3,120.0 580.4,120.2 587.5,120.5M432.5,124.0C436.0,124.9 439.6,125.7 443.1,126.1C446.7,126.6 450.2,126.8 453.8,127.2C457.3,127.5 460.8,128.2 464.4,128.2C467.9,128.2 471.5,126.9 475.0,126.4C478.5,126.0 482.1,125.3 485.6,125.3C489.2,125.3 492.7,125.8 496.2,125.8C499.8,125.8 503.3,125.2 506.9,124.9C510.4,124.6 514.0,124.2 517.5,123.8M432.5,126.4C436.0,125.3 439.6,125.1 443.1,125.1C446.7,125.1 450.2,128.2 453.8,128.2C457.3,128.2 460.8,127.8 464.4,127.5C467.9,127.2 471.5,125.8 475.0,125.8C478.5,125.8 482.1,127.5 485.6,127.5C489.2,127.5 492.7,127.1 496.2,127.0C499.8,126.9 503.3,127.0 506.9,126.9C510.4,126.8 514.0,126.2 517.5,125.6M432.5,128.6C436.0,128.8 439.6,128.8 443.1,128.8C446.7,128.8 450.2,128.0 453.8,128.0C457.3,128.0 460.8,129.0 464.4,129.1C467.9,129.1 471.5,129.2 475.0,129.2C478.5,129.2 482.1,128.7 485.6,128.5C489.2,128.3 492.7,128.2 496.2,128.1C499.8,128.0 503.3,127.9 506.9,127.7C510.4,127.5 514.0,127.2 517.5,126.8M432.5,129.6C436.0,129.4 439.6,129.4 443.1,129.4C446.7,129.4 450.2,131.0 453.8,131.0C457.3,131.0 460.8,130.2 464.4,130.2C467.9,130.2 471.5,130.3 475.0,130.4C478.5,130.5 482.1,130.7 485.6,130.7C489.2,130.7 492.7,129.7 496.2,129.7C499.8,129.7 503.3,129.8 506.9,129.8C510.4,129.8 514.0,128.8 517.5,127.8M432.5,129.9C436.0,129.9 439.6,130.3 443.1,130.7C446.7,131.1 450.2,132.8 453.8,132.8C457.3,132.8 460.8,131.1 464.4,131.1C467.9,131.1 471.5,132.0 475.0,132.0C478.5,132.0 482.1,130.5 485.6,130.5C489.2,130.4 492.7,130.4 496.2,130.4C499.8,130.4 503.3,131.1 506.9,131.1C510.4,131.1 514.0,130.5 517.5,129.6M412.5,131.7C418.8,131.9 425.0,132.3 431.2,132.7C437.5,133.2 443.8,134.6 450.0,134.7C456.2,134.8 462.5,134.9 468.8,134.9C475.0,134.9 481.2,134.0 487.5,134.0C493.8,134.0 500.0,139.4 506.2,139.4C512.5,139.4 518.8,138.0 525.0,138.0C531.2,137.9 537.5,138.0 543.8,137.9C550.0,137.9 556.2,137.1 562.5,136.4M412.5,131.5C418.8,132.9 425.0,134.2 431.2,135.0C437.5,135.8 443.8,136.3 450.0,137.0C456.2,137.7 462.5,139.2 468.8,139.2C475.0,139.2 481.2,136.9 487.5,136.9C493.8,136.9 500.0,140.1 506.2,140.1C512.5,140.1 518.8,136.4 525.0,136.3C531.2,136.3 537.5,136.3 543.8,136.3C550.0,136.3 556.2,136.0 562.5,135.6M412.5,133.0C418.8,133.9 425.0,134.9 431.2,135.8C437.5,136.8 443.8,138.4 450.0,138.9C456.2,139.5 462.5,140.1 468.8,140.1C475.0,140.1 481.2,139.1 487.5,139.1C493.8,139.1 500.0,140.4 506.2,140.4C512.5,140.4 518.8,139.1 525.0,138.7C531.2,138.3 537.5,138.1 543.8,137.8C550.0,137.5 556.2,137.2 562.5,136.8M412.5,134.2C418.8,134.7 425.0,135.8 431.2,137.1C437.5,138.4 443.8,142.9 450.0,142.9C456.2,142.9 462.5,141.4 468.8,141.3C475.0,141.1 481.2,141.0 487.5,141.0C493.8,141.0 500.0,141.6 506.2,141.6C512.5,141.6 518.8,140.4 525.0,139.7C531.2,139.1 537.5,138.0 543.8,137.7C550.0,137.3 556.2,137.0 562.5,136.9M412.5,134.0C418.8,136.1 425.0,138.0 431.2,139.6C437.5,141.1 443.8,143.5 450.0,143.5C456.2,143.5 462.5,142.9 468.8,142.6C475.0,142.3 481.2,141.8 487.5,141.8C493.8,141.8 500.0,142.6 506.2,142.6C512.5,142.6 518.8,138.3 525.0,138.2C531.2,138.0 537.5,138.1 543.8,137.9C550.0,137.7 556.2,137.1 562.5,136.4M412.5,134.3C418.8,136.5 425.0,138.7 431.2,140.8C437.5,143.0 443.8,147.3 450.0,147.3C456.2,147.3 462.5,146.9 468.8,146.6C475.0,146.2 481.2,143.4 487.5,143.4C493.8,143.4 500.0,143.4 506.2,143.3C512.5,143.3 518.8,139.8 525.0,139.0C531.2,138.1 537.5,137.2 543.8,137.2C550.0,137.2 556.2,137.2 562.5,137.5M412.5,134.4C418.8,136.4 425.0,138.4 431.2,140.5C437.5,142.6 443.8,146.5 450.0,146.8C456.2,147.2 462.5,147.5 468.8,147.5C475.0,147.5 481.2,145.5 487.5,144.7C493.8,143.8 500.0,142.9 506.2,142.1C512.5,141.2 518.8,140.1 525.0,139.6C531.2,139.0 537.5,138.8 543.8,138.3C550.0,137.8 556.2,137.3 562.5,136.7M412.5,136.8C418.8,139.7 425.0,142.3 431.2,144.5C437.5,146.8 443.8,150.5 450.0,150.5C456.2,150.5 462.5,150.4 468.8,150.3C475.0,150.1 481.2,147.3 487.5,146.9C493.8,146.5 500.0,146.6 506.2,146.1C512.5,145.7 518.8,142.8 525.0,141.7C531.2,140.5 537.5,139.4 543.8,138.8C550.0,138.2 556.2,137.7 562.5,137.5M412.5,136.7C418.8,139.3 425.0,141.7 431.2,144.1C437.5,146.4 443.8,149.9 450.0,150.8C456.2,151.8 462.5,152.5 468.8,152.5C475.0,152.5 481.2,149.3 487.5,148.5C493.8,147.6 500.0,147.6 506.2,146.7C512.5,145.8 518.8,142.7 525.0,141.5C531.2,140.2 537.5,139.3 543.8,138.6C550.0,137.9 556.2,137.3 562.5,136.9M412.5,136.7C418.8,139.8 425.0,142.8 431.2,145.5C437.5,148.3 443.8,152.7 450.0,153.3C456.2,153.8 462.5,154.2 468.8,154.2C475.0,154.2 481.2,153.1 487.5,152.2C493.8,151.2 500.0,149.2 506.2,147.3C512.5,145.4 518.8,141.5 525.0,140.5C531.2,139.5 537.5,138.5 543.8,138.5C550.0,138.5 556.2,138.5 562.5,138.9M412.5,136.9C418.8,140.9 425.0,144.6 431.2,147.7C437.5,150.9 443.8,155.8 450.0,156.2C456.2,156.6 462.5,156.8 468.8,156.8C475.0,156.8 481.2,153.0 487.5,151.8C493.8,150.5 500.0,150.3 506.2,148.8C512.5,147.4 518.8,141.1 525.0,140.4C531.2,139.7 537.5,139.5 543.8,139.2C550.0,138.9 556.2,138.6 562.5,138.4M412.5,138.8C418.8,143.3 425.0,147.4 431.2,150.6C437.5,153.8 443.8,158.3 450.0,158.6C456.2,158.9 462.5,159.1 468.8,159.1C475.0,159.1 481.2,156.4 487.5,154.7C493.8,153.0 500.0,151.0 506.2,148.8C512.5,146.7 518.8,142.9 525.0,141.8C531.2,140.6 537.5,140.2 543.8,139.4C550.0,138.7 556.2,137.9 562.5,137.1M387.5,119.5C388.8,120.5 390.0,121.0 391.2,121.0C392.5,121.0 393.8,119.5 395.0,119.5C396.2,119.5 397.5,119.7 398.8,119.7C400.0,119.7 401.2,119.2 402.5,119.2C403.8,119.2 405.0,119.4 406.2,119.4C407.5,119.4 408.8,118.8 410.0,118.8C411.2,118.8 412.5,119.2 413.8,119.2C415.0,119.3 416.2,119.3 417.5,119.3M387.5,121.7C388.8,121.7 390.0,121.7 391.2,121.7C392.5,121.7 393.8,121.9 395.0,121.9C396.2,121.9 397.5,121.9 398.8,121.8C400.0,121.7 401.2,121.4 402.5,121.4C403.8,121.4 405.0,121.3 406.2,121.3C407.5,121.3 408.8,121.7 410.0,121.7C411.2,121.7 412.5,121.6 413.8,121.6C415.0,121.6 416.2,121.8 417.5,122.0M387.5,34.5C390.2,34.5 392.8,33.7 395.5,33.0C399.2,32.0 402.8,30.0 406.5,26.3C407.8,25.0 409.2,21.8 410.5,18.8M391.5,103.7C396.2,97.4 400.8,90.8 405.5,83.8C409.3,78.1 413.2,73.1 417.0,66.0C419.8,60.8 422.7,54.0 425.5,47.2C428.2,40.8 430.8,33.9 433.5,26.3C434.5,23.5 435.5,20.3 436.5,17.2M399.5,103.7C403.5,98.0 407.5,91.9 411.5,85.5C414.2,81.3 416.8,76.6 419.5,72.2C422.2,67.7 424.8,63.0 427.5,58.8C430.2,54.7 432.8,51.1 435.5,47.2C438.2,43.3 440.8,39.7 443.5,35.5C445.5,32.4 447.5,30.2 449.5,25.5C450.2,23.9 450.8,21.3 451.5,18.8M407.5,103.0C410.7,99.2 413.8,92.8 417.0,85.5C419.6,79.4 422.3,65.7 424.9,61.5C428.9,55.1 433.0,52.2 437.0,49.0C440.0,46.6 443.0,43.7 446.0,43.0C450.0,42.1 454.0,41.5 458.0,41.5C458.9,41.5 459.8,42.4 460.7,43.0M409.5,72.2C412.0,65.7 414.5,59.3 417.0,55.5C422.0,47.9 427.0,41.9 432.0,39.0C437.0,36.1 442.0,33.0 447.0,33.0C449.8,33.0 452.7,38.1 455.5,42.2C457.2,44.6 459.0,48.5 460.7,52.5M415.5,102.5C418.8,99.4 422.2,95.2 425.5,90.5C428.2,86.8 430.8,81.0 433.5,77.2C436.2,73.4 438.8,69.8 441.5,67.2C444.2,64.5 446.8,61.7 449.5,60.5C453.2,58.8 457.0,57.2 460.7,57.2M423.5,102.2C426.8,98.5 430.2,94.6 433.5,90.5C436.5,86.8 439.5,82.4 442.5,78.8C445.5,75.2 448.5,71.7 451.5,68.8C454.6,65.9 457.6,63.4 460.7,61.3M431.5,101.8C434.8,99.5 438.2,96.1 441.5,92.2C444.2,89.0 446.8,84.7 449.5,80.5C451.5,77.4 453.5,72.9 455.5,70.5C457.2,68.4 459.0,66.6 460.7,65.5M450.5,18.8C451.2,20.9 451.8,23.1 452.5,25.5C453.8,30.4 455.2,38.3 456.5,42.2C457.9,46.2 459.3,49.7 460.7,51.3M444.0,103.0C446.2,97.3 448.3,91.4 450.5,85.5C452.5,80.0 454.5,73.4 456.5,68.8C457.9,65.6 459.3,62.8 460.7,60.5M448.5,103.0C450.3,97.3 452.2,90.8 454.0,83.8C455.3,78.7 456.7,72.0 458.0,67.2C458.9,63.9 459.8,61.0 460.7,58.5M453.0,103.0C454.5,99.9 456.0,91.4 457.5,82.2C458.2,78.0 458.8,70.7 459.5,65.5C459.9,62.4 460.3,59.4 460.7,56.5M414.5,65.8C416.0,64.7 417.6,64.2 419.1,64.2C420.6,64.2 422.2,65.8 423.7,65.8C425.2,65.8 426.8,64.2 428.3,64.2C429.8,64.2 431.4,65.8 432.9,65.8C434.4,65.8 436.0,65.3 437.5,64.2M409.5,71.3C411.5,70.2 413.5,69.7 415.5,69.7C417.5,69.7 419.5,71.3 421.5,71.3C423.5,71.3 425.5,69.7 427.5,69.7C429.5,69.7 431.5,71.3 433.5,71.3C435.5,71.3 437.5,70.8 439.5,69.7M405.5,78.8C407.6,77.7 409.8,77.2 411.9,77.2C414.0,77.2 416.2,78.8 418.3,78.8C420.4,78.8 422.6,77.2 424.7,77.2C426.8,77.2 429.0,78.8 431.1,78.8C433.2,78.8 435.4,78.3 437.5,77.2M397.5,83.3C399.8,82.2 402.2,81.7 404.5,81.7C406.8,81.7 409.2,83.3 411.5,83.3C413.8,83.3 416.2,81.7 418.5,81.7C420.8,81.7 423.2,83.3 425.5,83.3C427.8,83.3 430.2,82.8 432.5,81.7M392.5,91.3C394.8,90.2 397.2,89.7 399.5,89.7C401.8,89.7 404.2,91.3 406.5,91.3C408.8,91.3 411.2,89.7 413.5,89.7C415.8,89.7 418.2,91.3 420.5,91.3C422.8,91.3 425.2,90.8 427.5,89.7M460.7,50.5C463.3,50.5 466.0,47.9 468.6,45.0C471.2,42.1 473.9,34.5 476.5,25.5C477.8,20.9 479.2,13.3 480.5,5.5M460.7,53.3C463.7,53.3 466.7,50.4 469.7,47.2C472.7,44.0 475.7,35.7 478.7,25.5C480.0,21.0 481.4,13.2 482.7,5.5M460.7,56.2C464.1,56.2 467.4,52.9 470.8,49.4C474.2,45.9 477.5,36.9 480.9,25.5C482.2,21.0 483.6,13.2 484.9,5.5M460.7,59.0C464.4,59.0 468.2,55.5 471.9,51.6C475.6,47.8 479.4,38.1 483.1,25.5C484.4,21.0 485.8,13.1 487.1,5.5M460.7,61.8C464.8,61.8 468.9,58.0 473.0,53.8C477.1,49.7 481.2,39.3 485.3,25.5C486.6,21.0 488.0,13.0 489.3,5.5M460.7,64.7C465.2,64.7 469.6,60.5 474.1,56.0C478.6,51.6 483.0,40.5 487.5,25.5C488.8,21.0 490.2,13.0 491.5,5.5M460.7,67.5C465.5,67.5 470.4,63.1 475.2,58.3C480.0,53.5 484.9,41.7 489.7,25.5C491.0,21.0 492.4,13.0 493.7,5.5M460.7,70.3C465.9,70.3 471.1,65.6 476.3,60.5C481.5,55.3 486.7,42.9 491.9,25.5C493.2,21.0 494.6,12.9 495.9,5.5M460.7,73.2C466.3,73.2 471.8,68.1 477.4,62.7C483.0,57.2 488.5,44.1 494.1,25.5C495.4,21.0 496.8,12.9 498.1,5.5M460.7,76.0C466.6,76.0 472.6,70.7 478.5,64.9C484.4,59.1 490.4,45.3 496.3,25.5C497.6,21.0 499.0,12.8 500.3,5.5M460.7,52.5C464.6,51.4 468.6,50.8 472.5,50.8C477.5,50.8 482.5,52.9 487.5,53.3C492.7,53.8 497.8,53.8 503.0,54.2C509.5,54.7 516.0,57.4 522.5,57.5C532.5,57.6 542.5,57.6 552.5,57.7C564.2,57.8 575.8,58.1 587.5,58.5M460.7,59.7C464.6,58.6 468.6,58.0 472.5,58.0C477.5,58.0 482.5,60.1 487.5,60.5C492.7,60.9 497.8,60.9 503.0,61.3C509.5,61.9 516.0,64.3 522.5,64.7C532.5,65.2 542.5,65.3 552.5,65.6C564.2,65.9 575.8,66.2 587.5,66.4M460.7,87.7C465.0,84.8 469.2,83.0 473.5,83.0C478.2,83.0 482.8,85.6 487.5,87.2C492.7,88.9 497.8,91.5 503.0,93.5C506.2,94.8 509.3,96.0 512.5,97.2C515.8,98.4 519.2,99.5 522.5,100.5M460.7,84.8C463.0,84.8 465.2,84.4 467.5,83.8C470.2,83.2 472.8,81.0 475.5,78.8C477.8,76.9 480.2,73.3 482.5,70.5C484.8,67.7 487.2,64.9 489.5,62.2M447.5,70.5C451.9,70.4 456.3,70.1 460.7,69.7C466.3,69.2 471.9,67.2 477.5,67.2C482.5,67.2 487.5,67.6 492.5,68.0C496.0,68.3 499.5,69.1 503.0,69.7C507.8,70.5 512.7,71.3 517.5,72.2M502.0,12.2C503.0,16.8 504.0,21.6 505.0,25.5C510.2,45.5 515.3,62.9 520.5,75.5C522.7,80.8 524.8,84.8 527.0,88.8C530.0,94.3 533.0,99.4 536.0,103.7M502.6,12.2C503.6,16.8 504.6,21.6 505.6,25.5C510.7,45.3 515.8,63.1 520.8,75.5C523.0,80.8 525.1,84.9 527.3,88.8C530.4,94.4 533.5,99.6 536.6,103.7M503.3,12.2C504.3,16.8 505.3,21.5 506.3,25.5C511.2,45.0 516.2,63.3 521.1,75.5C523.3,80.9 525.4,85.0 527.6,88.8C530.8,94.5 534.0,99.7 537.2,103.7M503.9,12.2C504.9,16.8 505.9,21.5 506.9,25.5C511.8,44.8 516.6,63.5 521.4,75.5C523.6,80.9 525.7,85.0 527.9,88.8C531.2,94.6 534.5,99.8 537.8,103.7M504.6,12.2C505.6,16.8 506.6,21.5 507.6,25.5C512.3,44.5 517.0,63.7 521.7,75.5C523.9,81.0 526.0,85.1 528.2,88.8C531.6,94.7 535.0,100.0 538.4,103.7M505.2,12.2C506.2,16.8 507.2,21.4 508.2,25.5C512.8,44.2 517.4,63.9 522.0,75.5C524.2,81.0 526.3,85.2 528.5,88.8C532.0,94.8 535.5,100.1 539.0,103.7M505.9,12.2C506.9,16.7 507.9,21.4 508.9,25.5C513.4,44.0 517.8,64.1 522.3,75.5C524.5,81.0 526.6,85.2 528.8,88.8C532.4,94.9 536.0,100.2 539.6,103.7M506.6,12.2C507.6,16.7 508.6,21.3 509.6,25.5C513.9,43.7 518.2,64.3 522.6,75.5C524.8,81.1 526.9,85.3 529.1,88.8C532.8,94.9 536.5,100.4 540.2,103.7M507.5,18.0C508.5,20.4 509.5,22.9 510.5,25.5C513.8,34.2 517.2,44.8 520.5,53.0C523.8,61.2 527.2,69.1 530.5,75.5C533.3,80.9 536.2,85.2 539.0,89.7C541.8,94.1 544.7,98.3 547.5,102.2M515.5,18.0C516.5,20.4 517.5,22.9 518.5,25.5C521.8,34.2 525.2,44.8 528.5,53.0C531.8,61.2 535.2,69.5 538.5,75.5C541.7,81.2 544.8,85.2 548.0,89.7C551.2,94.1 554.3,98.3 557.5,102.2M519.5,18.0C520.5,20.5 521.5,23.0 522.5,25.5C526.2,34.7 529.8,44.8 533.5,53.0C537.2,61.2 540.8,69.4 544.5,75.5C547.8,81.1 551.2,85.2 554.5,89.7C557.8,94.1 561.2,98.3 564.5,102.2M526.0,18.0C527.0,20.5 528.0,23.0 529.0,25.5C532.6,34.5 536.2,44.8 539.8,53.0C543.3,61.2 546.9,69.8 550.5,75.5C554.2,81.4 557.8,85.2 561.5,89.7C565.2,94.1 568.8,98.3 572.5,102.2M529.0,18.0C530.0,20.5 531.0,23.0 532.0,25.5C535.8,34.9 539.7,44.8 543.5,53.0C547.3,61.2 551.2,69.6 555.0,75.5C558.8,81.2 562.5,85.2 566.2,89.7C570.0,94.1 573.8,98.3 577.5,102.2M536.5,18.0C537.5,20.4 538.5,22.9 539.5,25.5C542.8,34.2 546.2,44.8 549.5,53.0C552.8,61.2 556.2,70.3 559.5,75.5C563.5,81.8 567.5,85.2 571.5,89.7C575.5,94.1 579.5,98.3 583.5,102.2M544.5,18.0C545.5,20.4 546.5,22.9 547.5,25.5C550.8,34.2 554.2,44.8 557.5,53.0C560.8,61.2 564.2,70.2 567.5,75.5C571.3,81.6 575.2,85.2 579.0,89.7C582.8,94.1 586.7,98.3 590.5,102.2M563.5,20.5C565.0,22.8 566.5,25.0 568.0,26.3C571.2,29.1 574.3,31.1 577.5,32.2C580.8,33.3 584.2,34.4 587.5,34.5M387.5,161.3C391.5,161.2 395.5,160.9 399.5,160.7C408.8,160.0 418.2,158.8 427.5,158.1C435.5,157.5 443.5,156.5 451.5,156.5C454.6,156.5 457.6,156.6 460.7,156.8M387.5,163.8C391.9,163.6 396.3,163.3 400.7,162.9C410.1,162.1 419.5,160.3 428.9,159.3C436.5,158.5 444.2,157.2 451.8,157.2C454.8,157.2 457.7,157.4 460.7,157.6M387.5,167.2C392.3,166.9 397.1,166.4 401.9,165.8C411.4,164.7 420.8,162.2 430.3,160.8C437.6,159.7 444.8,158.0 452.1,158.0C455.0,158.0 457.8,158.1 460.7,158.3M387.5,170.5C392.7,170.1 397.9,169.5 403.1,168.8C412.6,167.4 422.2,164.1 431.7,162.3C438.6,160.9 445.5,158.8 452.4,158.8C455.2,158.8 457.9,158.8 460.7,159.1M387.5,174.7C393.1,174.3 398.7,173.4 404.3,172.4C413.9,170.7 423.5,166.4 433.1,164.0C439.6,162.3 446.2,159.5 452.7,159.5C455.4,159.5 458.0,159.5 460.7,159.8M387.5,179.7C393.5,179.2 399.5,178.1 405.5,176.8C415.2,174.7 424.8,169.2 434.5,165.9C440.7,163.9 446.8,160.3 453.0,160.3C455.6,160.3 458.1,160.3 460.7,160.6M387.5,184.5C393.9,184.0 400.3,182.6 406.7,181.0C416.4,178.6 426.2,171.9 435.9,167.8C441.7,165.4 447.5,161.0 453.3,161.0C455.8,161.0 458.2,161.0 460.7,161.3M387.5,189.5C394.3,189.0 401.1,187.3 407.9,185.4C417.7,182.6 427.5,174.7 437.3,169.8C442.7,167.0 448.2,161.8 453.6,161.8C456.0,161.8 458.3,161.8 460.7,162.1M387.5,195.3C394.7,194.9 401.9,192.8 409.1,190.5C419.0,187.3 428.8,178.1 438.7,171.9C443.8,168.8 448.8,162.5 453.9,162.5C456.2,162.5 458.4,162.5 460.7,162.8M387.5,201.0C395.1,200.7 402.7,198.1 410.3,195.4C420.2,191.8 430.2,181.4 440.1,174.1C444.8,170.6 449.5,163.2 454.2,163.2C456.4,163.2 458.5,163.2 460.7,163.6M387.5,206.8C395.5,206.6 403.5,203.6 411.5,200.5C421.5,196.5 431.5,185.0 441.5,176.2C445.8,172.4 450.2,164.0 454.5,164.0C456.6,164.0 458.6,164.0 460.7,164.3M387.5,211.8C395.9,211.8 404.3,208.3 412.7,204.8C422.8,200.6 432.8,188.3 442.9,178.2C446.9,174.2 450.8,164.8 454.8,164.8C456.8,164.8 458.7,164.8 460.7,165.1M387.5,216.7C396.3,216.7 405.1,212.9 413.9,209.0C424.0,204.6 434.2,191.7 444.3,180.1C447.9,175.9 451.5,165.5 455.1,165.5C457.0,165.5 458.8,165.5 460.7,165.8M387.5,220.8C396.7,220.8 405.9,216.9 415.1,212.7C425.3,208.1 435.5,194.9 445.7,181.8C448.9,177.6 452.2,166.2 455.4,166.2C457.2,166.2 458.9,166.2 460.7,166.6M503.0,150.2C508.8,146.9 514.7,144.0 520.5,144.0C527.2,144.0 533.9,145.0 540.6,145.5C548.4,146.0 556.2,146.8 564.0,147.0C571.9,147.2 579.7,147.3 587.5,147.3M503.0,150.3C508.6,146.6 514.1,144.6 519.7,144.6C526.5,144.6 533.3,149.8 540.0,152.1C548.0,154.7 555.9,158.6 563.8,159.5C571.7,160.4 579.6,161.2 587.5,161.2M503.0,150.5C508.3,146.9 513.6,145.2 518.9,145.2C525.8,145.2 532.6,151.7 539.5,154.6C547.5,157.9 555.5,162.8 563.5,163.9C571.5,165.1 579.5,166.0 587.5,166.0M503.0,150.7C508.0,147.2 513.1,145.9 518.1,145.9C525.0,145.9 532.0,154.0 538.9,157.6C547.0,161.8 555.1,167.8 563.2,169.2C571.3,170.7 579.4,171.8 587.5,171.8M503.0,150.8C507.8,147.6 512.5,146.5 517.3,146.5C524.3,146.5 531.3,155.9 538.4,160.1C546.5,165.0 554.7,172.0 562.9,173.7C571.1,175.3 579.3,176.7 587.5,176.7M503.0,151.0C507.5,148.0 512.0,147.2 516.5,147.2C523.6,147.2 530.7,157.9 537.8,162.7C546.1,168.3 554.4,176.3 562.6,178.2C570.9,180.1 579.2,181.7 587.5,181.7M503.0,151.2C507.2,148.4 511.5,147.9 515.7,147.9C522.9,147.9 530.1,159.9 537.2,165.2C545.6,171.5 554.0,180.5 562.4,182.6C570.7,184.7 579.1,186.5 587.5,186.5M503.0,151.3C507.0,148.8 510.9,148.5 514.9,148.5C522.2,148.5 529.4,161.9 536.7,167.8C545.1,174.7 553.6,184.7 562.1,187.1C570.6,189.4 579.0,191.3 587.5,191.3M503.0,151.5C506.7,149.3 510.4,149.2 514.1,149.2C521.4,149.2 528.8,163.5 536.1,169.9C544.7,177.3 553.2,188.1 561.8,190.6C570.4,193.1 578.9,195.2 587.5,195.2M503.0,151.7C506.4,149.9 509.9,149.9 513.3,149.9C520.7,149.9 528.1,165.5 535.6,172.5C544.2,180.6 552.9,192.4 561.5,195.1C570.2,197.9 578.8,200.2 587.5,200.2M503.0,151.8C506.2,150.6 509.3,150.6 512.5,150.6C520.0,150.6 527.5,167.2 535.0,174.6C543.8,183.3 552.5,195.7 561.2,198.7C570.0,201.6 578.8,204.0 587.5,204.0M503.0,152.0C505.9,151.2 508.8,151.2 511.7,151.2C519.3,151.2 526.9,168.9 534.4,176.7C543.3,185.9 552.1,199.1 561.0,202.2C569.8,205.3 578.7,207.8 587.5,207.8M503.0,152.2C505.6,151.9 508.3,151.9 510.9,151.9C518.6,151.9 526.2,170.9 533.9,179.3C542.8,189.2 551.8,203.4 560.7,206.7C569.6,210.1 578.6,212.8 587.5,212.8M503.0,152.3C505.4,152.3 507.7,152.4 510.1,152.6C517.8,153.1 525.6,172.8 533.3,181.9C542.4,192.4 551.4,207.6 560.4,211.2C569.4,214.7 578.5,217.7 587.5,217.7M387.5,147.5C388.8,146.9 390.2,146.8 391.5,146.8C395.5,146.8 399.5,153.8 403.5,158.2C409.0,164.1 414.5,174.2 420.0,179.7C425.5,185.1 431.0,189.3 436.5,192.8C442.0,196.4 447.5,200.2 453.0,201.8C455.6,202.6 458.1,202.7 460.7,203.5C463.0,204.2 465.2,205.4 467.5,207.2C471.5,210.2 475.5,218.0 479.5,225.5C480.5,227.4 481.5,229.8 482.5,232.2M393.5,147.2C394.6,147.7 395.8,148.6 396.9,149.8C401.1,154.3 405.3,168.1 409.5,178.8C414.7,192.0 419.8,209.6 425.0,223.8C425.8,226.1 426.7,228.3 427.5,230.5M532.5,232.2C533.5,229.3 534.5,226.3 535.5,223.8C541.2,210.0 546.8,199.3 552.5,188.8C559.2,176.5 565.8,162.5 572.5,155.5C575.8,152.0 579.2,148.3 582.5,147.3C584.2,146.8 585.8,146.3 587.5,146.3M544.5,232.2C545.5,229.3 546.5,226.3 547.5,223.8C552.8,210.4 558.2,199.6 563.5,188.8C568.8,178.1 574.2,166.0 579.5,158.8C581.5,156.1 583.5,153.3 585.5,152.2C586.2,151.8 586.8,151.5 587.5,151.3M460.7,85.5C466.3,83.0 471.9,81.3 477.5,81.3C482.5,81.3 487.5,82.3 492.5,83.0C496.0,83.5 499.5,84.7 503.0,84.7C509.5,84.7 516.0,82.2 522.5,82.2C530.8,82.2 539.2,84.7 547.5,84.7C555.8,84.7 564.2,83.0 572.5,83.0C577.5,83.0 582.5,83.3 587.5,83.8M460.7,88.8C466.3,86.4 471.9,84.7 477.5,84.7C482.5,84.7 487.5,85.7 492.5,86.3C496.0,86.8 499.5,88.0 503.0,88.0C509.5,88.0 516.0,85.5 522.5,85.5C530.8,85.5 539.2,88.0 547.5,88.0C555.8,88.0 564.2,86.3 572.5,86.3C577.5,86.3 582.5,86.7 587.5,87.2M460.7,92.2C466.3,89.7 471.9,88.0 477.5,88.0C482.5,88.0 487.5,89.0 492.5,89.7C496.0,90.1 499.5,91.3 503.0,91.3C509.5,91.3 516.0,88.8 522.5,88.8C530.8,88.8 539.2,91.3 547.5,91.3C555.8,91.3 564.2,89.7 572.5,89.7C577.5,89.7 582.5,90.0 587.5,90.5M460.7,95.5C466.3,93.0 471.9,91.3 477.5,91.3C482.5,91.3 487.5,92.3 492.5,93.0C496.0,93.5 499.5,94.7 503.0,94.7C509.5,94.7 516.0,92.2 522.5,92.2C530.8,92.2 539.2,94.7 547.5,94.7C555.8,94.7 564.2,93.0 572.5,93.0C577.5,93.0 582.5,93.3 587.5,93.8M460.7,98.8C466.3,96.4 471.9,94.7 477.5,94.7C482.5,94.7 487.5,95.7 492.5,96.3C496.0,96.8 499.5,98.0 503.0,98.0C509.5,98.0 516.0,95.5 522.5,95.5C530.8,95.5 539.2,98.0 547.5,98.0C555.8,98.0 564.2,96.3 572.5,96.3C577.5,96.3 582.5,96.7 587.5,97.2M460.7,102.2C466.3,99.7 471.9,98.0 477.5,98.0C482.5,98.0 487.5,99.0 492.5,99.7C496.0,100.1 499.5,101.3 503.0,101.3C509.5,101.3 516.0,98.8 522.5,98.8C530.8,98.8 539.2,101.3 547.5,101.3C555.8,101.3 564.2,99.7 572.5,99.7C577.5,99.7 582.5,100.0 587.5,100.5M387.5,82.2C392.5,80.9 397.5,80.5 402.5,80.5C407.5,80.5 412.5,83.0 417.5,83.0C422.5,83.0 427.5,80.5 432.5,80.5C437.5,80.5 442.5,80.9 447.5,82.2M387.5,87.2C392.5,85.9 397.5,85.5 402.5,85.5C407.5,85.5 412.5,88.0 417.5,88.0C422.5,88.0 427.5,85.5 432.5,85.5C437.5,85.5 442.5,85.9 447.5,87.2M387.5,92.2C392.5,90.9 397.5,90.5 402.5,90.5C407.5,90.5 412.5,93.0 417.5,93.0C422.5,93.0 427.5,90.5 432.5,90.5C437.5,90.5 442.5,90.9 447.5,92.2M387.5,97.2C392.5,95.9 397.5,95.5 402.5,95.5C407.5,95.5 412.5,98.0 417.5,98.0C422.5,98.0 427.5,95.5 432.5,95.5C437.5,95.5 442.5,95.9 447.5,97.2" fill="none" stroke="#33107a" stroke-width="1.25"/></g></g>
<clipPath id="dclipb"><rect x="592.3" y="25.5" width="78.0" height="200.0"/></clipPath><g clip-path="url(#dclipb)"><polyline points="625.8,25.8 625.2,26.4 625.0,27.0 625.6,27.6 625.6,28.2 624.7,28.8 625.0,29.4 624.4,30.0 623.9,30.6 624.8,31.2 624.8,31.8 626.9,32.4 625.3,33.0 626.3,33.6 627.1,34.2 626.6,34.8 626.4,35.4 625.8,36.0 625.8,36.6 624.7,37.2 624.5,37.8 623.7,38.4 622.2,39.0 622.1,39.6 622.1,40.2 620.4,40.8 619.7,41.4 620.0,42.0 620.1,42.6 620.1,43.2 620.4,43.8 619.1,44.4 619.2,45.0 619.4,45.6 619.2,46.2 619.7,46.8 618.8,47.4 619.6,48.0 620.0,48.6 619.4,49.2 619.4,49.8 619.9,50.4 621.2,51.0 622.4,51.6 621.7,52.2 623.7,52.8 623.9,53.4 624.7,54.0 625.6,54.6 626.3,55.2 626.8,55.8 626.7,56.4 626.4,57.0 625.9,57.6 624.8,58.2 625.7,58.8 624.9,59.4 625.3,60.0 625.5,60.6 620.7,61.2 625.2,61.8 625.5,62.4 625.1,63.0 625.2,63.6 626.0,64.2 625.6,64.8 626.4,65.4 626.7,66.0 626.7,66.6 627.3,67.2 626.7,67.8 626.4,68.4 626.6,69.0 626.3,69.6 625.9,70.2 626.2,70.8 626.2,71.4 625.7,72.0 625.8,72.6 626.2,73.2 626.7,73.8 626.4,74.4 627.0,75.0 626.9,75.6 627.8,76.2 627.7,76.8 626.9,77.4 626.9,78.0 627.4,78.6 627.5,79.2 628.4,79.8 627.5,80.4 627.9,81.0 628.3,81.6 628.1,82.2 628.1,82.8 627.6,83.4 627.7,84.0 626.9,84.6 627.1,85.2 627.3,85.8 627.2,86.4 627.6,87.0 626.7,87.6 626.8,88.2 626.3,88.8 625.9,89.4 625.5,90.0 621.3,90.6 624.5,91.2 624.8,91.8 623.6,92.4 626.2,93.0 626.4,93.6 626.8,94.2 626.8,94.8 627.2,95.4 627.9,96.0 628.5,96.6 628.3,97.2 628.8,97.8 629.3,98.4 628.9,99.0 627.4,99.6 630.9,100.2 629.7,100.8 630.1,101.4 629.1,102.0 629.5,102.6 627.3,103.2 624.9,103.8 626.4,104.4 625.1,105.0 625.1,105.6 624.8,106.2 625.0,106.8 624.5,107.4 623.5,108.0 624.6,108.6 623.3,109.2 621.7,109.8 622.3,110.4 621.3,111.0 622.0,111.6 623.4,112.2 623.6,112.8 623.6,113.4 624.3,114.0 620.6,114.6 622.0,115.2 621.4,115.8 620.5,116.4 620.5,117.0 609.5,117.6 620.4,118.2 622.0,118.8 621.8,119.4 623.0,120.0 623.8,120.6 618.9,121.2 623.8,121.8 625.3,122.4 625.3,123.0 626.1,123.6 625.6,124.2 626.5,124.8 626.6,125.4 625.7,126.0 626.3,126.6 625.9,127.2 625.7,127.8 625.2,128.4 624.9,129.0 624.9,129.6 626.1,130.2 626.1,130.8 627.1,131.4 626.8,132.0 627.4,132.6 627.1,133.2 627.5,133.8 627.6,134.4 627.2,135.0 627.1,135.6 626.5,136.2 626.4,136.8 626.0,137.4 627.5,138.0 628.2,138.6 628.6,139.2 630.6,139.8 630.1,140.4 629.7,141.0 627.1,141.6 626.3,142.2 626.0,142.8 626.1,143.4 626.3,144.0 625.1,144.6 625.2,145.2 624.6,145.8 624.7,146.4 625.9,147.0 624.9,147.6 624.1,148.2 623.3,148.8 623.9,149.4 623.2,150.0 623.5,150.6 624.1,151.2 623.0,151.8 624.1,152.4 624.2,153.0 622.2,153.6 622.0,154.2 622.3,154.8 622.1,155.4 623.0,156.0 622.7,156.6 616.8,157.2 622.3,157.8 622.0,158.4 623.3,159.0 620.7,159.6 622.9,160.2 622.0,160.8 608.9,161.4 620.1,162.0 622.9,162.6 614.2,163.2 610.4,163.8 620.2,164.4 623.6,165.0 614.4,165.6 622.9,166.2 623.2,166.8 621.2,167.4 622.9,168.0 618.0,168.6 624.8,169.2 622.0,169.8 616.4,170.4 621.0,171.0 622.9,171.6 613.2,172.2 623.5,172.8 619.8,173.4 614.9,174.0 623.2,174.6 622.7,175.2 619.4,175.8 625.3,176.4 624.3,177.0 619.3,177.6 622.1,178.2 623.0,178.8 622.6,179.4 623.0,180.0 623.3,180.6 617.7,181.2 616.8,181.8 623.2,182.4 624.3,183.0 622.9,183.6 623.8,184.2 618.6,184.8 624.3,185.4 614.6,186.0 624.2,186.6 623.2,187.2 618.4,187.8 622.5,188.4 614.3,189.0 622.6,189.6 617.0,190.2 622.9,190.8 623.3,191.4 619.0,192.0 617.8,192.6 617.2,193.2 623.5,193.8 623.6,194.4 623.3,195.0 616.8,195.6 623.1,196.2 616.7,196.8 623.9,197.4 624.1,198.0 619.3,198.6 624.0,199.2 618.9,199.8 625.9,200.4 624.3,201.0 617.2,201.6 615.9,202.2 624.1,202.8 619.4,203.4 624.0,204.0 624.6,204.6 624.5,205.2 624.4,205.8 624.2,206.4 623.1,207.0 616.3,207.6 615.6,208.2 623.2,208.8 624.3,209.4 618.8,210.0 618.4,210.6 615.6,211.2 620.4,211.8 623.0,212.4 623.6,213.0 624.7,213.6 623.0,214.2 619.9,214.8 628.6,215.4 628.4,216.0 628.2,216.6 627.4,217.2 626.8,217.8 625.6,218.4 618.7,219.0 623.6,219.6 620.3,220.2 624.0,220.8 623.3,221.4 624.7,222.0 624.4,222.6 625.2,223.2 623.8,223.8 624.1,224.4 620.1,225.0" fill="none" stroke="#e00000" stroke-width="1.7" stroke-linejoin="round"/>
<polyline points="636.9,25.8 637.1,26.4 637.3,27.0 637.3,27.6 637.7,28.2 636.6,28.8 637.8,29.4 637.2,30.0 637.6,30.6 637.4,31.2 637.3,31.8 638.0,32.4 638.7,33.0 638.8,33.6 639.3,34.2 638.8,34.8 639.3,35.4 639.1,36.0 638.8,36.6 639.5,37.2 639.7,37.8 640.7,38.4 640.8,39.0 641.3,39.6 641.9,40.2 642.2,40.8 642.2,41.4 642.4,42.0 643.0,42.6 643.6,43.2 642.8,43.8 643.0,44.4 645.0,45.0 644.0,45.6 644.4,46.2 643.1,46.8 643.6,47.4 643.4,48.0 643.1,48.6 643.0,49.2 643.0,49.8 642.9,50.4 642.9,51.0 641.7,51.6 641.0,52.2 640.8,52.8 639.9,53.4 638.8,54.0 637.8,54.6 637.1,55.2 637.2,55.8 637.9,56.4 638.5,57.0 638.6,57.6 638.2,58.2 639.4,58.8 639.1,59.4 639.2,60.0 641.7,60.6 640.1,61.2 639.2,61.8 638.6,62.4 638.3,63.0 638.4,63.6 636.8,64.2 637.1,64.8 635.5,65.4 635.4,66.0 636.0,66.6 636.5,67.2 636.0,67.8 636.9,68.4 637.1,69.0 636.7,69.6 636.9,70.2 637.0,70.8 636.8,71.4 638.2,72.0 637.9,72.6 636.7,73.2 636.9,73.8 636.5,74.4 635.9,75.0 635.4,75.6 635.2,76.2 634.5,76.8 634.2,77.4 634.9,78.0 634.4,78.6 634.1,79.2 634.7,79.8 633.6,80.4 634.1,81.0 634.6,81.6 634.6,82.2 634.6,82.8 634.5,83.4 634.6,84.0 634.9,84.6 635.1,85.2 635.4,85.8 635.8,86.4 635.8,87.0 636.4,87.6 635.7,88.2 640.2,88.8 636.3,89.4 637.4,90.0 636.9,90.6 637.5,91.2 640.4,91.8 637.1,92.4 636.5,93.0 636.4,93.6 635.9,94.2 634.8,94.8 635.0,95.4 634.1,96.0 634.2,96.6 635.7,97.2 633.7,97.8 632.4,98.4 633.5,99.0 632.8,99.6 632.5,100.2 632.8,100.8 633.1,101.4 632.9,102.0 633.9,102.6 634.2,103.2 635.0,103.8 635.9,104.4 637.0,105.0 636.1,105.6 636.8,106.2 637.9,106.8 638.6,107.4 638.9,108.0 639.0,108.6 643.6,109.2 640.5,109.8 639.4,110.4 643.8,111.0 638.0,111.6 638.2,112.2 638.0,112.8 637.7,113.4 638.9,114.0 639.4,114.6 640.9,115.2 642.6,115.8 644.4,116.4 643.2,117.0 653.6,117.6 643.0,118.2 642.3,118.8 642.6,119.4 641.0,120.0 640.2,120.6 639.2,121.2 638.7,121.8 636.3,122.4 638.5,123.0 635.8,123.6 635.6,124.2 635.4,124.8 638.2,125.4 634.9,126.0 635.3,126.6 634.9,127.2 635.0,127.8 634.9,128.4 633.9,129.0 634.2,129.6 634.8,130.2 635.2,130.8 635.0,131.4 635.9,132.0 636.3,132.6 636.3,133.2 636.7,133.8 636.6,134.4 637.3,135.0 637.2,135.6 637.0,136.2 635.4,136.8 635.6,137.4 634.0,138.0 633.8,138.6 633.1,139.2 632.1,139.8 633.0,140.4 633.9,141.0 634.4,141.6 635.0,142.2 635.7,142.8 636.7,143.4 637.2,144.0 636.0,144.6 637.3,145.2 637.9,145.8 637.1,146.4 638.8,147.0 639.5,147.6 638.6,148.2 638.4,148.8 639.4,149.4 640.4,150.0 641.4,150.6 640.4,151.2 640.3,151.8 639.9,152.4 640.9,153.0 640.2,153.6 640.4,154.2 640.7,154.8 640.2,155.4 639.4,156.0 640.5,156.6 647.0,157.2 642.0,157.8 639.6,158.4 641.1,159.0 641.2,159.6 640.5,160.2 639.4,160.8 654.2,161.4 642.8,162.0 642.6,162.6 647.7,163.2 652.4,163.8 641.9,164.4 641.9,165.0 648.4,165.6 641.7,166.2 641.2,166.8 640.0,167.4 647.4,168.0 640.7,168.6 641.0,169.2 641.4,169.8 647.0,170.4 645.2,171.0 643.7,171.6 641.8,172.2 642.8,172.8 639.0,173.4 641.4,174.0 643.0,174.6 641.6,175.2 643.4,175.8 639.9,176.4 639.8,177.0 644.4,177.6 640.5,178.2 647.3,178.8 637.8,179.4 646.0,180.0 644.7,180.6 640.1,181.2 647.0,181.8 643.2,182.4 636.7,183.0 638.8,183.6 639.1,184.2 637.9,184.8 646.8,185.4 640.3,186.0 638.5,186.6 638.1,187.2 644.4,187.8 637.9,188.4 638.7,189.0 641.6,189.6 638.7,190.2 644.2,190.8 639.4,191.4 639.0,192.0 646.7,192.6 639.6,193.2 639.7,193.8 642.4,194.4 638.5,195.0 647.0,195.6 644.0,196.2 646.7,196.8 639.4,197.4 646.8,198.0 643.2,198.6 638.0,199.2 639.4,199.8 635.3,200.4 639.3,201.0 638.7,201.6 637.1,202.2 637.4,202.8 644.4,203.4 641.1,204.0 645.7,204.6 638.9,205.2 642.7,205.8 638.5,206.4 638.4,207.0 637.9,207.6 638.6,208.2 639.0,208.8 636.8,209.4 644.0,210.0 645.4,210.6 638.4,211.2 639.0,211.8 638.3,212.4 643.4,213.0 637.8,213.6 637.1,214.2 640.1,214.8 638.2,215.4 632.3,216.0 632.7,216.6 638.5,217.2 640.7,217.8 636.0,218.4 643.4,219.0 637.4,219.6 639.0,220.2 639.9,220.8 637.7,221.4 638.5,222.0 641.0,222.6 638.1,223.2 638.7,223.8 638.3,224.4 637.9,225.0" fill="none" stroke="#0000f0" stroke-width="1.7" stroke-linejoin="round"/></g>
<g id="bands-c"><clipPath id="clipc"><rect x="42.0" y="295.5" width="200.0" height="200.0"/></clipPath><g clip-path="url(#clipc)"><path d="M42.0,368.2 44.0,368.2 46.0,368.2 48.1,368.2 50.1,368.2 52.1,368.2 54.1,368.2 56.1,368.2 58.2,368.2 60.2,368.2 62.2,368.2 64.2,368.2 66.2,368.2 68.3,368.2 70.3,368.2 72.3,368.2 74.3,368.2 76.3,368.2 78.4,368.2 80.4,368.2 82.4,368.2 84.4,368.2 86.4,368.2 88.5,368.2 90.5,368.2 92.5,368.2 94.5,368.2 96.5,368.2 98.6,368.2 100.6,368.2 102.6,368.2 104.6,368.2 106.6,368.2 108.7,368.2 110.7,368.2 112.7,368.2 114.7,368.2 116.7,368.2 118.8,368.2 120.8,368.2 122.8,368.2 124.8,368.2 126.8,368.2 128.9,368.2 130.9,368.2 132.9,368.2 134.9,368.2 136.9,368.2 139.0,368.2 141.0,368.2 143.0,368.2 145.0,368.2 147.1,368.2 149.1,368.2 151.1,368.2 153.1,368.2 155.1,368.2 157.2,368.2 159.2,368.2 161.2,368.2 163.2,368.2 165.2,368.2 167.3,368.2 169.3,368.2 171.3,368.2 173.3,368.2 175.3,368.2 177.4,368.2 179.4,368.2 181.4,368.2 183.4,368.2 185.4,368.2 187.5,368.2 189.5,368.2 191.5,368.2 193.5,368.2 195.5,368.2 197.6,368.2 199.6,368.2 201.6,368.2 203.6,368.2 205.6,368.2 207.7,368.2 209.7,368.2 211.7,368.2 213.7,368.2 215.7,368.2 217.8,368.2 219.8,368.2 221.8,368.2 223.8,368.2 225.8,368.2 227.9,368.2 229.9,368.2 231.9,368.2 233.9,368.2 235.9,368.2 238.0,368.2 240.0,368.2 242.0,368.2 242.0,396.8 240.0,396.8 238.0,396.8 235.9,396.8 233.9,396.8 231.9,396.9 229.9,396.9 227.9,396.9 225.8,396.9 223.8,396.9 221.8,396.9 219.8,396.9 217.8,396.9 215.7,396.9 213.7,396.9 211.7,396.9 209.7,396.9 207.7,396.9 205.6,396.9 203.6,396.9 201.6,396.9 199.6,397.0 197.6,397.0 195.5,397.0 193.5,397.0 191.5,397.0 189.5,397.0 187.5,397.0 185.4,397.0 183.4,397.0 181.4,397.0 179.4,397.1 177.4,397.1 175.3,397.1 173.3,397.1 171.3,397.1 169.3,397.1 167.3,397.1 165.2,397.1 163.2,397.1 161.2,397.1 159.2,397.2 157.2,397.2 155.1,397.2 153.1,397.2 151.1,397.2 149.1,397.2 147.1,397.2 145.0,397.3 143.0,397.3 141.0,397.3 139.0,397.3 136.9,397.4 134.9,397.4 132.9,397.4 130.9,397.4 128.9,397.4 126.8,397.5 124.8,397.5 122.8,397.5 120.8,397.5 118.8,397.5 116.7,397.5 114.7,397.5 112.7,397.5 110.7,397.5 108.7,397.5 106.6,397.5 104.6,397.5 102.6,397.5 100.6,397.5 98.6,397.5 96.5,397.5 94.5,397.5 92.5,397.5 90.5,397.5 88.5,397.5 86.4,397.5 84.4,397.5 82.4,397.5 80.4,397.5 78.4,397.4 76.3,397.4 74.3,397.4 72.3,397.4 70.3,397.4 68.3,397.4 66.2,397.4 64.2,397.4 62.2,397.4 60.2,397.3 58.2,397.3 56.1,397.3 54.1,397.3 52.1,397.3 50.1,397.3 48.1,397.2 46.0,397.2 44.0,397.2 42.0,397.2Z" fill="#2d0068"/>
<path d="M32.0,368.0L57.0,292.2M32.0,292.2L57.0,368.0M56.0,368.0L81.0,292.2M56.0,292.2L81.0,368.0M80.0,368.0L105.0,292.2M80.0,292.2L105.0,368.0M104.0,368.0L129.0,292.2M104.0,292.2L129.0,368.0M128.0,368.0L153.0,292.2M128.0,292.2L153.0,368.0M152.0,368.0L177.0,292.2M152.0,292.2L177.0,368.0M176.0,368.0L201.0,292.2M176.0,292.2L201.0,368.0M200.0,368.0L225.0,292.2M200.0,292.2L225.0,368.0M224.0,368.0L249.0,292.2M224.0,292.2L249.0,368.0" fill="none" stroke="#f0e8c8" stroke-width="0.6"/>
<path d="M90.2,432.2C94.5,426.6 98.9,421.5 103.2,417.2C107.2,413.1 111.2,406.3 115.2,406.3C119.2,406.3 123.2,413.1 127.2,417.2C131.5,421.5 135.9,426.6 140.2,432.2M97.2,432.2C100.5,426.8 103.9,422.2 107.2,418.8C109.9,416.1 112.5,412.2 115.2,412.2C117.9,412.2 120.5,416.1 123.2,418.8C126.5,422.2 129.9,426.8 133.2,432.2M132.5,432.2C136.8,426.6 141.2,421.5 145.5,417.2C149.5,413.1 153.5,406.3 157.5,406.3C161.5,406.3 165.5,413.1 169.5,417.2C173.8,421.5 178.2,426.6 182.5,432.2M139.5,432.2C142.8,426.8 146.2,422.2 149.5,418.8C152.2,416.1 154.8,412.2 157.5,412.2C160.2,412.2 162.8,416.1 165.5,418.8C168.8,422.2 172.2,426.8 175.5,432.2M44.0,337.2C50.0,351.6 56.0,358.8 62.0,358.8C68.0,358.8 74.0,351.6 80.0,337.2M84.0,337.2C90.0,351.6 96.0,358.8 102.0,358.8C108.0,358.8 114.0,351.6 120.0,337.2M119.0,337.2C125.0,351.6 131.0,358.8 137.0,358.8C143.0,358.8 149.0,351.6 155.0,337.2M164.0,337.2C170.0,351.6 176.0,358.8 182.0,358.8C188.0,358.8 194.0,351.6 200.0,337.2M199.0,337.2C205.0,351.6 211.0,358.8 217.0,358.8C223.0,358.8 229.0,351.6 235.0,337.2" fill="none" stroke="#ece4bc" stroke-width="0.7"/>
<path d="M42.0,397.3C50.3,397.5 58.7,397.8 67.0,398.0C75.3,398.3 83.7,399.1 92.0,399.1C100.3,399.1 108.7,398.4 117.0,398.4C125.3,398.4 133.7,398.4 142.0,398.4C150.3,398.4 158.7,398.3 167.0,398.2C175.3,398.2 183.7,397.6 192.0,397.6C200.3,397.6 208.7,398.8 217.0,398.8C225.3,398.8 233.7,398.2 242.0,397.3M42.0,400.3C50.3,400.3 58.7,400.2 67.0,400.0C75.3,399.9 83.7,399.5 92.0,399.5C100.3,399.5 108.7,399.6 117.0,399.7C125.3,399.8 133.7,400.4 142.0,400.4C150.3,400.4 158.7,398.5 167.0,398.5C175.3,398.5 183.7,399.1 192.0,399.3C200.3,399.6 208.7,400.1 217.0,400.1C225.3,400.1 233.7,399.8 242.0,399.3M42.0,401.5C50.3,401.3 58.7,401.3 67.0,401.3C75.3,401.3 83.7,402.8 92.0,402.8C100.3,402.8 108.7,401.6 117.0,401.6C125.3,401.6 133.7,402.8 142.0,402.8C150.3,402.8 158.7,400.6 167.0,400.6C175.3,400.6 183.7,400.9 192.0,400.9C200.3,400.9 208.7,400.0 217.0,400.0C225.3,400.0 233.7,400.5 242.0,401.3M42.0,403.7C50.3,403.9 58.7,404.1 67.0,404.1C75.3,404.1 83.7,404.0 92.0,403.8C100.3,403.6 108.7,402.4 117.0,402.4C125.3,402.4 133.7,402.9 142.0,402.9C150.3,402.9 158.7,402.0 167.0,402.0C175.3,402.0 183.7,403.2 192.0,403.2C200.3,403.2 208.7,402.9 217.0,402.8C225.3,402.6 233.7,402.5 242.0,402.5M42.0,329.3C44.7,329.3 47.3,328.7 50.0,328.0C53.3,327.1 56.7,322.8 60.0,318.8C64.5,313.5 69.0,305.4 73.5,295.5C74.3,293.7 75.2,291.2 76.0,288.8M42.0,333.3C45.3,333.3 48.7,332.4 52.0,331.3C56.0,330.0 60.0,324.6 64.0,320.5C67.3,317.1 70.7,313.0 74.0,308.8C77.3,304.7 80.7,301.3 84.0,295.5C85.0,293.8 86.0,291.3 87.0,288.8M42.0,350.3C44.7,350.3 47.3,349.6 50.0,348.8C54.0,347.6 58.0,341.6 62.0,337.2C67.0,331.6 72.0,324.2 77.0,317.2C81.8,310.4 86.7,305.4 91.5,295.5C92.3,293.8 93.2,291.2 94.0,288.8M45.0,368.5C46.0,368.2 47.0,367.8 48.0,367.2C55.4,362.8 62.9,347.8 70.3,337.2C79.3,324.2 88.4,316.6 97.5,295.5C98.5,293.2 99.5,289.0 100.5,285.5M53.0,368.5C54.0,368.2 55.0,367.8 56.0,367.2C62.9,363.0 69.8,347.8 76.7,337.2C85.1,324.2 93.6,315.9 102.0,295.5C103.0,293.1 104.0,289.0 105.0,285.5M61.0,368.5C62.0,368.2 63.0,367.8 64.0,367.2C70.2,363.4 76.3,347.8 82.5,337.2C90.0,324.2 97.5,314.8 105.0,295.5C106.0,292.9 107.0,289.0 108.0,285.5M69.0,368.5C70.0,368.3 71.0,367.8 72.0,367.2C77.4,363.8 82.8,347.8 88.2,337.2C94.8,324.2 101.4,313.5 108.0,295.5C109.0,292.8 110.0,289.0 111.0,285.5M77.0,368.5C78.0,368.4 79.0,367.8 80.0,367.2C84.5,364.2 89.0,347.8 93.5,337.2C99.0,324.2 104.5,311.8 110.0,295.5C111.0,292.5 112.0,289.0 113.0,285.5M85.0,368.5C86.0,368.5 87.0,367.8 88.0,367.2C91.7,364.7 95.3,347.8 99.0,337.2C103.5,324.2 108.0,310.0 112.5,295.5C113.5,292.3 114.5,288.9 115.5,285.5M42.0,363.8C45.3,363.8 48.7,363.1 52.0,362.2C57.0,360.8 62.0,351.6 67.0,345.5C72.0,339.4 77.0,332.2 82.0,325.5C87.0,318.8 92.0,312.4 97.0,305.5C99.3,302.3 101.7,298.9 104.0,295.5M104.0,304.7C106.0,308.8 108.0,312.2 110.0,312.2C111.7,312.2 113.5,311.2 115.2,310.5C117.1,309.7 119.1,307.2 121.0,307.2C123.0,307.2 125.0,311.3 127.0,311.3C129.3,311.3 131.7,309.2 134.0,308.0C136.7,306.7 139.3,305.3 142.0,303.8M104.0,301.3C106.0,305.5 108.0,308.8 110.0,308.8C111.7,308.8 113.5,307.9 115.2,307.2C117.1,306.4 119.1,303.8 121.0,303.8C123.0,303.8 125.0,308.0 127.0,308.0C129.3,308.0 131.7,305.8 134.0,304.7C136.7,303.3 139.3,302.0 142.0,300.5M104.0,298.0C106.0,302.2 108.0,305.5 110.0,305.5C111.7,305.5 113.5,304.5 115.2,303.8C117.1,303.0 119.1,300.5 121.0,300.5C123.0,300.5 125.0,304.7 127.0,304.7C129.3,304.7 131.7,302.5 134.0,301.3C136.7,300.0 139.3,298.6 142.0,297.2M104.0,293.8C106.0,298.0 108.0,301.3 110.0,301.3C111.7,301.3 113.5,300.4 115.2,299.7C117.1,298.9 119.1,296.3 121.0,296.3C123.0,296.3 125.0,300.5 127.0,300.5C129.3,300.5 131.7,298.3 134.0,297.2C136.7,295.8 139.3,294.5 142.0,293.0M104.0,290.5C106.0,294.7 108.0,298.0 110.0,298.0C111.7,298.0 113.5,297.0 115.2,296.3C117.1,295.5 119.1,293.0 121.0,293.0C123.0,293.0 125.0,297.2 127.0,297.2C129.3,297.2 131.7,295.0 134.0,293.8C136.7,292.5 139.3,291.1 142.0,289.7M108.0,330.5C110.4,329.9 112.8,329.7 115.2,329.7C119.1,329.7 123.1,330.9 127.0,332.2C132.0,333.7 137.0,338.0 142.0,342.2C145.3,345.0 148.7,349.2 152.0,353.0C153.8,355.1 155.7,357.4 157.5,359.7M104.0,337.2C107.7,337.2 111.5,337.3 115.2,337.5C119.1,337.7 123.1,341.1 127.0,343.8C131.3,346.9 135.7,352.9 140.0,357.2C142.0,359.2 144.0,361.1 146.0,363.0M128.0,288.8C129.3,290.7 130.7,292.9 132.0,295.5C135.3,302.0 138.7,312.2 142.0,320.5C145.3,328.8 148.7,337.0 152.0,345.5C153.8,350.2 155.7,359.7 157.5,359.7C159.0,359.7 160.5,353.8 162.0,350.5C164.7,344.6 167.3,338.0 170.0,330.5C173.6,320.5 177.1,306.3 180.7,295.5C181.5,293.2 182.2,291.0 183.0,288.8M142.0,367.2C144.7,365.1 147.3,363.3 150.0,362.2C152.5,361.1 155.0,359.7 157.5,359.7C159.7,359.7 161.8,361.7 164.0,363.0C166.0,364.2 168.0,365.6 170.0,367.2M115.2,312.2C116.8,312.2 118.4,309.7 120.0,307.2C121.4,305.1 122.7,299.6 124.0,295.5C125.3,291.3 126.7,286.9 128.0,282.2M115.2,316.3C117.4,316.3 119.5,313.2 121.7,310.1C123.5,307.5 125.2,300.9 127.0,295.5C128.3,291.5 129.7,286.9 131.0,282.2M115.2,320.5C117.9,320.5 120.6,316.8 123.3,313.0C125.6,309.9 127.8,302.1 130.0,295.5C131.3,291.5 132.7,287.0 134.0,282.2M115.2,324.7C118.5,324.7 121.7,320.3 125.0,315.9C127.7,312.3 130.3,303.3 133.0,295.5C134.3,291.6 135.7,287.0 137.0,282.2M160.0,340.0C163.3,337.0 166.7,331.4 170.0,325.0C172.7,319.9 175.3,307.0 178.0,304.2C180.0,302.0 182.0,300.0 184.0,300.0C186.0,300.0 188.0,302.9 190.0,305.0C193.3,308.5 196.7,318.9 200.0,320.0C209.0,322.9 218.0,323.5 227.0,324.2C232.0,324.6 237.0,324.9 242.0,325.0M161.2,351.2C164.3,348.1 167.5,342.5 170.6,336.2C173.1,331.2 175.5,318.8 178.0,316.2C180.0,314.0 182.0,312.0 184.0,312.0C186.0,312.0 188.0,314.9 190.0,317.0C193.2,320.4 196.4,331.0 199.6,332.0C208.7,334.9 217.9,335.5 227.0,336.2C232.0,336.6 237.0,336.9 242.0,337.0M162.4,359.3C165.3,356.2 168.3,350.6 171.2,344.3C173.5,339.5 175.7,327.7 178.0,325.2C180.0,323.0 182.0,321.0 184.0,321.0C186.0,321.0 188.0,323.8 190.0,326.0C193.1,329.3 196.1,340.0 199.2,341.0C208.5,344.0 217.7,344.4 227.0,345.2C232.0,345.6 237.0,345.9 242.0,346.0M163.6,365.8C166.3,362.6 169.1,357.1 171.8,350.8C173.9,346.1 175.9,334.8 178.0,332.5C180.0,330.3 182.0,328.3 184.0,328.3C186.0,328.3 188.0,331.1 190.0,333.3C192.9,336.5 195.9,347.4 198.8,348.3C208.2,351.3 217.6,351.8 227.0,352.5C232.0,352.9 237.0,353.2 242.0,353.3M164.8,371.0C167.3,367.7 169.9,362.2 172.4,356.0C174.3,351.4 176.1,340.6 178.0,338.5C180.0,336.2 182.0,334.3 184.0,334.3C186.0,334.3 188.0,337.1 190.0,339.3C192.8,342.5 195.6,353.4 198.4,354.3C207.9,357.4 217.5,357.8 227.0,358.5C232.0,358.9 237.0,359.2 242.0,359.3M166.0,376.2C168.3,372.8 170.7,367.3 173.0,361.2C174.7,356.8 176.3,346.5 178.0,344.5C180.0,342.2 182.0,340.3 184.0,340.3C186.0,340.3 188.0,343.1 190.0,345.3C192.7,348.4 195.3,359.5 198.0,360.3C207.7,363.4 217.3,363.8 227.0,364.5C232.0,364.9 237.0,365.2 242.0,365.3M167.2,381.3C169.3,377.9 171.5,372.5 173.6,366.3C175.1,362.1 176.5,352.3 178.0,350.5C180.0,348.1 182.0,346.3 184.0,346.3C186.0,346.3 188.0,349.0 190.0,351.3C192.5,354.3 195.1,365.5 197.6,366.3C207.4,369.5 217.2,369.8 227.0,370.5C232.0,370.9 237.0,371.2 242.0,371.3M168.4,386.5C170.3,383.1 172.3,377.6 174.2,371.5C175.5,367.5 176.7,358.1 178.0,356.5C180.0,354.0 182.0,352.3 184.0,352.3C186.0,352.3 188.0,355.0 190.0,357.3C192.4,360.2 194.8,371.6 197.2,372.3C207.1,375.5 217.1,375.7 227.0,376.5C232.0,376.9 237.0,377.2 242.0,377.3M189.0,288.8C190.0,291.2 191.0,294.1 192.0,295.5C200.3,307.2 208.7,311.0 217.0,317.2C222.0,320.9 227.0,325.9 232.0,327.2C235.3,328.0 238.7,328.8 242.0,328.8M199.0,288.8C200.0,291.2 201.0,293.8 202.0,295.5C208.7,306.8 215.3,312.3 222.0,319.7C226.0,324.1 230.0,330.8 234.0,332.2C236.7,333.1 239.3,333.8 242.0,333.8M211.0,288.8C212.0,291.1 213.0,293.3 214.0,295.5C218.7,305.8 223.3,315.9 228.0,326.3C230.8,332.6 233.6,344.1 236.4,345.5C238.3,346.4 240.1,347.2 242.0,347.2M42.0,403.8C52.0,403.7 62.0,403.6 72.0,403.5C86.4,403.3 100.8,403.2 115.2,403.0M42.0,410.5C44.6,410.5 47.1,410.2 49.7,409.7C51.9,409.4 54.2,407.9 56.4,406.8C58.0,406.0 59.6,404.2 61.2,404.2C79.2,404.2 97.2,404.2 115.2,404.7M42.0,416.3C45.3,416.3 48.5,415.7 51.8,414.9C54.6,414.2 57.5,411.5 60.3,409.5C62.3,408.0 64.4,404.5 66.4,404.5C82.7,404.5 98.9,404.5 115.2,405.5M42.0,423.3C45.9,423.3 49.9,422.3 53.8,421.1C57.3,420.0 60.7,415.8 64.2,412.6C66.7,410.3 69.1,404.8 71.6,404.8C86.1,404.8 100.7,404.8 115.2,406.3M42.0,434.0C46.6,434.0 51.3,432.4 55.9,430.5C60.0,428.9 64.0,422.3 68.1,417.3C71.0,413.7 73.9,405.2 76.8,405.2C89.6,405.2 102.4,405.2 115.2,407.2M42.0,445.5C47.3,445.5 52.7,443.3 58.0,440.7C62.7,438.4 67.3,429.2 72.0,422.3C75.3,417.4 78.7,405.5 82.0,405.5C93.1,405.5 104.1,405.5 115.2,408.0M42.0,454.5C48.0,454.5 54.1,451.9 60.1,448.7C65.4,445.8 70.6,434.7 75.9,426.3C79.7,420.3 83.4,405.8 87.2,405.8C96.5,405.8 105.9,405.8 115.2,408.8M42.0,463.3C48.7,463.3 55.4,460.2 62.2,456.5C68.0,453.2 73.9,440.1 79.8,430.2C84.0,423.1 88.2,406.2 92.4,406.2C100.0,406.2 107.6,406.2 115.2,409.7M42.0,469.2C49.4,469.2 56.8,465.8 64.2,461.6C70.7,458.0 77.2,443.7 83.7,432.8C88.3,425.1 93.0,406.5 97.6,406.5C103.5,406.5 109.3,406.5 115.2,410.5M42.0,474.0C50.1,474.0 58.2,470.4 66.3,465.9C73.4,462.1 80.5,446.7 87.6,435.0C92.7,426.7 97.7,406.8 102.8,406.8C106.9,406.8 111.1,406.8 115.2,411.3M42.0,477.8C50.8,477.8 59.6,474.0 68.4,469.4C76.1,465.3 83.8,449.1 91.5,436.8C97.0,428.1 102.5,407.2 108.0,407.2C110.4,407.2 112.8,408.7 115.2,412.2M42.0,485.7C51.5,485.7 61.0,481.4 70.5,476.3C78.8,471.8 87.1,453.9 95.4,440.3C101.3,430.7 107.3,407.5 113.2,407.5C113.9,407.5 114.5,410.9 115.2,413.0M157.5,403.0C181.7,403.0 205.8,403.1 230.0,403.8C231.2,403.9 232.4,404.4 233.6,404.6C235.0,404.9 236.4,405.3 237.8,405.4C239.2,405.6 240.6,405.7 242.0,405.7M157.5,403.2C180.2,403.2 203.0,403.3 225.7,404.1C227.3,404.1 229.0,405.7 230.6,406.4C232.5,407.3 234.4,408.6 236.3,409.0C238.2,409.4 240.1,409.7 242.0,409.7M157.5,403.3C178.8,403.3 200.1,403.5 221.4,404.3C223.5,404.4 225.5,406.9 227.6,408.2C230.0,409.6 232.4,411.8 234.8,412.4C237.2,413.0 239.6,413.5 242.0,413.5M157.5,403.5C177.4,403.5 197.2,403.6 217.1,404.6C219.6,404.7 222.1,408.2 224.6,409.9C227.5,412.0 230.4,415.0 233.3,415.8C236.2,416.6 239.1,417.3 242.0,417.3M157.5,403.7C175.9,403.7 194.4,403.8 212.8,404.8C215.7,405.0 218.6,410.1 221.6,412.6C225.0,415.5 228.4,419.9 231.8,421.1C235.2,422.3 238.6,423.3 242.0,423.3M157.5,403.8C174.5,403.8 191.5,404.1 208.5,405.1C211.8,405.3 215.2,411.6 218.6,414.8C222.5,418.4 226.4,423.9 230.3,425.4C234.2,426.9 238.1,428.2 242.0,428.2M157.5,404.0C173.1,404.0 188.6,404.3 204.2,405.3C208.0,405.6 211.8,413.8 215.5,417.8C219.9,422.5 224.4,429.6 228.8,431.4C233.2,433.3 237.6,435.0 242.0,435.0M157.5,404.2C171.6,404.2 185.8,404.5 199.9,405.6C204.1,405.9 208.3,416.7 212.5,422.0C217.4,428.2 222.4,437.5 227.3,440.0C232.2,442.5 237.1,444.7 242.0,444.7M157.5,404.3C170.2,404.3 182.9,404.7 195.6,405.8C200.2,406.2 204.9,419.1 209.5,425.4C214.9,432.8 220.3,443.9 225.8,446.9C231.2,449.9 236.6,452.5 242.0,452.5M157.5,404.5C168.8,404.5 180.0,404.9 191.3,406.1C196.4,406.6 201.4,421.5 206.5,428.9C212.4,437.5 218.3,450.4 224.3,453.8C230.2,457.3 236.1,460.3 242.0,460.3M157.5,404.7C167.3,404.7 177.2,405.2 187.0,406.3C192.5,407.0 198.0,423.3 203.5,431.5C209.9,440.9 216.3,455.2 222.8,459.0C229.2,462.8 235.6,466.2 242.0,466.2M157.5,404.8C165.9,404.8 174.3,405.4 182.7,406.6C188.6,407.4 194.6,425.2 200.5,434.1C207.4,444.5 214.3,460.1 221.2,464.3C228.2,468.5 235.1,472.2 242.0,472.2M157.5,405.0C164.5,405.0 171.4,405.7 178.4,406.8C184.8,407.9 191.1,427.0 197.5,436.7C204.9,447.9 212.3,464.8 219.7,469.3C227.2,473.8 234.6,477.8 242.0,477.8M157.5,405.2C163.0,405.2 168.6,405.9 174.1,407.1C180.9,408.5 187.7,429.7 194.5,440.5C202.4,453.1 210.3,472.1 218.2,477.1C226.2,482.2 234.1,486.7 242.0,486.7M42.0,403.8C43.7,403.8 45.3,404.2 47.0,404.7C52.0,405.9 57.0,412.5 62.0,417.2C68.7,423.4 75.3,432.6 82.0,438.8C88.7,445.1 95.3,451.7 102.0,455.5C106.4,458.0 110.8,458.7 115.2,461.3C117.5,462.7 119.7,464.7 122.0,467.2C127.2,472.9 132.4,482.1 137.6,493.8C138.4,495.6 139.2,498.2 140.0,500.5M50.0,403.8C51.3,404.4 52.7,405.6 54.0,407.2C58.3,412.1 62.7,427.2 67.0,438.8C73.0,454.8 78.9,471.8 84.9,492.5C85.6,494.9 86.3,497.8 87.0,500.5M180.0,502.2C181.0,499.2 182.0,496.0 183.0,493.5C189.3,477.5 195.7,465.3 202.0,453.8C208.7,441.8 215.3,432.1 222.0,422.2C225.9,416.3 229.8,408.5 233.7,405.5C235.1,404.4 236.6,403.4 238.0,403.0C239.3,402.6 240.7,402.2 242.0,402.2M192.0,502.2C192.9,499.1 193.7,495.9 194.6,493.5C200.4,477.4 206.2,467.1 212.0,455.5C218.7,442.2 225.3,430.8 232.0,418.8C234.7,414.0 237.3,406.3 240.0,404.7C240.7,404.3 241.3,403.9 242.0,403.8" fill="none" stroke="#33107a" stroke-width="1.25"/>
<path d="M47.0,382.2H67.0M112.0,382.2H137.0M72.0,386.7H82.0M92.0,386.7H112.0M127.0,386.7H152.0M62.0,393.8H77.0M97.0,393.8H117.0M132.0,393.8H177.0M192.0,378.8H217.0M207.0,388.8H232.0M162.0,378.0H182.0M222.0,384.7H242.0M182.0,391.3H202.0" stroke="#c8b8dc" stroke-width="0.9" fill="none"/></g></g>
<clipPath id="dclipc"><rect x="246.8" y="295.5" width="78.0" height="200.0"/></clipPath><g clip-path="url(#dclipc)"><polyline points="276.2,295.8 276.1,296.4 276.0,297.0 276.3,297.6 275.9,298.2 277.4,298.8 276.1,299.4 276.9,300.0 276.6,300.6 276.9,301.2 277.2,301.8 276.6,302.4 270.0,303.0 276.0,303.6 275.7,304.2 276.2,304.8 275.9,305.4 276.3,306.0 276.8,306.6 276.4,307.2 276.7,307.8 267.7,308.4 276.4,309.0 276.3,309.6 259.9,310.2 267.0,310.8 276.7,311.4 276.9,312.0 269.3,312.6 276.4,313.2 277.5,313.8 277.6,314.4 272.6,315.0 247.9,315.6 266.9,316.2 278.0,316.8 277.0,317.4 276.8,318.0 276.8,318.6 276.6,319.2 269.0,319.8 275.9,320.4 275.4,321.0 276.6,321.6 276.3,322.2 262.9,322.8 274.4,323.4 268.4,324.0 275.9,324.6 275.6,325.2 275.0,325.8 274.6,326.4 274.2,327.0 274.5,327.6 268.5,328.2 260.9,328.8 266.0,329.4 275.8,330.0 275.4,330.6 274.6,331.2 275.5,331.8 267.6,332.4 275.6,333.0 266.1,333.6 247.9,334.2 266.9,334.8 272.9,335.4 280.1,336.0 280.3,336.6 280.5,337.2 281.9,337.8 281.3,338.4 281.6,339.0 282.6,339.6 282.9,340.2 283.2,340.8 283.8,341.4 282.9,342.0 283.6,342.6 284.5,343.2 284.0,343.8 284.2,344.4 284.2,345.0 284.1,345.6 283.7,346.2 284.0,346.8 284.2,347.4 283.5,348.0 283.8,348.6 284.0,349.2 283.3,349.8 284.2,350.4 283.8,351.0 283.5,351.6 283.6,352.2 283.8,352.8 284.1,353.4 284.3,354.0 284.3,354.6 284.4,355.2 284.2,355.8 283.9,356.4 283.9,357.0 283.3,357.6 283.9,358.2 283.2,358.8 283.2,359.4 282.3,360.0 282.6,360.6 282.4,361.2 282.2,361.8 274.6,362.4 281.7,363.0 270.0,363.6 278.8,364.2 278.4,364.8 276.0,365.4 276.8,366.0 276.1,366.6 276.4,367.2 275.7,367.8 277.2,368.4 274.9,369.0 275.3,369.6 266.4,370.2 274.9,370.8 269.5,371.4 276.3,372.0 275.5,372.6 275.9,373.2 275.5,373.8 274.9,374.4 274.1,375.0 276.0,375.6 275.6,376.2 274.7,376.8 269.5,377.4 274.5,378.0 270.6,378.6 274.0,379.2 273.8,379.8 274.4,380.4 269.6,381.0 265.9,381.6 273.7,382.2 273.2,382.8 272.7,383.4 267.3,384.0 273.2,384.6 273.1,385.2 272.6,385.8 268.0,386.4 272.9,387.0 271.8,387.6 272.2,388.2 272.9,388.8 271.8,389.4 265.0,390.0 265.7,390.6 268.8,391.2 247.9,391.8 266.9,392.4 272.2,393.0 272.5,393.6 268.1,394.2 273.2,394.8 255.9,395.4 270.9,396.0 264.0,396.6 274.0,397.2 273.7,397.8 273.8,398.4 266.2,399.0 259.9,399.6 265.1,400.2 274.9,400.8 276.1,401.4 275.1,402.0 275.1,402.6 274.7,403.2 253.9,403.8 269.9,404.4 271.8,405.0 274.8,405.6 274.5,406.2 276.5,406.8 275.4,407.4 277.3,408.0 276.8,408.6 269.6,409.2 278.0,409.8 277.4,410.4 277.2,411.0 277.5,411.6 277.7,412.2 277.7,412.8 277.5,413.4 277.6,414.0 275.4,414.6 278.5,415.2 270.6,415.8 279.8,416.4 272.7,417.0 277.9,417.6 279.6,418.2 280.3,418.8 279.5,419.4 278.6,420.0 272.6,420.6 279.1,421.2 279.6,421.8 280.2,422.4 279.4,423.0 280.4,423.6 280.2,424.2 280.1,424.8 280.8,425.4 272.6,426.0 247.9,426.6 266.9,427.2 279.8,427.8 281.4,428.4 280.5,429.0 280.5,429.6 274.3,430.2 281.4,430.8 281.4,431.4 276.2,432.0 279.8,432.6 280.7,433.2 281.2,433.8 276.5,434.4 272.2,435.0 280.6,435.6 274.3,436.2 280.3,436.8 278.2,437.4 263.9,438.0 274.9,438.6 280.0,439.2 279.7,439.8 275.7,440.4 280.5,441.0 280.6,441.6 279.1,442.2 275.1,442.8 280.3,443.4 279.0,444.0 280.5,444.6 278.7,445.2 274.6,445.8 275.5,446.4 279.5,447.0 279.4,447.6 274.3,448.2 252.9,448.8 269.4,449.4 280.4,450.0 280.0,450.6 276.7,451.2 279.7,451.8 279.8,452.4 275.0,453.0 279.2,453.6 266.9,454.2 275.9,454.8 269.9,455.4 275.4,456.0 279.3,456.6 279.5,457.2 278.5,457.8 280.0,458.4 279.3,459.0 277.2,459.6 279.5,460.2 279.3,460.8 273.9,461.4 274.9,462.0 279.6,462.6 279.2,463.2 279.2,463.8 279.7,464.4 275.3,465.0 281.2,465.6 279.4,466.2 279.6,466.8 279.5,467.4 279.4,468.0 280.2,468.6 280.3,469.2 276.9,469.8 281.4,470.4 279.5,471.0 279.9,471.6 280.9,472.2 280.6,472.8 279.5,473.4 280.4,474.0 279.6,474.6 279.7,475.2 279.8,475.8 279.9,476.4 280.0,477.0 276.9,477.6 279.9,478.2 279.6,478.8 281.0,479.4 279.1,480.0 278.7,480.6 280.7,481.2 279.5,481.8 280.0,482.4 280.0,483.0 280.3,483.6 280.8,484.2 279.8,484.8 280.1,485.4 280.7,486.0 282.2,486.6 282.9,487.2 278.9,487.8 282.4,488.4 284.8,489.0 285.8,489.6 284.8,490.2 284.5,490.8 285.7,491.4 285.4,492.0 285.4,492.6 285.8,493.2 285.6,493.8 285.9,494.4 285.9,495.0" fill="none" stroke="#e00000" stroke-width="1.7" stroke-linejoin="round"/>
<polyline points="294.6,295.8 293.5,296.4 294.7,297.0 295.8,297.6 294.0,298.2 294.9,298.8 294.1,299.4 295.2,300.0 294.1,300.6 294.1,301.2 295.3,301.8 295.1,302.4 294.3,303.0 293.4,303.6 293.5,304.2 300.7,304.8 294.7,305.4 299.1,306.0 298.8,306.6 294.6,307.2 302.4,307.8 294.3,308.4 294.2,309.0 297.1,309.6 317.9,310.2 301.9,310.8 301.7,311.4 294.5,312.0 294.4,312.6 293.3,313.2 297.9,313.8 293.6,314.4 293.9,315.0 293.8,315.6 292.9,316.2 294.4,316.8 295.1,317.4 294.3,318.0 293.2,318.6 300.4,319.2 296.9,319.8 294.0,320.4 294.2,321.0 293.5,321.6 305.9,322.2 295.9,322.8 295.5,323.4 294.0,324.0 295.2,324.6 312.4,325.2 299.1,325.8 300.9,326.4 292.7,327.0 293.8,327.6 293.8,328.2 296.7,328.8 293.3,329.4 293.4,330.0 295.4,330.6 301.0,331.2 293.8,331.8 292.8,332.4 293.2,333.0 293.8,333.6 293.1,334.2 292.9,334.8 293.5,335.4 292.8,336.0 291.9,336.6 292.5,337.2 304.9,337.8 295.4,338.4 289.6,339.0 289.4,339.6 289.0,340.2 288.8,340.8 287.3,341.4 288.1,342.0 287.5,342.6 287.5,343.2 287.2,343.8 288.0,344.4 287.5,345.0 287.8,345.6 291.1,346.2 300.9,346.8 293.4,347.4 287.1,348.0 287.3,348.6 287.1,349.2 287.1,349.8 287.8,350.4 287.4,351.0 287.2,351.6 286.8,352.2 287.7,352.8 287.4,353.4 287.3,354.0 287.2,354.6 287.8,355.2 287.7,355.8 287.4,356.4 287.6,357.0 287.6,357.6 287.9,358.2 288.0,358.8 287.8,359.4 288.1,360.0 288.3,360.6 288.7,361.2 288.6,361.8 292.9,362.4 288.2,363.0 293.6,363.6 290.1,364.2 299.6,364.8 291.6,365.4 300.9,366.0 295.4,366.6 304.9,367.2 295.4,367.8 293.6,368.4 293.2,369.0 299.9,369.6 293.1,370.2 293.2,370.8 292.8,371.4 301.4,372.0 292.0,372.6 292.9,373.2 300.9,373.8 298.1,374.4 301.6,375.0 293.7,375.6 295.1,376.2 292.6,376.8 295.1,377.4 301.2,378.0 294.0,378.6 302.5,379.2 295.1,379.8 299.9,380.4 294.6,381.0 299.6,381.6 295.1,382.2 295.4,382.8 293.7,383.4 294.8,384.0 303.5,384.6 296.1,385.2 295.1,385.8 296.6,386.4 294.9,387.0 294.4,387.6 294.3,388.2 303.6,388.8 295.7,389.4 295.0,390.0 303.8,390.6 299.7,391.2 294.7,391.8 299.2,392.4 323.9,393.0 304.9,393.6 294.0,394.2 295.1,394.8 304.7,395.4 294.3,396.0 294.0,396.6 295.1,397.2 299.2,397.8 298.6,398.4 295.3,399.0 294.1,399.6 293.5,400.2 299.9,400.8 292.5,401.4 293.0,402.0 294.6,402.6 292.4,403.2 300.7,403.8 299.2,404.4 323.9,405.0 304.9,405.6 291.8,406.2 292.8,406.8 293.7,407.4 291.5,408.0 292.1,408.6 291.7,409.2 292.8,409.8 292.7,410.4 300.6,411.0 299.3,411.6 292.9,412.2 291.7,412.8 292.0,413.4 292.0,414.0 292.4,414.6 292.9,415.2 305.9,415.8 295.9,416.4 290.8,417.0 291.7,417.6 292.4,418.2 291.3,418.8 291.3,419.4 300.0,420.0 292.1,420.6 292.2,421.2 291.1,421.8 291.7,422.4 290.2,423.0 298.8,423.6 291.2,424.2 292.4,424.8 299.5,425.4 324.4,426.0 305.4,426.6 292.5,427.2 291.4,427.8 291.8,428.4 292.0,429.0 291.6,429.6 291.6,430.2 291.5,430.8 291.7,431.4 292.4,432.0 292.0,432.6 292.0,433.2 300.6,433.8 292.7,434.4 291.8,435.0 301.9,435.6 293.9,436.2 291.2,436.8 291.7,437.4 291.6,438.0 291.7,438.6 297.4,439.2 291.7,439.8 292.2,440.4 290.9,441.0 290.5,441.6 290.6,442.2 291.8,442.8 291.1,443.4 291.2,444.0 291.7,444.6 293.3,445.2 289.9,445.8 293.4,446.4 291.3,447.0 295.0,447.6 311.9,448.2 298.9,448.8 296.9,449.4 291.0,450.0 290.8,450.6 292.9,451.2 305.9,451.8 296.1,452.4 290.5,453.0 290.0,453.6 290.5,454.2 291.0,454.8 290.2,455.4 290.6,456.0 290.2,456.6 290.3,457.2 290.4,457.8 298.9,458.4 292.4,459.0 291.6,459.6 291.2,460.2 290.5,460.8 291.7,461.4 290.5,462.0 293.3,462.6 291.3,463.2 290.0,463.8 291.3,464.4 290.5,465.0 291.1,465.6 290.1,466.2 296.3,466.8 299.9,467.4 296.6,468.0 294.0,468.6 290.9,469.2 290.2,469.8 291.7,470.4 290.8,471.0 295.3,471.6 291.3,472.2 294.1,472.8 291.1,473.4 290.9,474.0 291.4,474.6 290.1,475.2 297.9,475.8 291.9,476.4 295.0,477.0 291.5,477.6 291.7,478.2 290.3,478.8 290.8,479.4 291.1,480.0 291.4,480.6 290.3,481.2 290.9,481.8 290.5,482.4 291.2,483.0 294.5,483.6 289.8,484.2 289.1,484.8 290.1,485.4 297.9,486.0 291.9,486.6 287.3,487.2 287.3,487.8 287.3,488.4 287.5,489.0 287.7,489.6 287.1,490.2 287.2,490.8 287.4,491.4 287.1,492.0 286.6,492.6 286.7,493.2 286.4,493.8 286.9,494.4 286.5,495.0" fill="none" stroke="#0000f0" stroke-width="1.7" stroke-linejoin="round"/></g>
<g id="bands-d"><clipPath id="clipd"><rect x="387.5" y="295.5" width="200.0" height="200.0"/></clipPath><g clip-path="url(#clipd)"><path d="M387.5,366.8 389.5,366.7 391.5,366.6 393.6,366.6 395.6,366.5 397.6,366.4 399.6,366.3 401.6,366.2 403.7,366.2 405.7,366.1 407.7,366.1 409.7,366.0 411.7,366.0 413.8,365.9 415.8,365.9 417.8,365.8 419.8,365.8 421.8,365.7 423.9,365.7 425.9,365.7 427.9,365.7 429.9,365.6 431.9,365.6 434.0,365.6 436.0,365.6 438.0,365.6 440.0,365.6 442.0,365.5 444.1,365.5 446.1,365.5 448.1,365.5 450.1,365.5 452.1,365.5 454.2,365.5 456.2,365.5 458.2,365.5 460.2,365.5 462.2,365.5 464.3,365.5 466.3,365.6 468.3,365.6 470.3,365.7 472.3,365.7 474.4,365.8 476.4,365.9 478.4,366.0 480.4,366.1 482.4,366.2 484.5,366.3 486.5,366.4 488.5,366.5 490.5,366.6 492.6,366.6 494.6,366.7 496.6,366.8 498.6,366.8 500.6,366.8 502.7,366.8 504.7,366.8 506.7,366.8 508.7,366.8 510.7,366.8 512.8,366.8 514.8,366.8 516.8,366.8 518.8,366.8 520.8,366.8 522.9,366.8 524.9,366.8 526.9,366.8 528.9,366.8 530.9,366.8 533.0,366.8 535.0,366.8 537.0,366.8 539.0,366.8 541.0,366.8 543.1,366.8 545.1,366.8 547.1,366.8 549.1,366.8 551.1,366.8 553.2,366.8 555.2,366.8 557.2,366.8 559.2,366.8 561.2,366.8 563.3,366.8 565.3,366.8 567.3,366.8 569.3,366.8 571.3,366.8 573.4,366.8 575.4,366.8 577.4,366.8 579.4,366.8 581.4,366.8 583.5,366.8 585.5,366.8 587.5,366.8 587.5,397.2 585.5,397.2 583.5,397.2 581.4,397.2 579.4,397.2 577.4,397.2 575.4,397.2 573.4,397.2 571.3,397.2 569.3,397.2 567.3,397.2 565.3,397.2 563.3,397.2 561.2,397.2 559.2,397.2 557.2,397.2 555.2,397.1 553.2,397.1 551.1,397.0 549.1,396.8 547.1,396.6 545.1,396.4 543.1,396.2 541.0,395.9 539.0,395.7 537.0,395.4 535.0,395.0 533.0,394.7 530.9,394.4 528.9,394.1 526.9,393.7 524.9,393.2 522.9,392.6 520.8,391.9 518.8,391.1 516.8,390.2 514.8,389.4 512.8,388.6 510.7,387.8 508.7,387.2 506.7,386.7 504.7,386.4 502.7,386.3 500.6,386.4 498.6,386.6 496.6,386.9 494.6,387.3 492.6,387.7 490.5,388.1 488.5,388.6 486.5,389.0 484.5,389.4 482.4,389.7 480.4,389.9 478.4,390.2 476.4,390.4 474.4,390.6 472.3,390.8 470.3,391.0 468.3,391.2 466.3,391.5 464.3,391.7 462.2,391.9 460.2,392.2 458.2,392.6 456.2,393.0 454.2,393.4 452.1,393.8 450.1,394.2 448.1,394.6 446.1,394.9 444.1,395.1 442.0,395.4 440.0,395.7 438.0,395.9 436.0,396.1 434.0,396.3 431.9,396.5 429.9,396.7 427.9,396.9 425.9,397.0 423.9,397.1 421.8,397.3 419.8,397.4 417.8,397.5 415.8,397.5 413.8,397.6 411.7,397.7 409.7,397.8 407.7,397.9 405.7,398.0 403.7,398.0 401.6,398.1 399.6,398.2 397.6,398.2 395.6,398.3 393.6,398.3 391.5,398.3 389.5,398.3 387.5,398.3ZM417.5,401.3 419.5,402.2 421.6,403.0 423.6,403.8 425.6,404.6 427.7,405.4 429.7,406.2 431.7,407.0 433.8,407.9 435.8,408.7 437.8,409.5 439.9,410.3 441.9,411.1 443.9,411.9 446.0,412.9 448.0,414.0 450.0,415.0 452.1,416.1 454.1,417.0 456.1,417.7 458.2,418.2 460.2,418.5 462.2,418.5 464.3,418.3 466.3,418.1 468.3,417.8 470.4,417.4 472.4,417.0 474.4,416.5 476.5,416.1 478.5,415.6 480.6,415.1 482.6,414.6 484.6,414.2 486.7,413.6 488.7,413.0 490.7,412.3 492.8,411.6 494.8,411.0 496.8,410.3 498.9,409.8 500.9,409.3 502.9,408.8 505.0,408.5 507.0,408.1 509.0,407.8 511.1,407.5 513.1,407.1 515.1,406.8 517.2,406.5 519.2,406.2 521.2,405.9 523.3,405.7 525.3,405.5 527.3,405.3 529.4,405.1 531.4,404.9 533.4,404.8 535.5,404.7 537.5,404.7 537.5,405.8 535.5,406.1 533.4,406.5 531.4,406.8 529.4,407.2 527.3,407.5 525.3,407.9 523.3,408.2 521.2,408.6 519.2,409.0 517.2,409.3 515.1,409.7 513.1,410.1 511.1,410.4 509.0,410.8 507.0,411.3 505.0,411.7 502.9,412.2 500.9,412.7 498.9,413.3 496.8,414.0 494.8,414.7 492.8,415.4 490.7,416.1 488.7,416.8 486.7,417.4 484.6,418.0 482.6,418.5 480.6,418.9 478.5,419.4 476.5,419.9 474.4,420.3 472.4,420.8 470.4,421.2 468.3,421.5 466.3,421.8 464.3,422.0 462.2,422.1 460.2,422.2 458.2,421.9 456.1,421.5 454.1,420.8 452.1,420.0 450.0,419.1 448.0,418.1 446.0,417.1 443.9,416.1 441.9,415.2 439.9,414.3 437.8,413.2 435.8,412.1 433.8,410.9 431.7,409.7 429.7,408.5 427.7,407.3 425.6,406.2 423.6,405.2 421.6,404.3 419.5,403.6 417.5,403.0ZM503.0,399.7 505.1,399.5 507.1,399.3 509.2,399.1 511.2,399.0 513.3,398.8 515.4,398.6 517.4,398.5 519.5,398.4 521.5,398.2 523.6,398.1 525.7,398.1 527.7,398.0 529.8,397.9 531.9,397.9 533.9,397.8 536.0,397.8 538.0,397.7 540.1,397.7 542.2,397.7 544.2,397.6 546.3,397.6 548.3,397.5 550.4,397.5 552.5,397.5 554.5,397.4 556.6,397.4 558.6,397.4 560.7,397.3 562.8,397.3 564.8,397.3 566.9,397.3 569.0,397.3 571.0,397.2 573.1,397.2 575.1,397.2 577.2,397.2 579.3,397.2 581.3,397.2 583.4,397.2 585.4,397.2 587.5,397.2 587.5,397.2 585.4,397.5 583.4,397.9 581.3,398.3 579.3,398.7 577.2,399.0 575.1,399.4 573.1,399.8 571.0,400.1 569.0,400.5 566.9,400.9 564.8,401.2 562.8,401.6 560.7,401.9 558.6,402.3 556.6,402.7 554.5,403.0 552.5,403.4 550.4,403.7 548.3,404.0 546.3,404.4 544.2,404.7 542.2,405.0 540.1,405.4 538.0,405.7 536.0,406.0 533.9,406.4 531.9,406.7 529.8,407.1 527.7,407.5 525.7,407.8 523.6,408.2 521.5,408.5 519.5,408.9 517.4,409.3 515.4,409.6 513.3,410.0 511.2,410.4 509.2,410.8 507.1,411.2 505.1,411.7 503.0,412.2ZM482.5,388.8 484.6,388.2 486.8,387.7 488.9,387.3 491.1,387.0 493.2,386.8 495.4,386.6 497.5,386.5 499.6,386.4 501.8,386.3 503.9,386.3 506.1,386.5 508.2,386.7 510.4,387.0 512.5,387.5 514.6,388.0 516.8,388.6 518.9,389.4 521.1,390.2 523.2,391.0 525.4,392.0 527.5,393.0 527.5,397.2 525.4,396.8 523.2,396.4 521.1,396.1 518.9,395.8 516.8,395.5 514.6,395.3 512.5,395.1 510.4,394.9 508.2,394.8 506.1,394.7 503.9,394.7 501.8,394.7 499.6,394.7 497.5,394.7 495.4,394.7 493.2,394.8 491.1,394.9 488.9,395.0 486.8,395.1 484.6,395.3 482.5,395.5Z" fill="#2d0068"/>
<path d="M392.5,348.8C397.5,359.9 402.5,365.5 407.5,365.5C412.5,365.5 417.5,359.9 422.5,348.8M422.5,348.8C427.5,359.9 432.5,365.5 437.5,365.5C442.5,365.5 447.5,359.9 452.5,348.8M462.5,348.8C467.5,359.9 472.5,365.5 477.5,365.5C482.5,365.5 487.5,359.9 492.5,348.8M512.5,348.8C517.5,359.9 522.5,365.5 527.5,365.5C532.5,365.5 537.5,359.9 542.5,348.8M542.5,348.8C547.5,359.9 552.5,365.5 557.5,365.5C562.5,365.5 567.5,359.9 572.5,348.8" fill="none" stroke="#ece4bc" stroke-width="0.7"/>
<path d="M503.0,283.8C504.0,287.8 505.0,291.8 506.0,295.5C508.8,305.6 511.5,315.6 514.2,323.8C517.0,332.0 519.8,338.2 522.5,345.5C525.0,352.1 527.5,363.8 530.0,365.5C531.3,366.4 532.7,367.2 534.0,367.2M504.3,283.8C505.3,287.8 506.3,291.8 507.3,295.5C510.0,305.5 512.7,315.6 515.4,323.8C518.1,332.0 520.8,338.4 523.5,345.5C526.1,352.3 528.6,363.8 531.2,365.5C532.5,366.4 533.9,367.2 535.2,367.2M505.6,283.8C506.6,287.8 507.6,291.8 508.6,295.5C511.2,305.4 513.9,315.6 516.5,323.8C519.2,332.0 521.9,338.5 524.5,345.5C527.1,352.4 529.8,363.8 532.4,365.5C533.7,366.4 535.1,367.2 536.4,367.2M506.9,283.8C507.9,287.8 508.9,291.7 509.9,295.5C512.5,305.3 515.1,315.6 517.7,323.8C520.3,332.0 522.9,338.7 525.5,345.5C528.2,352.6 530.9,363.7 533.6,365.5C534.9,366.4 536.3,367.2 537.6,367.2M508.2,283.8C509.2,287.8 510.2,291.7 511.2,295.5C513.8,305.2 516.3,315.6 518.9,323.8C521.4,332.0 524.0,338.9 526.5,345.5C529.3,352.7 532.0,363.7 534.8,365.5C536.1,366.4 537.5,367.2 538.8,367.2M509.5,283.8C510.5,287.8 511.5,291.7 512.5,295.5C515.0,305.1 517.5,315.6 520.0,323.8C522.5,332.0 525.0,339.0 527.5,345.5C530.3,352.9 533.2,363.6 536.0,365.5C537.3,366.4 538.7,367.2 540.0,367.2" fill="none" stroke="#2d0068" stroke-width="1.0"/>
<path d="M417.5,397.7C422.5,398.1 427.5,398.1 432.5,398.1C437.5,398.1 442.5,393.8 447.5,393.5C452.5,393.1 457.5,393.2 462.5,392.8C467.5,392.5 472.5,391.6 477.5,391.0C482.5,390.4 487.5,389.6 492.5,389.1C497.5,388.6 502.5,387.9 507.5,387.9C512.5,387.9 517.5,391.7 522.5,392.9C527.5,394.1 532.5,395.1 537.5,395.7M417.5,398.6C422.5,398.2 427.5,397.8 432.5,397.6C437.5,397.4 442.5,397.3 447.5,397.1C452.5,396.9 457.5,396.4 462.5,396.0C467.5,395.6 472.5,395.3 477.5,394.7C482.5,394.1 487.5,392.6 492.5,392.0C497.5,391.5 502.5,390.9 507.5,390.9C512.5,390.9 517.5,393.2 522.5,394.3C527.5,395.3 532.5,396.2 537.5,397.1M417.5,397.7C422.5,399.0 427.5,399.9 432.5,399.9C437.5,399.9 442.5,399.0 447.5,398.8C452.5,398.7 457.5,398.7 462.5,398.5C467.5,398.4 472.5,397.8 477.5,397.1C482.5,396.4 487.5,393.3 492.5,392.8C497.5,392.4 502.5,392.1 507.5,392.1C512.5,392.1 517.5,394.4 522.5,395.2C527.5,395.9 532.5,396.5 537.5,396.8M417.5,398.4C422.5,399.5 427.5,400.4 432.5,400.7C437.5,401.0 442.5,401.2 447.5,401.2C452.5,401.2 457.5,400.6 462.5,400.4C467.5,400.1 472.5,400.1 477.5,399.7C482.5,399.4 487.5,396.3 492.5,395.7C497.5,395.0 502.5,394.5 507.5,394.5C512.5,394.5 517.5,396.9 522.5,397.6C527.5,398.2 532.5,398.9 537.5,399.1M417.5,400.1C422.5,400.6 427.5,401.1 432.5,401.6C437.5,402.1 442.5,402.3 447.5,402.9C452.5,403.5 457.5,405.5 462.5,405.5C467.5,405.5 472.5,403.3 477.5,402.1C482.5,400.9 487.5,399.1 492.5,398.3C497.5,397.6 502.5,396.7 507.5,396.7C512.5,396.7 517.5,397.4 522.5,397.9C527.5,398.4 532.5,399.3 537.5,400.3M417.5,399.0C422.5,399.9 427.5,400.8 432.5,401.8C437.5,402.8 442.5,404.0 447.5,404.8C452.5,405.7 457.5,407.1 462.5,407.1C467.5,407.1 472.5,403.7 477.5,402.9C482.5,402.1 487.5,401.9 492.5,401.1C497.5,400.4 502.5,398.1 507.5,398.1C512.5,398.1 517.5,400.4 522.5,400.6C527.5,400.9 532.5,401.1 537.5,401.1M417.5,399.7C422.5,401.9 427.5,403.8 432.5,404.7C437.5,405.7 442.5,406.2 447.5,406.7C452.5,407.1 457.5,407.6 462.5,407.7C467.5,407.9 472.5,408.1 477.5,408.1C482.5,408.1 487.5,404.9 492.5,403.6C497.5,402.2 502.5,400.0 507.5,400.0C512.5,400.0 517.5,401.4 522.5,401.4C527.5,401.4 532.5,401.4 537.5,400.8M417.5,400.3C422.5,402.3 427.5,404.3 432.5,406.1C437.5,407.9 442.5,410.6 447.5,411.1C452.5,411.6 457.5,412.1 462.5,412.1C467.5,412.1 472.5,409.6 477.5,408.7C482.5,407.8 487.5,407.5 492.5,406.5C497.5,405.4 502.5,401.8 507.5,401.8C512.5,401.8 517.5,403.8 522.5,403.8C527.5,403.8 532.5,403.2 537.5,401.9M417.5,400.9C422.5,402.5 427.5,404.2 432.5,405.9C437.5,407.6 442.5,409.7 447.5,411.2C452.5,412.7 457.5,415.1 462.5,415.1C467.5,415.1 472.5,413.1 477.5,412.1C482.5,411.1 487.5,410.3 492.5,409.1C497.5,407.8 502.5,404.2 507.5,404.2C512.5,404.2 517.5,404.8 522.5,404.8C527.5,404.8 532.5,403.9 537.5,402.8M417.5,402.1C422.5,404.3 427.5,406.3 432.5,407.9C437.5,409.6 442.5,410.8 447.5,412.3C452.5,413.7 457.5,416.9 462.5,416.9C467.5,416.9 472.5,415.6 477.5,414.5C482.5,413.4 487.5,409.8 492.5,409.1C497.5,408.3 502.5,408.3 507.5,407.6C512.5,407.0 517.5,404.6 522.5,404.4C527.5,404.1 532.5,403.9 537.5,403.9M387.5,398.8C392.5,398.8 397.5,398.8 402.5,398.8C407.5,398.8 412.5,399.8 417.5,400.5C421.5,401.1 425.5,402.0 429.5,403.0M387.5,400.8C392.5,400.5 397.5,400.5 402.5,400.5C407.5,400.5 412.5,401.0 417.5,401.5C421.5,401.9 425.5,402.7 429.5,403.5M387.5,402.8C392.5,402.4 397.5,402.2 402.5,402.2C407.5,402.2 412.5,402.3 417.5,402.5C421.5,402.7 425.5,403.3 429.5,404.0M387.5,404.8C392.5,404.4 397.5,404.0 402.5,403.8C407.5,403.7 412.5,403.5 417.5,403.5C421.5,403.5 425.5,404.0 429.5,404.5M387.5,406.8C392.5,406.3 397.5,405.9 402.5,405.5C407.5,405.1 412.5,404.5 417.5,404.5C421.5,404.5 425.5,404.6 429.5,405.0M387.5,408.8C392.5,408.3 397.5,407.7 402.5,407.2C407.5,406.6 412.5,405.5 417.5,405.5C421.5,405.5 425.5,405.5 429.5,405.5M387.5,350.5C388.2,350.5 388.8,350.4 389.5,350.3C393.8,349.8 398.2,340.8 402.5,335.5C407.5,329.4 412.5,322.9 417.5,315.5C421.3,309.8 425.2,304.1 429.0,296.3C429.8,294.7 430.7,292.5 431.5,290.5M387.5,355.5C388.8,358.0 390.2,360.0 391.5,360.0C394.0,360.0 396.5,355.3 399.0,352.2C403.5,346.6 408.0,337.3 412.5,330.5C417.5,322.9 422.5,314.3 427.5,308.8C432.5,303.3 437.5,301.7 442.5,295.5C443.5,294.3 444.5,292.3 445.5,290.5M395.5,366.0C399.2,358.9 402.8,352.0 406.5,345.5C411.8,336.1 417.2,326.5 422.5,318.8C427.5,311.6 432.5,303.3 437.5,299.7C439.5,298.2 441.5,296.3 443.5,296.3C445.5,296.3 447.5,302.3 449.5,305.5C451.5,308.7 453.5,312.9 455.5,315.5C457.2,317.7 459.0,319.7 460.7,321.0M404.5,366.0C408.2,358.9 411.8,352.0 415.5,345.5C420.5,336.7 425.5,326.9 430.5,320.5C434.5,315.4 438.5,308.0 442.5,308.0C444.8,308.0 447.2,309.0 449.5,309.7C453.2,310.7 457.0,312.1 460.7,313.8M413.5,366.0C417.2,358.7 420.8,351.8 424.5,345.5C428.8,338.0 433.2,327.5 437.5,324.7C440.8,322.5 444.2,320.5 447.5,320.5C451.9,320.5 456.3,321.0 460.7,323.8M420.5,366.0C424.3,358.4 428.2,351.5 432.0,345.5C435.8,339.5 439.7,331.4 443.5,329.7C446.5,328.3 449.5,327.2 452.5,327.2C455.2,327.2 458.0,327.2 460.7,328.0M427.5,366.0C431.0,357.7 434.5,350.5 438.0,345.5C441.2,341.0 444.3,335.7 447.5,334.7C451.9,333.2 456.3,332.2 460.7,332.2M442.5,366.0C446.2,355.3 449.8,346.8 453.5,342.2C455.9,339.1 458.3,336.5 460.7,335.5M444.1,366.0C447.6,355.4 451.0,346.9 454.5,341.3C456.6,338.0 458.6,335.3 460.7,333.5M445.7,366.0C449.0,355.6 452.2,347.2 455.5,340.5C457.2,337.0 459.0,334.0 460.7,331.5M447.3,366.0C450.4,356.3 453.4,347.6 456.5,339.7C457.9,336.0 459.3,332.7 460.7,329.5M448.9,366.0C451.8,357.7 454.6,348.5 457.5,338.8C458.6,335.2 459.6,331.4 460.7,327.5M450.5,290.5C451.2,292.2 451.8,293.9 452.5,295.5C454.2,299.5 455.8,304.4 457.5,307.2C458.6,308.9 459.6,310.4 460.7,311.3M453.5,290.5C454.2,292.2 454.8,293.9 455.5,295.5C456.5,297.9 457.5,300.4 458.5,302.2C459.2,303.5 460.0,304.6 460.7,305.5M460.7,305.5C463.2,305.5 465.6,304.2 468.1,303.0C470.6,301.8 473.0,299.2 475.5,295.5C476.8,293.5 478.2,289.5 479.5,285.5M460.7,307.2C463.6,307.2 466.4,305.7 469.2,304.2C472.1,302.8 474.9,299.9 477.8,295.5C479.1,293.5 480.5,289.5 481.8,285.5M460.7,308.8C463.9,308.8 467.2,307.2 470.4,305.5C473.6,303.8 476.9,300.5 480.1,295.5C481.4,293.4 482.8,289.4 484.1,285.5M460.7,310.5C464.3,310.5 467.9,308.6 471.6,306.8C475.2,304.9 478.8,301.2 482.4,295.5C483.7,293.4 485.1,289.4 486.4,285.5M460.7,312.2C464.7,312.2 468.7,310.1 472.7,308.0C476.7,305.9 480.7,301.8 484.7,295.5C486.0,293.4 487.4,289.3 488.7,285.5M460.7,313.8C465.1,313.8 469.5,311.5 473.9,309.2C478.2,307.0 482.6,302.5 487.0,295.5C488.3,293.4 489.7,289.3 491.0,285.5M460.7,315.5C465.5,315.5 470.2,313.0 475.0,310.5C479.8,308.0 484.5,303.1 489.3,295.5C490.6,293.4 492.0,289.3 493.3,285.5M460.7,317.2C465.9,317.2 471.0,314.5 476.1,311.8C481.3,309.0 486.4,303.8 491.6,295.5C492.9,293.4 494.3,289.2 495.6,285.5M460.7,318.8C466.2,318.8 471.8,315.9 477.3,313.0C482.8,310.1 488.4,304.4 493.9,295.5C495.2,293.3 496.6,289.2 497.9,285.5M460.7,320.5C466.6,320.5 472.5,317.4 478.4,314.2C484.4,311.1 490.3,305.1 496.2,295.5C497.5,293.3 498.9,289.2 500.2,285.5M460.7,322.2C467.0,322.2 473.3,318.8 479.6,315.5C485.9,312.2 492.2,305.8 498.5,295.5C499.8,293.3 501.2,289.2 502.5,285.5M460.7,358.7C464.6,358.6 468.6,358.3 472.5,358.0C477.5,357.6 482.5,355.5 487.5,355.5C492.7,355.5 497.8,355.5 503.0,356.3M477.5,336.3C480.2,334.3 482.8,332.3 485.5,331.3C491.3,329.3 497.2,327.3 503.0,327.3C506.8,327.3 510.7,331.0 514.5,333.0C518.8,335.3 523.2,338.2 527.5,340.5C530.8,342.3 534.2,343.9 537.5,345.5M485.5,365.5C488.8,362.0 492.2,358.6 495.5,355.5C498.0,353.2 500.5,348.8 503.0,348.8C505.5,348.8 508.0,353.2 510.5,355.5C513.8,358.6 517.2,362.0 520.5,365.5M487.5,335.5C490.2,339.0 492.8,342.4 495.5,345.5C498.0,348.4 500.5,353.8 503.0,353.8C505.5,353.8 508.0,348.4 510.5,345.5C513.2,342.4 515.8,339.0 518.5,335.5M462.5,333.8C467.5,334.2 472.5,334.8 477.5,335.5C480.8,336.0 484.2,336.7 487.5,337.2C492.7,337.9 497.8,338.5 503.0,338.8M511.3,285.5C512.3,288.9 513.3,292.3 514.3,295.5C517.4,305.6 520.5,316.6 523.6,324.7C526.8,332.8 529.9,342.8 533.0,345.5C542.1,353.2 551.2,356.6 560.2,358.0C569.3,359.4 578.4,360.5 587.5,360.5M516.5,285.5C517.5,289.0 518.5,292.4 519.5,295.5C523.0,306.3 526.5,316.6 530.0,324.7C533.5,332.8 537.0,342.8 540.5,345.5C548.3,351.5 556.2,354.2 564.0,355.5C571.8,356.8 579.7,358.0 587.5,358.0M524.7,285.5C525.7,289.0 526.7,292.5 527.7,295.5C531.3,306.5 535.0,316.6 538.6,324.7C542.2,332.8 545.9,343.0 549.5,345.5C555.8,349.9 562.2,351.8 568.5,353.0C574.8,354.2 581.2,355.5 587.5,355.5M533.7,285.5C534.7,288.9 535.7,292.3 536.7,295.5C539.8,305.6 543.0,316.6 546.1,324.7C549.2,332.8 552.4,343.7 555.5,345.5C560.8,348.6 566.2,349.4 571.5,350.5C576.8,351.6 582.2,352.6 587.5,353.0M544.3,285.5C545.3,288.9 546.3,292.3 547.3,295.5C550.4,305.6 553.5,316.6 556.6,324.7C559.8,332.8 562.9,344.2 566.0,345.5C569.6,347.0 573.2,347.2 576.8,348.0C580.3,348.8 583.9,349.7 587.5,350.5M503.0,350.5C505.2,345.5 507.3,340.5 509.5,335.5C512.2,329.4 514.8,323.1 517.5,317.2C520.9,309.7 524.3,303.2 527.7,295.5C528.6,293.4 529.6,291.1 530.5,288.8M557.5,292.2C562.5,295.8 567.5,298.9 572.5,300.5C577.5,302.1 582.5,303.6 587.5,303.8M387.5,424.2C393.1,424.2 398.7,424.0 404.3,423.7C409.6,423.5 414.9,422.3 420.3,421.5C423.3,421.0 426.4,419.7 429.5,419.7C439.9,419.7 450.3,419.7 460.7,421.3M387.5,428.2C393.4,428.2 399.2,427.8 405.1,427.4C410.7,426.9 416.2,424.9 421.8,423.3C425.0,422.3 428.3,420.0 431.5,420.0C441.2,420.0 451.0,420.0 460.7,421.7M387.5,433.0C393.6,433.0 399.8,432.4 405.9,431.7C411.7,431.1 417.6,427.9 423.4,425.4C426.8,424.0 430.1,420.3 433.5,420.3C442.6,420.3 451.6,420.3 460.7,422.0M387.5,436.0C393.9,436.0 400.3,435.3 406.7,434.5C412.8,433.6 418.9,429.8 424.9,426.8C428.5,425.1 432.0,420.7 435.5,420.7C443.9,420.7 452.3,420.7 460.7,422.3M387.5,443.8C394.2,443.8 400.8,442.8 407.5,441.5C413.8,440.3 420.2,434.6 426.5,430.1C430.2,427.5 433.8,421.0 437.5,421.0C445.2,421.0 453.0,421.0 460.7,422.7M387.5,452.5C394.4,452.5 401.4,451.1 408.3,449.4C414.9,447.7 421.5,439.9 428.1,433.8C431.9,430.3 435.7,421.3 439.5,421.3C446.6,421.3 453.6,421.3 460.7,423.0M387.5,462.2C394.7,462.2 401.9,460.4 409.1,458.1C415.9,455.9 422.8,445.8 429.6,437.9C433.6,433.3 437.5,421.7 441.5,421.7C447.9,421.7 454.3,421.7 460.7,423.3M387.5,467.2C395.0,467.2 402.4,465.2 409.9,462.6C417.0,460.2 424.1,448.9 431.2,440.1C435.3,434.9 439.4,422.0 443.5,422.0C449.2,422.0 455.0,422.0 460.7,423.7M387.5,473.0C395.2,473.0 403.0,470.8 410.7,467.9C418.0,465.2 425.4,452.5 432.7,442.6C437.0,436.8 441.2,422.3 445.5,422.3C450.6,422.3 455.6,422.3 460.7,424.0M387.5,478.8C395.5,478.8 403.5,476.4 411.5,473.2C419.1,470.2 426.7,456.2 434.3,445.1C438.7,438.8 443.1,422.7 447.5,422.7C451.9,422.7 456.3,422.7 460.7,424.3M387.5,484.8C395.8,484.8 404.0,482.1 412.3,478.6C420.2,475.3 428.0,459.9 435.9,447.7C440.4,440.7 445.0,423.0 449.5,423.0C453.2,423.0 457.0,423.0 460.7,424.7M387.5,489.7C396.0,489.7 404.6,486.8 413.1,483.0C421.2,479.5 429.3,462.9 437.4,449.9C442.1,442.3 446.8,423.3 451.5,423.3C454.6,423.3 457.6,423.3 460.7,425.0M503.0,412.2C511.2,412.2 519.3,412.2 527.5,412.2C533.5,412.2 539.5,409.1 545.5,407.7C552.5,406.0 559.5,403.7 566.5,403.2C573.5,402.6 580.5,402.2 587.5,402.2M503.0,412.2C510.9,412.5 518.9,412.5 526.8,412.5C532.9,412.5 538.9,410.8 545.0,410.1C552.1,409.2 559.2,408.0 566.3,407.7C573.3,407.4 580.4,407.2 587.5,407.2M503.0,412.2C510.7,412.6 518.4,412.8 526.1,412.8C532.2,412.8 538.4,412.6 544.5,412.5C551.7,412.4 558.8,412.3 566.0,412.2C573.2,412.2 580.3,412.2 587.5,412.2M503.0,412.2C510.5,412.3 517.9,412.7 525.4,413.2C531.6,413.6 537.8,414.4 544.0,415.0C551.3,415.6 558.5,416.5 565.8,416.8C573.0,417.0 580.3,417.2 587.5,417.2M503.0,412.2C510.2,412.2 517.5,412.8 524.7,413.5C531.0,414.1 537.3,416.2 543.5,417.4C550.9,418.8 558.2,420.8 565.5,421.3C572.8,421.8 580.2,422.2 587.5,422.2M503.0,412.2C510.0,412.2 517.0,412.9 524.0,413.8C530.4,414.6 536.7,418.0 543.0,419.8C550.5,422.0 557.9,425.1 565.3,425.8C572.7,426.6 580.1,427.2 587.5,427.2M503.0,412.2C509.8,412.2 516.5,413.1 523.3,414.2C529.7,415.2 536.1,420.3 542.6,423.0C550.0,426.2 557.5,430.8 565.0,431.9C572.5,432.9 580.0,433.8 587.5,433.8M503.0,412.2C509.5,412.2 516.1,413.2 522.6,414.5C529.1,415.8 535.6,422.6 542.1,426.2C549.6,430.4 557.2,436.5 564.8,437.9C572.4,439.3 579.9,440.5 587.5,440.5M503.0,412.2C509.3,412.2 515.6,413.3 521.9,414.8C528.5,416.4 535.0,424.9 541.6,429.4C549.2,434.6 556.9,442.2 564.5,443.9C572.2,445.7 579.8,447.2 587.5,447.2M503.0,412.2C509.1,412.2 515.1,413.5 521.2,415.2C527.8,417.0 534.5,427.2 541.1,432.6C548.8,438.8 556.6,447.9 564.3,450.0C572.0,452.1 579.8,453.8 587.5,453.8M503.0,412.2C508.8,412.2 514.7,413.7 520.5,415.5C527.2,417.6 533.9,429.5 540.6,435.8C548.4,443.0 556.2,453.5 564.0,456.0C571.9,458.5 579.7,460.5 587.5,460.5M503.0,412.2C508.6,412.2 514.2,413.8 519.8,415.8C526.6,418.3 533.3,431.8 540.1,438.9C548.0,447.2 555.9,459.2 563.8,462.0C571.7,464.8 579.6,467.2 587.5,467.2M503.0,412.2C508.4,412.2 513.7,414.0 519.1,416.2C525.9,418.9 532.8,434.1 539.6,442.1C547.6,451.5 555.6,464.9 563.6,468.1C571.5,471.2 579.5,473.8 587.5,473.8M503.0,412.2C508.1,412.2 513.3,414.2 518.4,416.5C525.3,419.6 532.2,436.4 539.1,445.3C547.2,455.7 555.3,470.6 563.3,474.1C571.4,477.6 579.4,480.5 587.5,480.5M503.0,412.2C507.9,412.2 512.8,414.4 517.7,416.8C524.7,420.4 531.7,438.7 538.6,448.5C546.8,459.9 554.9,476.3 563.1,480.1C571.2,484.0 579.4,487.2 587.5,487.2M387.5,410.5C389.2,410.5 390.8,410.9 392.5,411.3C397.5,412.6 402.5,418.7 407.5,422.2C414.2,426.8 420.8,431.9 427.5,435.5C434.2,439.1 440.8,443.2 447.5,444.7C451.9,445.6 456.3,445.5 460.7,446.7C463.0,447.2 465.2,448.7 467.5,450.5C472.5,454.5 477.5,465.7 482.5,475.5C485.2,480.7 487.8,486.3 490.5,493.8C491.2,495.7 491.8,498.1 492.5,500.5M397.5,398.8C399.2,399.8 400.8,401.6 402.5,403.8C407.5,410.7 412.5,432.1 417.5,445.5C423.6,461.8 429.6,474.1 435.7,492.7C436.3,494.5 436.9,496.7 437.5,498.8M517.5,502.2C518.5,499.3 519.5,496.2 520.5,493.8C527.8,476.2 535.2,463.7 542.5,450.5C549.2,438.5 555.8,424.8 562.5,417.2C567.5,411.5 572.5,406.2 577.5,403.8C580.8,402.3 584.2,400.9 587.5,400.5M529.5,502.2C530.5,499.3 531.5,496.2 532.5,493.8C539.2,478.0 545.8,468.0 552.5,455.5C559.2,443.0 565.8,428.9 572.5,418.8C575.8,413.8 579.2,407.2 582.5,405.5C584.2,404.7 585.8,403.8 587.5,403.8" fill="none" stroke="#33107a" stroke-width="1.25"/>
<path d="M392.5,380.5H407.5M447.5,383.8H467.5M487.5,378.8H517.5M537.5,377.2H557.5M407.5,388.8H427.5M477.5,390.5H497.5M517.5,386.3H537.5M557.5,388.0H582.5M427.5,374.7H442.5M462.5,376.3H477.5M567.5,378.8H587.5M487.5,398.8H517.5M395.5,393.8H412.5M432.5,391.3H452.5" stroke="#d8c8a0" stroke-width="0.9" fill="none"/></g></g>
<clipPath id="dclipd"><rect x="592.3" y="295.5" width="78.0" height="200.0"/></clipPath><g clip-path="url(#dclipd)"><polyline points="622.2,295.8 623.2,296.4 622.1,297.0 620.9,297.6 622.7,298.2 621.7,298.8 622.5,299.4 618.1,300.0 622.4,300.6 622.3,301.2 621.1,301.8 621.2,302.4 622.0,303.0 623.0,303.6 619.4,304.2 621.1,304.8 614.2,305.4 615.0,306.0 614.5,306.6 620.2,307.2 617.3,307.8 620.1,308.4 619.9,309.0 616.7,309.6 618.9,310.2 613.0,310.8 619.3,311.4 618.8,312.0 618.8,312.6 615.8,313.2 618.9,313.8 619.4,314.4 619.0,315.0 619.0,315.6 620.0,316.2 618.2,316.8 617.4,317.4 618.2,318.0 615.7,318.6 615.1,319.2 618.8,319.8 618.4,320.4 618.1,321.0 619.0,321.6 619.1,322.2 618.4,322.8 616.9,323.4 618.7,324.0 618.7,324.6 613.6,325.2 611.4,325.8 619.1,326.4 620.6,327.0 616.0,327.6 619.4,328.2 620.0,328.8 620.2,329.4 614.6,330.0 618.3,330.6 620.2,331.2 620.5,331.8 600.4,332.4 615.9,333.0 622.8,333.6 623.9,334.2 624.4,334.8 623.7,335.4 624.8,336.0 626.0,336.6 627.6,337.2 626.8,337.8 627.5,338.4 627.5,339.0 627.6,339.6 627.8,340.2 627.8,340.8 628.9,341.4 628.5,342.0 629.4,342.6 629.7,343.2 630.2,343.8 630.0,344.4 630.3,345.0 629.9,345.6 630.3,346.2 629.9,346.8 630.1,347.4 630.3,348.0 630.1,348.6 630.2,349.2 630.2,349.8 629.6,350.4 629.8,351.0 630.0,351.6 630.2,352.2 629.4,352.8 629.6,353.4 629.6,354.0 629.7,354.6 629.1,355.2 629.1,355.8 629.4,356.4 629.3,357.0 629.2,357.6 629.1,358.2 629.0,358.8 629.2,359.4 628.7,360.0 628.1,360.6 627.4,361.2 627.2,361.8 621.1,362.4 626.8,363.0 625.5,363.6 624.9,364.2 615.5,364.8 623.7,365.4 624.6,366.0 624.3,366.6 615.4,367.2 623.8,367.8 623.2,368.4 623.6,369.0 618.8,369.6 616.0,370.2 623.4,370.8 623.8,371.4 623.7,372.0 624.5,372.6 614.4,373.2 622.9,373.8 622.1,374.4 622.7,375.0 616.9,375.6 621.2,376.2 623.8,376.8 621.2,377.4 622.0,378.0 613.8,378.6 614.9,379.2 621.2,379.8 616.2,380.4 612.8,381.0 622.4,381.6 621.2,382.2 611.1,382.8 619.1,383.4 621.5,384.0 621.1,384.6 603.4,385.2 617.4,385.8 619.3,386.4 620.8,387.0 621.1,387.6 621.0,388.2 615.0,388.8 619.0,389.4 610.5,390.0 620.4,390.6 617.5,391.2 608.4,391.8 612.2,392.4 618.8,393.0 619.2,393.6 613.6,394.2 618.7,394.8 618.4,395.4 594.4,396.0 612.9,396.6 619.0,397.2 621.0,397.8 620.3,398.4 609.9,399.0 613.8,399.6 616.9,400.2 622.9,400.8 622.2,401.4 617.1,402.0 611.5,402.6 613.0,403.2 619.2,403.8 621.1,404.4 611.6,405.0 621.1,405.6 622.5,406.2 621.3,406.8 620.2,407.4 622.8,408.0 622.0,408.6 622.4,409.2 606.4,409.8 618.9,410.4 619.6,411.0 622.2,411.6 620.7,412.2 613.9,412.8 614.9,413.4 621.9,414.0 621.2,414.6 622.5,415.2 616.1,415.8 621.8,416.4 623.5,417.0 621.2,417.6 602.4,418.2 616.9,418.8 623.2,419.4 622.9,420.0 622.1,420.6 622.0,421.2 623.6,421.8 613.9,422.4 625.1,423.0 621.8,423.6 623.8,424.2 622.1,424.8 623.5,425.4 623.1,426.0 622.2,426.6 622.2,427.2 623.9,427.8 617.8,428.4 592.9,429.0 611.9,429.6 623.8,430.2 624.0,430.8 623.8,431.4 622.8,432.0 623.5,432.6 623.6,433.2 624.1,433.8 614.2,434.4 624.0,435.0 622.8,435.6 617.4,436.2 624.8,436.8 614.9,437.4 624.3,438.0 616.2,438.6 624.1,439.2 624.0,439.8 623.3,440.4 625.0,441.0 623.7,441.6 609.4,442.2 620.4,442.8 624.4,443.4 624.2,444.0 623.4,444.6 624.4,445.2 614.4,445.8 622.9,446.4 623.9,447.0 622.8,447.6 623.1,448.2 624.1,448.8 624.1,449.4 624.3,450.0 617.4,450.6 623.4,451.2 624.4,451.8 624.4,452.4 625.2,453.0 620.0,453.6 625.3,454.2 621.0,454.8 625.8,455.4 625.4,456.0 625.9,456.6 625.7,457.2 625.8,457.8 624.8,458.4 619.7,459.0 621.9,459.6 625.0,460.2 619.4,460.8 624.6,461.4 626.0,462.0 626.4,462.6 625.2,463.2 626.7,463.8 619.5,464.4 626.3,465.0 620.4,465.6 625.9,466.2 625.2,466.8 625.5,467.4 625.6,468.0 626.8,468.6 626.2,469.2 627.0,469.8 619.4,470.4 625.4,471.0 621.2,471.6 626.7,472.2 627.5,472.8 627.2,473.4 627.5,474.0 626.5,474.6 617.4,475.2 624.4,475.8 628.3,476.4 624.0,477.0 628.5,477.6 628.6,478.2 623.7,478.8 625.4,479.4 629.7,480.0 629.8,480.6 630.6,481.2 630.4,481.8 630.7,482.4 630.4,483.0 630.7,483.6 630.7,484.2 630.8,484.8 630.8,485.4 630.6,486.0 630.7,486.6 631.0,487.2 631.0,487.8 630.9,488.4 630.8,489.0 630.7,489.6 631.0,490.2 631.0,490.8 630.9,491.4 631.0,492.0 631.3,492.6 631.3,493.2 631.4,493.8 631.1,494.4 631.3,495.0" fill="none" stroke="#e00000" stroke-width="1.7" stroke-linejoin="round"/>
<polyline points="642.8,295.8 641.1,296.4 649.4,297.0 640.6,297.6 641.7,298.2 642.4,298.8 640.5,299.4 641.7,300.0 642.1,300.6 643.4,301.2 641.8,301.8 648.4,302.4 641.7,303.0 642.8,303.6 647.0,304.2 643.1,304.8 645.8,305.4 646.7,306.0 640.9,306.6 641.8,307.2 641.2,307.8 643.6,308.4 642.6,309.0 644.1,309.6 642.4,310.2 642.5,310.8 642.2,311.4 642.6,312.0 642.7,312.6 642.8,313.2 642.1,313.8 641.8,314.4 642.7,315.0 643.2,315.6 650.4,316.2 641.5,316.8 642.6,317.4 641.8,318.0 653.9,318.6 642.6,319.2 641.3,319.8 647.6,320.4 642.3,321.0 641.8,321.6 641.9,322.2 642.1,322.8 646.3,323.4 648.8,324.0 643.4,324.6 645.2,325.2 648.4,325.8 646.9,326.4 641.9,327.0 642.1,327.6 645.9,328.2 641.3,328.8 642.8,329.4 640.9,330.0 640.4,330.6 641.0,331.2 644.8,331.8 641.6,332.4 642.5,333.0 641.0,333.6 641.0,334.2 640.2,334.8 638.4,335.4 651.4,336.0 641.4,336.6 637.0,337.2 636.7,337.8 636.6,338.4 635.8,339.0 635.5,339.6 634.4,340.2 634.3,340.8 634.8,341.4 634.0,342.0 633.5,342.6 633.2,343.2 632.7,343.8 632.6,344.4 633.1,345.0 632.4,345.6 633.1,346.2 632.5,346.8 633.3,347.4 632.9,348.0 632.7,348.6 632.8,349.2 632.9,349.8 632.6,350.4 632.6,351.0 632.9,351.6 633.2,352.2 632.8,352.8 633.1,353.4 633.6,354.0 633.3,354.6 633.5,355.2 633.3,355.8 634.0,356.4 633.6,357.0 633.6,357.6 633.4,358.2 634.0,358.8 633.8,359.4 634.3,360.0 634.5,360.6 634.6,361.2 635.4,361.8 635.9,362.4 635.7,363.0 636.0,363.6 637.3,364.2 643.4,364.8 639.0,365.4 639.0,366.0 637.6,366.6 637.4,367.2 638.9,367.8 646.2,368.4 640.9,369.0 637.6,369.6 646.8,370.2 638.2,370.8 638.9,371.4 639.4,372.0 637.6,372.6 639.5,373.2 639.5,373.8 638.9,374.4 638.5,375.0 637.9,375.6 637.9,376.2 639.5,376.8 638.8,377.4 648.7,378.0 643.4,378.6 639.9,379.2 640.8,379.8 640.3,380.4 639.6,381.0 644.2,381.6 639.8,382.2 639.9,382.8 640.2,383.4 648.2,384.0 640.3,384.6 647.5,385.2 655.4,385.8 643.4,386.4 650.8,387.0 641.3,387.6 646.6,388.2 647.2,388.8 640.4,389.4 641.4,390.0 641.7,390.6 646.5,391.2 641.2,391.8 641.3,392.4 641.5,393.0 645.5,393.6 641.1,394.2 641.2,394.8 641.5,395.4 660.4,396.0 645.9,396.6 645.7,397.2 640.6,397.8 645.1,398.4 649.4,399.0 639.3,399.6 639.9,400.2 641.6,400.8 640.3,401.4 639.4,402.0 639.8,402.6 646.0,403.2 639.8,403.8 639.4,404.4 639.7,405.0 639.6,405.6 644.6,406.2 640.3,406.8 639.9,407.4 639.4,408.0 647.1,408.6 638.2,409.2 639.1,409.8 640.7,410.4 640.1,411.0 639.8,411.6 638.3,412.2 639.0,412.8 640.5,413.4 638.9,414.0 638.7,414.6 639.6,415.2 650.4,415.8 640.9,416.4 640.2,417.0 638.3,417.6 648.2,418.2 638.6,418.8 639.3,419.4 637.5,420.0 638.9,420.6 638.3,421.2 649.0,421.8 645.2,422.4 643.6,423.0 643.4,423.6 639.1,424.2 646.9,424.8 638.4,425.4 638.0,426.0 639.2,426.6 637.8,427.2 646.4,427.8 639.4,428.4 643.3,429.0 639.1,429.6 637.6,430.2 643.0,430.8 638.4,431.4 638.7,432.0 638.6,432.6 639.3,433.2 638.6,433.8 646.4,434.4 637.0,435.0 638.5,435.6 646.7,436.2 642.9,436.8 639.3,437.4 637.6,438.0 642.7,438.6 639.1,439.2 645.4,439.8 638.4,440.4 637.4,441.0 637.4,441.6 638.5,442.2 637.7,442.8 646.0,443.4 637.1,444.0 637.6,444.6 636.8,445.2 637.0,445.8 637.7,446.4 638.4,447.0 637.8,447.6 637.4,448.2 641.6,448.8 636.3,449.4 635.8,450.0 637.1,450.6 640.0,451.2 636.9,451.8 638.7,452.4 637.1,453.0 638.3,453.6 637.5,454.2 637.7,454.8 643.4,455.4 637.4,456.0 637.7,456.6 635.7,457.2 638.1,457.8 636.8,458.4 637.5,459.0 643.2,459.6 638.1,460.2 637.5,460.8 636.5,461.4 636.6,462.0 640.8,462.6 636.5,463.2 636.7,463.8 642.7,464.4 638.1,465.0 636.2,465.6 639.4,466.2 654.4,466.8 642.9,467.4 636.1,468.0 637.1,468.6 636.3,469.2 636.0,469.8 635.8,470.4 637.0,471.0 636.0,471.6 639.4,472.2 635.9,472.8 640.1,473.4 656.4,474.0 643.9,474.6 637.4,475.2 634.3,475.8 640.0,476.4 634.3,477.0 634.0,477.6 637.8,478.2 634.3,478.8 636.6,479.4 638.7,480.0 639.4,480.6 635.4,481.2 633.5,481.8 632.9,482.4 632.9,483.0 633.1,483.6 632.9,484.2 633.2,484.8 632.5,485.4 632.9,486.0 633.1,486.6 633.0,487.2 632.7,487.8 632.5,488.4 632.5,489.0 632.6,489.6 632.3,490.2 632.2,490.8 632.1,491.4 632.1,492.0 632.4,492.6 632.2,493.2 631.6,493.8 632.0,494.4 632.0,495.0" fill="none" stroke="#0000f0" stroke-width="1.7" stroke-linejoin="round"/></g>
<rect x="42.0" y="25.5" width="200.0" height="200.0" fill="none" stroke="#262626" stroke-width="1.3"/>
<line x1="115.21" y1="25.5" x2="115.21" y2="225.5" stroke="#262626" stroke-width="1.2"/>
<line x1="157.47" y1="25.5" x2="157.47" y2="225.5" stroke="#262626" stroke-width="1.2"/>
<line x1="42.0" y1="75.50" x2="242.0" y2="75.50" stroke="#262626" stroke-width="1.2"/>
<line x1="38.0" y1="225.50" x2="42.0" y2="225.50" stroke="#262626" stroke-width="1.2"/>
<line x1="35.0" y1="208.83" x2="42.0" y2="208.83" stroke="#262626" stroke-width="1.2"/>
<text x="30.8" y="212.93" text-anchor="end" font-size="11.5">-8</text>
<line x1="38.0" y1="192.17" x2="42.0" y2="192.17" stroke="#262626" stroke-width="1.2"/>
<line x1="35.0" y1="175.50" x2="42.0" y2="175.50" stroke="#262626" stroke-width="1.2"/>
<text x="30.8" y="179.60" text-anchor="end" font-size="11.5">-6</text>
<line x1="38.0" y1="158.83" x2="42.0" y2="158.83" stroke="#262626" stroke-width="1.2"/>
<line x1="35.0" y1="142.17" x2="42.0" y2="142.17" stroke="#262626" stroke-width="1.2"/>
<text x="30.8" y="146.27" text-anchor="end" font-size="11.5">-4</text>
<line x1="38.0" y1="125.50" x2="42.0" y2="125.50" stroke="#262626" stroke-width="1.2"/>
<line x1="35.0" y1="108.83" x2="42.0" y2="108.83" stroke="#262626" stroke-width="1.2"/>
<text x="30.8" y="112.93" text-anchor="end" font-size="11.5">-2</text>
<line x1="38.0" y1="92.17" x2="42.0" y2="92.17" stroke="#262626" stroke-width="1.2"/>
<line x1="35.0" y1="75.50" x2="42.0" y2="75.50" stroke="#262626" stroke-width="1.2"/>
<text x="30.8" y="79.60" text-anchor="end" font-size="11.5">0</text>
<line x1="38.0" y1="58.83" x2="42.0" y2="58.83" stroke="#262626" stroke-width="1.2"/>
<line x1="35.0" y1="42.17" x2="42.0" y2="42.17" stroke="#262626" stroke-width="1.2"/>
<text x="30.8" y="46.27" text-anchor="end" font-size="11.5">2</text>
<line x1="38.0" y1="25.50" x2="42.0" y2="25.50" stroke="#262626" stroke-width="1.2"/>
<text x="41.5" y="241.5" font-size="14">Γ</text>
<text x="115.81" y="241.5" font-size="14" text-anchor="middle">M</text>
<text x="158.17" y="241.5" font-size="14" text-anchor="middle">K</text>
<text x="243.4" y="241.5" font-size="14" text-anchor="end">Γ</text>
<text transform="translate(11.7,120.5) rotate(-90)" text-anchor="middle" font-size="13.8">E - E<tspan font-size="9.5" dy="3">F</tspan><tspan dy="-3"> (eV)</tspan></text>
<rect x="246.8" y="25.5" width="78.0" height="200.0" fill="none" stroke="#262626" stroke-width="1.3"/>
<line x1="324.8" y1="225.50" x2="328.8" y2="225.50" stroke="#262626" stroke-width="1.2"/>
<line x1="324.8" y1="208.83" x2="331.8" y2="208.83" stroke="#262626" stroke-width="1.2"/>
<line x1="324.8" y1="192.17" x2="328.8" y2="192.17" stroke="#262626" stroke-width="1.2"/>
<line x1="324.8" y1="175.50" x2="331.8" y2="175.50" stroke="#262626" stroke-width="1.2"/>
<line x1="324.8" y1="158.83" x2="328.8" y2="158.83" stroke="#262626" stroke-width="1.2"/>
<line x1="324.8" y1="142.17" x2="331.8" y2="142.17" stroke="#262626" stroke-width="1.2"/>
<line x1="324.8" y1="125.50" x2="328.8" y2="125.50" stroke="#262626" stroke-width="1.2"/>
<line x1="324.8" y1="108.83" x2="331.8" y2="108.83" stroke="#262626" stroke-width="1.2"/>
<line x1="324.8" y1="92.17" x2="328.8" y2="92.17" stroke="#262626" stroke-width="1.2"/>
<line x1="324.8" y1="75.50" x2="331.8" y2="75.50" stroke="#262626" stroke-width="1.2"/>
<line x1="324.8" y1="58.83" x2="328.8" y2="58.83" stroke="#262626" stroke-width="1.2"/>
<line x1="324.8" y1="42.17" x2="331.8" y2="42.17" stroke="#262626" stroke-width="1.2"/>
<line x1="324.8" y1="25.50" x2="328.8" y2="25.50" stroke="#262626" stroke-width="1.2"/>
<line x1="246.8" y1="75.50" x2="332.8" y2="75.50" stroke="#262626" stroke-width="1.2"/>
<line x1="246.70" y1="225.5" x2="246.70" y2="231.5" stroke="#262626" stroke-width="1.2"/>
<line x1="266.15" y1="225.5" x2="266.15" y2="228.8" stroke="#262626" stroke-width="1.2"/>
<line x1="285.60" y1="225.5" x2="285.60" y2="231.5" stroke="#262626" stroke-width="1.2"/>
<line x1="305.05" y1="225.5" x2="305.05" y2="228.8" stroke="#262626" stroke-width="1.2"/>
<line x1="324.50" y1="225.5" x2="324.50" y2="231.5" stroke="#262626" stroke-width="1.2"/>
<text x="285.80" y="242.0" font-size="11" text-anchor="middle">0.1</text>
<text x="324.70" y="242.0" font-size="11" text-anchor="middle">0</text>
<text x="243.20000000000002" y="258.7" font-size="12">DOS (eV<tspan font-size="8.5" dy="-4.5">-1</tspan><tspan dy="4.5">atom</tspan><tspan font-size="8.5" dy="-4.5">-1</tspan><tspan dy="4.5">)</tspan></text>
<rect x="387.5" y="25.5" width="200.0" height="200.0" fill="none" stroke="#262626" stroke-width="1.3"/>
<line x1="460.71" y1="25.5" x2="460.71" y2="225.5" stroke="#262626" stroke-width="1.2"/>
<line x1="502.97" y1="25.5" x2="502.97" y2="225.5" stroke="#262626" stroke-width="1.2"/>
<line x1="387.5" y1="75.50" x2="587.5" y2="75.50" stroke="#262626" stroke-width="1.2"/>
<line x1="383.5" y1="225.50" x2="387.5" y2="225.50" stroke="#262626" stroke-width="1.2"/>
<line x1="380.5" y1="208.83" x2="387.5" y2="208.83" stroke="#262626" stroke-width="1.2"/>
<text x="376.3" y="212.93" text-anchor="end" font-size="11.5">-8</text>
<line x1="383.5" y1="192.17" x2="387.5" y2="192.17" stroke="#262626" stroke-width="1.2"/>
<line x1="380.5" y1="175.50" x2="387.5" y2="175.50" stroke="#262626" stroke-width="1.2"/>
<text x="376.3" y="179.60" text-anchor="end" font-size="11.5">-6</text>
<line x1="383.5" y1="158.83" x2="387.5" y2="158.83" stroke="#262626" stroke-width="1.2"/>
<line x1="380.5" y1="142.17" x2="387.5" y2="142.17" stroke="#262626" stroke-width="1.2"/>
<text x="376.3" y="146.27" text-anchor="end" font-size="11.5">-4</text>
<line x1="383.5" y1="125.50" x2="387.5" y2="125.50" stroke="#262626" stroke-width="1.2"/>
<line x1="380.5" y1="108.83" x2="387.5" y2="108.83" stroke="#262626" stroke-width="1.2"/>
<text x="376.3" y="112.93" text-anchor="end" font-size="11.5">-2</text>
<line x1="383.5" y1="92.17" x2="387.5" y2="92.17" stroke="#262626" stroke-width="1.2"/>
<line x1="380.5" y1="75.50" x2="387.5" y2="75.50" stroke="#262626" stroke-width="1.2"/>
<text x="376.3" y="79.60" text-anchor="end" font-size="11.5">0</text>
<line x1="383.5" y1="58.83" x2="387.5" y2="58.83" stroke="#262626" stroke-width="1.2"/>
<line x1="380.5" y1="42.17" x2="387.5" y2="42.17" stroke="#262626" stroke-width="1.2"/>
<text x="376.3" y="46.27" text-anchor="end" font-size="11.5">2</text>
<line x1="383.5" y1="25.50" x2="387.5" y2="25.50" stroke="#262626" stroke-width="1.2"/>
<text x="387.0" y="241.5" font-size="14">Γ</text>
<text x="461.31" y="241.5" font-size="14" text-anchor="middle">M</text>
<text x="503.67" y="241.5" font-size="14" text-anchor="middle">K</text>
<text x="588.9" y="241.5" font-size="14" text-anchor="end">Γ</text>
<text transform="translate(357.2,120.5) rotate(-90)" text-anchor="middle" font-size="13.8">E - E<tspan font-size="9.5" dy="3">F</tspan><tspan dy="-3"> (eV)</tspan></text>
<rect x="592.3" y="25.5" width="78.0" height="200.0" fill="none" stroke="#262626" stroke-width="1.3"/>
<line x1="670.3" y1="225.50" x2="674.3" y2="225.50" stroke="#262626" stroke-width="1.2"/>
<line x1="670.3" y1="208.83" x2="677.3" y2="208.83" stroke="#262626" stroke-width="1.2"/>
<line x1="670.3" y1="192.17" x2="674.3" y2="192.17" stroke="#262626" stroke-width="1.2"/>
<line x1="670.3" y1="175.50" x2="677.3" y2="175.50" stroke="#262626" stroke-width="1.2"/>
<line x1="670.3" y1="158.83" x2="674.3" y2="158.83" stroke="#262626" stroke-width="1.2"/>
<line x1="670.3" y1="142.17" x2="677.3" y2="142.17" stroke="#262626" stroke-width="1.2"/>
<line x1="670.3" y1="125.50" x2="674.3" y2="125.50" stroke="#262626" stroke-width="1.2"/>
<line x1="670.3" y1="108.83" x2="677.3" y2="108.83" stroke="#262626" stroke-width="1.2"/>
<line x1="670.3" y1="92.17" x2="674.3" y2="92.17" stroke="#262626" stroke-width="1.2"/>
<line x1="670.3" y1="75.50" x2="677.3" y2="75.50" stroke="#262626" stroke-width="1.2"/>
<line x1="670.3" y1="58.83" x2="674.3" y2="58.83" stroke="#262626" stroke-width="1.2"/>
<line x1="670.3" y1="42.17" x2="677.3" y2="42.17" stroke="#262626" stroke-width="1.2"/>
<line x1="670.3" y1="25.50" x2="674.3" y2="25.50" stroke="#262626" stroke-width="1.2"/>
<line x1="592.3" y1="75.50" x2="678.3" y2="75.50" stroke="#262626" stroke-width="1.2"/>
<line x1="631.40" y1="25.5" x2="631.40" y2="225.5" stroke="#262626" stroke-width="1.1"/>
<line x1="605.40" y1="225.5" x2="605.40" y2="231.5" stroke="#262626" stroke-width="1.2"/>
<line x1="618.40" y1="225.5" x2="618.40" y2="228.8" stroke="#262626" stroke-width="1.2"/>
<line x1="631.40" y1="225.5" x2="631.40" y2="231.5" stroke="#262626" stroke-width="1.2"/>
<line x1="644.40" y1="225.5" x2="644.40" y2="228.8" stroke="#262626" stroke-width="1.2"/>
<line x1="657.40" y1="225.5" x2="657.40" y2="231.5" stroke="#262626" stroke-width="1.2"/>
<text x="604.20" y="242.0" font-size="11" text-anchor="middle">-0.1</text>
<text x="631.70" y="242.0" font-size="11" text-anchor="middle">0</text>
<text x="657.60" y="242.0" font-size="11" text-anchor="middle">0.1</text>
<text x="588.6999999999999" y="258.7" font-size="12">DOS (eV<tspan font-size="8.5" dy="-4.5">-1</tspan><tspan dy="4.5">atom</tspan><tspan font-size="8.5" dy="-4.5">-1</tspan><tspan dy="4.5">)</tspan></text>
<rect x="42.0" y="295.5" width="200.0" height="200.0" fill="none" stroke="#262626" stroke-width="1.3"/>
<line x1="115.21" y1="295.5" x2="115.21" y2="495.5" stroke="#262626" stroke-width="1.2"/>
<line x1="157.47" y1="295.5" x2="157.47" y2="495.5" stroke="#262626" stroke-width="1.2"/>
<line x1="42.0" y1="345.50" x2="242.0" y2="345.50" stroke="#262626" stroke-width="1.2"/>
<line x1="38.0" y1="495.50" x2="42.0" y2="495.50" stroke="#262626" stroke-width="1.2"/>
<line x1="35.0" y1="478.83" x2="42.0" y2="478.83" stroke="#262626" stroke-width="1.2"/>
<text x="30.8" y="482.93" text-anchor="end" font-size="11.5">-8</text>
<line x1="38.0" y1="462.17" x2="42.0" y2="462.17" stroke="#262626" stroke-width="1.2"/>
<line x1="35.0" y1="445.50" x2="42.0" y2="445.50" stroke="#262626" stroke-width="1.2"/>
<text x="30.8" y="449.60" text-anchor="end" font-size="11.5">-6</text>
<line x1="38.0" y1="428.83" x2="42.0" y2="428.83" stroke="#262626" stroke-width="1.2"/>
<line x1="35.0" y1="412.17" x2="42.0" y2="412.17" stroke="#262626" stroke-width="1.2"/>
<text x="30.8" y="416.27" text-anchor="end" font-size="11.5">-4</text>
<line x1="38.0" y1="395.50" x2="42.0" y2="395.50" stroke="#262626" stroke-width="1.2"/>
<line x1="35.0" y1="378.83" x2="42.0" y2="378.83" stroke="#262626" stroke-width="1.2"/>
<text x="30.8" y="382.93" text-anchor="end" font-size="11.5">-2</text>
<line x1="38.0" y1="362.17" x2="42.0" y2="362.17" stroke="#262626" stroke-width="1.2"/>
<line x1="35.0" y1="345.50" x2="42.0" y2="345.50" stroke="#262626" stroke-width="1.2"/>
<text x="30.8" y="349.60" text-anchor="end" font-size="11.5">0</text>
<line x1="38.0" y1="328.83" x2="42.0" y2="328.83" stroke="#262626" stroke-width="1.2"/>
<line x1="35.0" y1="312.17" x2="42.0" y2="312.17" stroke="#262626" stroke-width="1.2"/>
<text x="30.8" y="316.27" text-anchor="end" font-size="11.5">2</text>
<line x1="38.0" y1="295.50" x2="42.0" y2="295.50" stroke="#262626" stroke-width="1.2"/>
<text x="41.5" y="511.5" font-size="14">Γ</text>
<text x="115.81" y="511.5" font-size="14" text-anchor="middle">M</text>
<text x="158.17" y="511.5" font-size="14" text-anchor="middle">K</text>
<text x="243.4" y="511.5" font-size="14" text-anchor="end">Γ</text>
<text transform="translate(11.7,390.5) rotate(-90)" text-anchor="middle" font-size="13.8">E - E<tspan font-size="9.5" dy="3">F</tspan><tspan dy="-3"> (eV)</tspan></text>
<rect x="246.8" y="295.5" width="78.0" height="200.0" fill="none" stroke="#262626" stroke-width="1.3"/>
<line x1="324.8" y1="495.50" x2="328.8" y2="495.50" stroke="#262626" stroke-width="1.2"/>
<line x1="324.8" y1="478.83" x2="331.8" y2="478.83" stroke="#262626" stroke-width="1.2"/>
<line x1="324.8" y1="462.17" x2="328.8" y2="462.17" stroke="#262626" stroke-width="1.2"/>
<line x1="324.8" y1="445.50" x2="331.8" y2="445.50" stroke="#262626" stroke-width="1.2"/>
<line x1="324.8" y1="428.83" x2="328.8" y2="428.83" stroke="#262626" stroke-width="1.2"/>
<line x1="324.8" y1="412.17" x2="331.8" y2="412.17" stroke="#262626" stroke-width="1.2"/>
<line x1="324.8" y1="395.50" x2="328.8" y2="395.50" stroke="#262626" stroke-width="1.2"/>
<line x1="324.8" y1="378.83" x2="331.8" y2="378.83" stroke="#262626" stroke-width="1.2"/>
<line x1="324.8" y1="362.17" x2="328.8" y2="362.17" stroke="#262626" stroke-width="1.2"/>
<line x1="324.8" y1="345.50" x2="331.8" y2="345.50" stroke="#262626" stroke-width="1.2"/>
<line x1="324.8" y1="328.83" x2="328.8" y2="328.83" stroke="#262626" stroke-width="1.2"/>
<line x1="324.8" y1="312.17" x2="331.8" y2="312.17" stroke="#262626" stroke-width="1.2"/>
<line x1="324.8" y1="295.50" x2="328.8" y2="295.50" stroke="#262626" stroke-width="1.2"/>
<line x1="246.8" y1="345.50" x2="332.8" y2="345.50" stroke="#262626" stroke-width="1.2"/>
<line x1="285.90" y1="295.5" x2="285.90" y2="495.5" stroke="#262626" stroke-width="1.1"/>
<line x1="259.90" y1="495.5" x2="259.90" y2="501.5" stroke="#262626" stroke-width="1.2"/>
<line x1="272.90" y1="495.5" x2="272.90" y2="498.8" stroke="#262626" stroke-width="1.2"/>
<line x1="285.90" y1="495.5" x2="285.90" y2="501.5" stroke="#262626" stroke-width="1.2"/>
<line x1="298.90" y1="495.5" x2="298.90" y2="498.8" stroke="#262626" stroke-width="1.2"/>
<line x1="311.90" y1="495.5" x2="311.90" y2="501.5" stroke="#262626" stroke-width="1.2"/>
<text x="258.70" y="512.0" font-size="11" text-anchor="middle">-0.1</text>
<text x="286.20" y="512.0" font-size="11" text-anchor="middle">0</text>
<text x="312.10" y="512.0" font-size="11" text-anchor="middle">0.1</text>
<text x="243.20000000000002" y="528.7" font-size="12">DOS (eV<tspan font-size="8.5" dy="-4.5">-1</tspan><tspan dy="4.5">atom</tspan><tspan font-size="8.5" dy="-4.5">-1</tspan><tspan dy="4.5">)</tspan></text>
<rect x="387.5" y="295.5" width="200.0" height="200.0" fill="none" stroke="#262626" stroke-width="1.3"/>
<line x1="460.71" y1="295.5" x2="460.71" y2="495.5" stroke="#262626" stroke-width="1.2"/>
<line x1="502.97" y1="295.5" x2="502.97" y2="495.5" stroke="#262626" stroke-width="1.2"/>
<line x1="387.5" y1="345.50" x2="587.5" y2="345.50" stroke="#262626" stroke-width="1.2"/>
<line x1="383.5" y1="495.50" x2="387.5" y2="495.50" stroke="#262626" stroke-width="1.2"/>
<line x1="380.5" y1="478.83" x2="387.5" y2="478.83" stroke="#262626" stroke-width="1.2"/>
<text x="376.3" y="482.93" text-anchor="end" font-size="11.5">-8</text>
<line x1="383.5" y1="462.17" x2="387.5" y2="462.17" stroke="#262626" stroke-width="1.2"/>
<line x1="380.5" y1="445.50" x2="387.5" y2="445.50" stroke="#262626" stroke-width="1.2"/>
<text x="376.3" y="449.60" text-anchor="end" font-size="11.5">-6</text>
<line x1="383.5" y1="428.83" x2="387.5" y2="428.83" stroke="#262626" stroke-width="1.2"/>
<line x1="380.5" y1="412.17" x2="387.5" y2="412.17" stroke="#262626" stroke-width="1.2"/>
<text x="376.3" y="416.27" text-anchor="end" font-size="11.5">-4</text>
<line x1="383.5" y1="395.50" x2="387.5" y2="395.50" stroke="#262626" stroke-width="1.2"/>
<line x1="380.5" y1="378.83" x2="387.5" y2="378.83" stroke="#262626" stroke-width="1.2"/>
<text x="376.3" y="382.93" text-anchor="end" font-size="11.5">-2</text>
<line x1="383.5" y1="362.17" x2="387.5" y2="362.17" stroke="#262626" stroke-width="1.2"/>
<line x1="380.5" y1="345.50" x2="387.5" y2="345.50" stroke="#262626" stroke-width="1.2"/>
<text x="376.3" y="349.60" text-anchor="end" font-size="11.5">0</text>
<line x1="383.5" y1="328.83" x2="387.5" y2="328.83" stroke="#262626" stroke-width="1.2"/>
<line x1="380.5" y1="312.17" x2="387.5" y2="312.17" stroke="#262626" stroke-width="1.2"/>
<text x="376.3" y="316.27" text-anchor="end" font-size="11.5">2</text>
<line x1="383.5" y1="295.50" x2="387.5" y2="295.50" stroke="#262626" stroke-width="1.2"/>
<text x="387.0" y="511.5" font-size="14">Γ</text>
<text x="461.31" y="511.5" font-size="14" text-anchor="middle">M</text>
<text x="503.67" y="511.5" font-size="14" text-anchor="middle">K</text>
<text x="588.9" y="511.5" font-size="14" text-anchor="end">Γ</text>
<text transform="translate(357.2,390.5) rotate(-90)" text-anchor="middle" font-size="13.8">E - E<tspan font-size="9.5" dy="3">F</tspan><tspan dy="-3"> (eV)</tspan></text>
<rect x="592.3" y="295.5" width="78.0" height="200.0" fill="none" stroke="#262626" stroke-width="1.3"/>
<line x1="670.3" y1="495.50" x2="674.3" y2="495.50" stroke="#262626" stroke-width="1.2"/>
<line x1="670.3" y1="478.83" x2="677.3" y2="478.83" stroke="#262626" stroke-width="1.2"/>
<line x1="670.3" y1="462.17" x2="674.3" y2="462.17" stroke="#262626" stroke-width="1.2"/>
<line x1="670.3" y1="445.50" x2="677.3" y2="445.50" stroke="#262626" stroke-width="1.2"/>
<line x1="670.3" y1="428.83" x2="674.3" y2="428.83" stroke="#262626" stroke-width="1.2"/>
<line x1="670.3" y1="412.17" x2="677.3" y2="412.17" stroke="#262626" stroke-width="1.2"/>
<line x1="670.3" y1="395.50" x2="674.3" y2="395.50" stroke="#262626" stroke-width="1.2"/>
<line x1="670.3" y1="378.83" x2="677.3" y2="378.83" stroke="#262626" stroke-width="1.2"/>
<line x1="670.3" y1="362.17" x2="674.3" y2="362.17" stroke="#262626" stroke-width="1.2"/>
<line x1="670.3" y1="345.50" x2="677.3" y2="345.50" stroke="#262626" stroke-width="1.2"/>
<line x1="670.3" y1="328.83" x2="674.3" y2="328.83" stroke="#262626" stroke-width="1.2"/>
<line x1="670.3" y1="312.17" x2="677.3" y2="312.17" stroke="#262626" stroke-width="1.2"/>
<line x1="670.3" y1="295.50" x2="674.3" y2="295.50" stroke="#262626" stroke-width="1.2"/>
<line x1="592.3" y1="345.50" x2="678.3" y2="345.50" stroke="#262626" stroke-width="1.2"/>
<line x1="631.40" y1="295.5" x2="631.40" y2="495.5" stroke="#262626" stroke-width="1.1"/>
<line x1="605.40" y1="495.5" x2="605.40" y2="501.5" stroke="#262626" stroke-width="1.2"/>
<line x1="618.40" y1="495.5" x2="618.40" y2="498.8" stroke="#262626" stroke-width="1.2"/>
<line x1="631.40" y1="495.5" x2="631.40" y2="501.5" stroke="#262626" stroke-width="1.2"/>
<line x1="644.40" y1="495.5" x2="644.40" y2="498.8" stroke="#262626" stroke-width="1.2"/>
<line x1="657.40" y1="495.5" x2="657.40" y2="501.5" stroke="#262626" stroke-width="1.2"/>
<text x="604.20" y="512.0" font-size="11" text-anchor="middle">-0.1</text>
<text x="631.70" y="512.0" font-size="11" text-anchor="middle">0</text>
<text x="657.60" y="512.0" font-size="11" text-anchor="middle">0.1</text>
<text x="588.6999999999999" y="528.7" font-size="12">DOS (eV<tspan font-size="8.5" dy="-4.5">-1</tspan><tspan dy="4.5">atom</tspan><tspan font-size="8.5" dy="-4.5">-1</tspan><tspan dy="4.5">)</tspan></text>
<text x="40.3" y="16.2" font-size="13.6">(a) graphene/Cu(111)</text>
<text x="385.8" y="16.2" font-size="13.6">(b) graphene/Mn/Cu(111)</text>
<text x="40.3" y="286.2" font-size="13.6">(c) graphene/Cu<tspan font-size="9.5" dy="3.5">2</tspan><tspan dy="-3.5">Mn/Cu(111) - model A</tspan></text>
<text x="385.8" y="286.2" font-size="13.6">(d) graphene/Cu<tspan font-size="9.5" dy="3.5">2</tspan><tspan dy="-3.5">Mn/Cu(111) - model B</tspan></text>
<line x1="594" y1="6.6" x2="608.4" y2="6.6" stroke="#e00000" stroke-width="2.2"/>
<line x1="594" y1="19" x2="608.4" y2="19" stroke="#0000f0" stroke-width="2.2"/>
<text x="617.2" y="10.6" font-size="12.3">spin-up</text>
<text x="617.2" y="22.4" font-size="12.3">spin-down</text>
</svg>
</body></html>
